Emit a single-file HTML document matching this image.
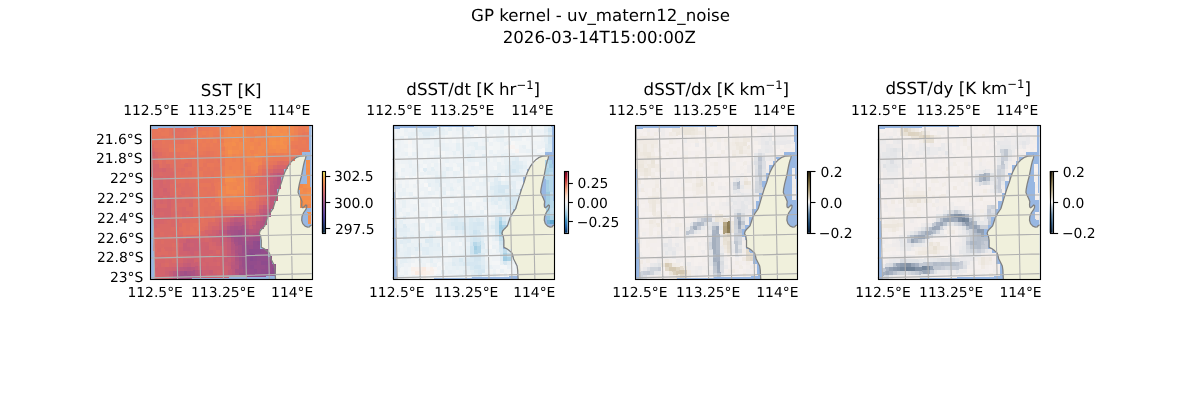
<!DOCTYPE html>
<html><head><meta charset="utf-8"><title>GP kernel</title>
<style>html,body{margin:0;padding:0;background:#fff;width:1200px;height:400px;overflow:hidden}svg{display:block;text-rendering:geometricPrecision;will-change:transform}</style>
</head><body>
<svg width="1200" height="400" viewBox="0 0 1200 400" font-family="'DejaVu Sans', sans-serif">
<rect width="1200" height="400" fill="#fff"/>
<defs>
<clipPath id="mc"><rect x="0" y="0" width="161.74" height="153.60"/></clipPath>
<path id="land" d="M125.69 155.60 L125.29 150.20 L125.09 145.00 L124.49 140.60 L122.79 137.10 L120.99 133.60 L120.14 130.10 L119.29 127.50 L116.64 125.20 L113.89 123.20 L111.29 121.90 L111.29 119.10 L111.29 115.00 L110.64 110.85 L109.29 108.10 L109.99 105.60 L111.99 103.30 L114.79 100.50 L116.14 96.40 L117.49 92.30 L119.59 88.20 L122.99 83.35 L125.09 76.50 L126.89 70.30 L128.89 64.00 L131.49 57.00 L133.29 50.85 L134.79 46.80 L137.19 42.00 L140.39 37.20 L143.59 34.00 L146.39 32.00 L149.99 30.80 L153.99 30.40 L155.59 30.00 L155.99 30.80 L155.59 32.80 L154.59 35.60 L153.59 39.60 L152.59 44.40 L151.59 50.00 L150.39 54.60 L149.39 58.50 L148.39 63.70 L148.09 67.00 L149.09 69.60 L150.69 72.80 L151.99 76.10 L151.69 79.30 L151.89 81.60 L152.89 82.40 L154.39 81.10 L155.89 79.60 L156.79 80.20 L156.69 82.10 L155.59 84.50 L153.69 87.10 L151.99 91.00 L151.69 94.90 L152.69 98.20 L154.99 100.80 L157.59 101.70 L159.49 101.40 L160.49 100.10 L165.39 98.60 L175 98.60 L175 165 L125.69 165 Z"/>
<path id="coast" d="M125.69 155.60 L125.29 150.20 L125.09 145.00 L124.49 140.60 L122.79 137.10 L120.99 133.60 L120.14 130.10 L119.29 127.50 L116.64 125.20 L113.89 123.20 L111.29 121.90 L111.29 119.10 L111.29 115.00 L110.64 110.85 L109.29 108.10 L109.99 105.60 L111.99 103.30 L114.79 100.50 L116.14 96.40 L117.49 92.30 L119.59 88.20 L122.99 83.35 L125.09 76.50 L126.89 70.30 L128.89 64.00 L131.49 57.00 L133.29 50.85 L134.79 46.80 L137.19 42.00 L140.39 37.20 L143.59 34.00 L146.39 32.00 L149.99 30.80 L153.99 30.40 L155.59 30.00 L155.99 30.80 L155.59 32.80 L154.59 35.60 L153.59 39.60 L152.59 44.40 L151.59 50.00 L150.39 54.60 L149.39 58.50 L148.39 63.70 L148.09 67.00 L149.09 69.60 L150.69 72.80 L151.99 76.10 L151.69 79.30 L151.89 81.60 L152.89 82.40 L154.39 81.10 L155.89 79.60 L156.79 80.20 L156.69 82.10 L155.59 84.50 L153.69 87.10 L151.99 91.00 L151.69 94.90 L152.69 98.20 L154.99 100.80 L157.59 101.70 L159.49 101.40 L160.49 100.10 L165.39 98.60"/>
<path id="grid" d="M0.93 -3.00 L4.77 156.60 M23.98 -3.00 L27.69 156.60 M47.03 -3.00 L50.61 156.60 M70.09 -3.00 L73.52 156.60 M93.14 -3.00 L96.44 156.60 M116.19 -3.00 L119.36 156.60 M139.24 -3.00 L142.28 156.60 M162.30 -3.00 L165.19 156.60 M-3.00 14.27 L164.74 10.25 M-3.00 34.02 L164.74 29.95 M-3.00 53.77 L164.74 49.65 M-3.00 73.52 L164.74 69.35 M-3.00 93.28 L164.74 89.05 M-3.00 113.03 L164.74 108.75 M-3.00 132.78 L164.74 128.45 M-3.00 152.53 L164.74 148.15 M-3.00 172.28 L164.74 167.85"/>
<linearGradient id="g0" x1="0" y1="1" x2="0" y2="0">
<stop offset="0" stop-color="#0a2a3a"/><stop offset="0.12" stop-color="#1e3470"/><stop offset="0.25" stop-color="#4a3c9c"/>
<stop offset="0.4" stop-color="#7a4a98"/><stop offset="0.5" stop-color="#a2568a"/><stop offset="0.62" stop-color="#cc6474"/>
<stop offset="0.75" stop-color="#ec7a58"/><stop offset="0.88" stop-color="#f7a046"/><stop offset="1" stop-color="#e8f25c"/></linearGradient>
<linearGradient id="g1" x1="0" y1="1" x2="0" y2="0">
<stop offset="0" stop-color="#053061"/><stop offset="0.1" stop-color="#2166ac"/><stop offset="0.2" stop-color="#4393c3"/>
<stop offset="0.3" stop-color="#92c5de"/><stop offset="0.4" stop-color="#d1e5f0"/><stop offset="0.5" stop-color="#f7f7f7"/>
<stop offset="0.6" stop-color="#fddbc7"/><stop offset="0.7" stop-color="#f4a582"/><stop offset="0.8" stop-color="#d6604d"/>
<stop offset="0.9" stop-color="#b2182b"/><stop offset="1" stop-color="#67001f"/></linearGradient>
<linearGradient id="g2" x1="0" y1="1" x2="0" y2="0">
<stop offset="0" stop-color="#0b1d33"/><stop offset="0.15" stop-color="#1f4a72"/><stop offset="0.3" stop-color="#5b7f9f"/>
<stop offset="0.42" stop-color="#b4c4d2"/><stop offset="0.5" stop-color="#fdfcfb"/><stop offset="0.58" stop-color="#d7cfbd"/>
<stop offset="0.7" stop-color="#a89a74"/><stop offset="0.85" stop-color="#6a5b30"/><stop offset="1" stop-color="#231d0b"/></linearGradient>
</defs>
<text x="600.50" y="21.00" font-size="16.667" text-anchor="middle">GP kernel - uv_matern12_noise</text>
<text x="599.25" y="42.50" font-size="16.667" text-anchor="middle">2026-03-14T15:00:00Z</text>
<text x="231.12" y="95.50" font-size="16.667" text-anchor="middle">SST [K]</text>
<g transform="translate(150.00 125.40)"><g clip-path="url(#mc)">
<rect x="0" y="0" width="161.74" height="153.60" fill="#98b7e2"/>
<use href="#land" fill="#f0f0dc"/>
<g transform="matrix(0.99964 -0.02700 0.02700 0.99964 0.20 3.30)" shape-rendering="crispEdges">
<path fill="#e7765a" d="M0.00 0.00h7.40v3.99h-7.40zM11.07 0.00h3.71v3.99h-3.71zM0.00 3.97h11.09v3.99h-11.09zM44.28 3.97h3.71v3.99h-3.71zM7.38 7.94h3.71v3.99h-3.71zM14.76 7.94h7.40v3.99h-7.40zM151.29 7.94h3.71v3.99h-3.71zM11.07 11.91h3.71v3.99h-3.71zM18.45 15.88h3.71v3.99h-3.71zM25.83 15.88h7.40v3.99h-7.40zM36.90 15.88h7.40v3.99h-7.40zM22.14 19.85h3.71v3.99h-3.71zM29.52 19.85h3.71v3.99h-3.71zM36.90 19.85h3.71v3.99h-3.71zM36.90 23.82h3.71v3.99h-3.71zM51.66 23.82h3.71v3.99h-3.71zM59.04 23.82h3.71v3.99h-3.71zM29.52 27.79h3.71v3.99h-3.71zM59.04 27.79h3.71v3.99h-3.71zM51.66 31.76h3.71v3.99h-3.71zM62.73 31.76h3.71v3.99h-3.71zM129.15 31.76h11.09v3.99h-11.09zM62.73 35.73h7.40v3.99h-7.40zM118.08 35.73h3.71v3.99h-3.71zM44.28 39.70h3.71v3.99h-3.71zM51.66 39.70h3.71v3.99h-3.71zM59.04 39.70h3.71v3.99h-3.71zM44.28 43.67h3.71v3.99h-3.71zM62.73 43.67h7.40v3.99h-7.40zM107.01 43.67h3.71v3.99h-3.71zM55.35 47.64h3.71v3.99h-3.71zM62.73 47.64h7.40v3.99h-7.40zM103.32 47.64h3.71v3.99h-3.71zM62.73 51.61h7.40v3.99h-7.40zM95.94 51.61h3.71v3.99h-3.71zM47.97 55.58h11.09v3.99h-11.09zM99.63 55.58h3.71v3.99h-3.71zM99.63 59.55h3.71v3.99h-3.71zM62.73 67.49h3.71v3.99h-3.71zM99.63 71.46h3.71v3.99h-3.71zM73.80 79.40h3.71v3.99h-3.71zM84.87 79.40h3.71v3.99h-3.71z"/>
<path fill="#e97859" d="M7.38 0.00h3.71v3.99h-3.71zM14.76 0.00h3.71v3.99h-3.71zM47.97 0.00h3.71v3.99h-3.71zM11.07 3.97h7.40v3.99h-7.40zM40.59 7.94h3.71v3.99h-3.71zM154.98 7.94h3.71v3.99h-3.71zM40.59 11.91h3.71v3.99h-3.71zM66.42 11.91h3.71v3.99h-3.71zM151.29 11.91h7.40v3.99h-7.40zM33.21 15.88h3.71v3.99h-3.71zM154.98 15.88h3.71v3.99h-3.71zM18.45 19.85h3.71v3.99h-3.71zM25.83 19.85h3.71v3.99h-3.71zM33.21 19.85h3.71v3.99h-3.71zM44.28 19.85h3.71v3.99h-3.71zM55.35 19.85h3.71v3.99h-3.71zM143.91 19.85h3.71v3.99h-3.71zM40.59 23.82h3.71v3.99h-3.71zM47.97 23.82h3.71v3.99h-3.71zM62.73 23.82h3.71v3.99h-3.71zM147.60 23.82h7.40v3.99h-7.40zM62.73 27.79h7.40v3.99h-7.40zM147.60 27.79h3.71v3.99h-3.71zM47.97 31.76h3.71v3.99h-3.71zM121.77 31.76h7.40v3.99h-7.40zM47.97 35.73h3.71v3.99h-3.71zM55.35 35.73h7.40v3.99h-7.40zM70.11 35.73h3.71v3.99h-3.71zM114.39 35.73h3.71v3.99h-3.71zM47.97 43.67h3.71v3.99h-3.71zM47.97 47.64h3.71v3.99h-3.71zM62.73 55.58h3.71v3.99h-3.71zM95.94 55.58h3.71v3.99h-3.71zM62.73 59.55h3.71v3.99h-3.71zM95.94 59.55h3.71v3.99h-3.71zM62.73 63.52h3.71v3.99h-3.71zM95.94 63.52h3.71v3.99h-3.71zM95.94 67.49h3.71v3.99h-3.71zM62.73 71.46h3.71v3.99h-3.71zM95.94 71.46h3.71v3.99h-3.71zM92.25 75.43h3.71v3.99h-3.71zM77.49 79.40h7.40v3.99h-7.40zM88.56 79.40h3.71v3.99h-3.71z"/>
<path fill="#e5745c" d="M18.45 0.00h3.71v3.99h-3.71zM18.45 3.97h3.71v3.99h-3.71zM40.59 3.97h3.71v3.99h-3.71zM0.00 7.94h7.40v3.99h-7.40zM11.07 7.94h3.71v3.99h-3.71zM36.90 7.94h3.71v3.99h-3.71zM14.76 11.91h11.09v3.99h-11.09zM33.21 11.91h7.40v3.99h-7.40zM11.07 15.88h7.40v3.99h-7.40zM22.14 15.88h3.71v3.99h-3.71zM40.59 19.85h3.71v3.99h-3.71zM29.52 23.82h7.40v3.99h-7.40zM44.28 23.82h3.71v3.99h-3.71zM55.35 23.82h3.71v3.99h-3.71zM33.21 27.79h25.85v3.99h-25.85zM40.59 31.76h3.71v3.99h-3.71zM55.35 31.76h7.40v3.99h-7.40zM140.22 31.76h3.71v3.99h-3.71zM40.59 35.73h7.40v3.99h-7.40zM51.66 35.73h3.71v3.99h-3.71zM121.77 35.73h3.71v3.99h-3.71zM47.97 39.70h3.71v3.99h-3.71zM55.35 39.70h3.71v3.99h-3.71zM62.73 39.70h7.40v3.99h-7.40zM110.70 39.70h7.40v3.99h-7.40zM51.66 43.67h11.09v3.99h-11.09zM44.28 47.64h3.71v3.99h-3.71zM51.66 47.64h3.71v3.99h-3.71zM107.01 47.64h3.71v3.99h-3.71zM44.28 51.61h3.71v3.99h-3.71zM59.04 51.61h3.71v3.99h-3.71zM99.63 51.61h3.71v3.99h-3.71zM44.28 55.58h3.71v3.99h-3.71zM47.97 59.55h3.71v3.99h-3.71zM55.35 59.55h3.71v3.99h-3.71zM44.28 63.52h11.09v3.99h-11.09zM59.04 63.52h3.71v3.99h-3.71zM99.63 63.52h3.71v3.99h-3.71zM47.97 67.49h3.71v3.99h-3.71zM99.63 67.49h3.71v3.99h-3.71zM59.04 75.43h3.71v3.99h-3.71zM99.63 75.43h3.71v3.99h-3.71zM66.42 79.40h3.71v3.99h-3.71zM47.97 87.34h3.71v3.99h-3.71z"/>
<path fill="#e2705f" d="M22.14 0.00h3.71v3.99h-3.71zM29.52 0.00h3.71v3.99h-3.71zM25.83 3.97h7.40v3.99h-7.40zM22.14 7.94h3.71v3.99h-3.71zM29.52 7.94h3.71v3.99h-3.71zM3.69 11.91h3.71v3.99h-3.71zM29.52 11.91h3.71v3.99h-3.71zM7.38 19.85h3.71v3.99h-3.71zM11.07 23.82h3.71v3.99h-3.71zM18.45 23.82h3.71v3.99h-3.71zM14.76 27.79h7.40v3.99h-7.40zM25.83 27.79h3.71v3.99h-3.71zM7.38 31.76h3.71v3.99h-3.71zM14.76 31.76h7.40v3.99h-7.40zM25.83 31.76h3.71v3.99h-3.71zM36.90 31.76h3.71v3.99h-3.71zM25.83 35.73h7.40v3.99h-7.40zM33.21 39.70h3.71v3.99h-3.71zM118.08 39.70h3.71v3.99h-3.71zM25.83 43.67h3.71v3.99h-3.71zM33.21 43.67h3.71v3.99h-3.71zM25.83 47.64h14.78v3.99h-14.78zM25.83 51.61h7.40v3.99h-7.40zM36.90 51.61h7.40v3.99h-7.40zM103.32 51.61h3.71v3.99h-3.71zM103.32 55.58h3.71v3.99h-3.71zM22.14 59.55h3.71v3.99h-3.71zM40.59 63.52h3.71v3.99h-3.71zM103.32 63.52h3.71v3.99h-3.71zM103.32 67.49h3.71v3.99h-3.71zM44.28 71.46h3.71v3.99h-3.71zM51.66 71.46h3.71v3.99h-3.71zM59.04 71.46h3.71v3.99h-3.71zM40.59 75.43h3.71v3.99h-3.71zM55.35 75.43h3.71v3.99h-3.71zM44.28 79.40h3.71v3.99h-3.71zM51.66 79.40h11.09v3.99h-11.09zM44.28 83.37h3.71v3.99h-3.71zM55.35 83.37h3.71v3.99h-3.71zM70.11 83.37h7.40v3.99h-7.40zM88.56 83.37h7.40v3.99h-7.40zM55.35 87.34h7.40v3.99h-7.40zM51.66 91.31h3.71v3.99h-3.71zM59.04 91.31h3.71v3.99h-3.71zM29.52 95.28h3.71v3.99h-3.71zM36.90 95.28h3.71v3.99h-3.71zM47.97 95.28h7.40v3.99h-7.40zM29.52 99.25h3.71v3.99h-3.71zM40.59 99.25h3.71v3.99h-3.71zM29.52 103.22h7.40v3.99h-7.40z"/>
<path fill="#e06e61" d="M25.83 0.00h3.71v3.99h-3.71zM33.21 0.00h3.71v3.99h-3.71zM22.14 3.97h3.71v3.99h-3.71zM25.83 7.94h3.71v3.99h-3.71zM3.69 19.85h3.71v3.99h-3.71zM7.38 27.79h7.40v3.99h-7.40zM22.14 31.76h3.71v3.99h-3.71zM7.38 35.73h3.71v3.99h-3.71zM18.45 35.73h7.40v3.99h-7.40zM36.90 35.73h3.71v3.99h-3.71zM125.46 35.73h3.71v3.99h-3.71zM132.84 35.73h3.71v3.99h-3.71zM22.14 39.70h7.40v3.99h-7.40zM22.14 43.67h3.71v3.99h-3.71zM29.52 43.67h3.71v3.99h-3.71zM36.90 43.67h3.71v3.99h-3.71zM110.70 43.67h3.71v3.99h-3.71zM22.14 47.64h3.71v3.99h-3.71zM22.14 51.61h3.71v3.99h-3.71zM33.21 51.61h3.71v3.99h-3.71zM29.52 55.58h3.71v3.99h-3.71zM36.90 55.58h7.40v3.99h-7.40zM25.83 59.55h3.71v3.99h-3.71zM40.59 59.55h3.71v3.99h-3.71zM103.32 59.55h3.71v3.99h-3.71zM22.14 63.52h7.40v3.99h-7.40zM22.14 67.49h3.71v3.99h-3.71zM33.21 67.49h3.71v3.99h-3.71zM40.59 67.49h3.71v3.99h-3.71zM40.59 71.46h3.71v3.99h-3.71zM103.32 75.43h3.71v3.99h-3.71zM40.59 79.40h3.71v3.99h-3.71zM40.59 83.37h3.71v3.99h-3.71zM51.66 83.37h3.71v3.99h-3.71zM62.73 83.37h7.40v3.99h-7.40zM77.49 83.37h11.09v3.99h-11.09zM40.59 87.34h7.40v3.99h-7.40zM51.66 87.34h3.71v3.99h-3.71zM25.83 91.31h3.71v3.99h-3.71zM36.90 91.31h11.09v3.99h-11.09zM55.35 91.31h3.71v3.99h-3.71zM33.21 95.28h3.71v3.99h-3.71zM25.83 99.25h3.71v3.99h-3.71zM33.21 99.25h3.71v3.99h-3.71zM47.97 99.25h3.71v3.99h-3.71zM44.28 103.22h3.71v3.99h-3.71z"/>
<path fill="#e4725e" d="M36.90 0.00h11.09v3.99h-11.09zM33.21 3.97h7.40v3.99h-7.40zM33.21 7.94h3.71v3.99h-3.71zM0.00 11.91h3.71v3.99h-3.71zM7.38 11.91h3.71v3.99h-3.71zM25.83 11.91h3.71v3.99h-3.71zM3.69 15.88h7.40v3.99h-7.40zM11.07 19.85h7.40v3.99h-7.40zM14.76 23.82h3.71v3.99h-3.71zM22.14 23.82h7.40v3.99h-7.40zM22.14 27.79h3.71v3.99h-3.71zM29.52 31.76h7.40v3.99h-7.40zM44.28 31.76h3.71v3.99h-3.71zM66.42 31.76h3.71v3.99h-3.71zM36.90 39.70h7.40v3.99h-7.40zM40.59 43.67h3.71v3.99h-3.71zM40.59 47.64h3.71v3.99h-3.71zM59.04 47.64h3.71v3.99h-3.71zM47.97 51.61h11.09v3.99h-11.09zM59.04 55.58h3.71v3.99h-3.71zM44.28 59.55h3.71v3.99h-3.71zM51.66 59.55h3.71v3.99h-3.71zM59.04 59.55h3.71v3.99h-3.71zM55.35 63.52h3.71v3.99h-3.71zM44.28 67.49h3.71v3.99h-3.71zM51.66 67.49h11.09v3.99h-11.09zM47.97 71.46h3.71v3.99h-3.71zM55.35 71.46h3.71v3.99h-3.71zM103.32 71.46h3.71v3.99h-3.71zM44.28 75.43h11.09v3.99h-11.09zM62.73 75.43h3.71v3.99h-3.71zM95.94 75.43h3.71v3.99h-3.71zM47.97 79.40h3.71v3.99h-3.71zM62.73 79.40h3.71v3.99h-3.71zM70.11 79.40h3.71v3.99h-3.71zM92.25 79.40h11.09v3.99h-11.09zM47.97 83.37h3.71v3.99h-3.71zM59.04 83.37h3.71v3.99h-3.71zM47.97 91.31h3.71v3.99h-3.71zM40.59 95.28h7.40v3.99h-7.40zM36.90 99.25h3.71v3.99h-3.71zM44.28 99.25h3.71v3.99h-3.71zM36.90 103.22h7.40v3.99h-7.40z"/>
<path fill="#ea7a58" d="M51.66 0.00h7.40v3.99h-7.40zM151.29 3.97h3.71v3.99h-3.71zM44.28 7.94h3.71v3.99h-3.71zM51.66 7.94h3.71v3.99h-3.71zM62.73 7.94h7.40v3.99h-7.40zM147.60 7.94h3.71v3.99h-3.71zM51.66 11.91h3.71v3.99h-3.71zM59.04 11.91h3.71v3.99h-3.71zM147.60 11.91h3.71v3.99h-3.71zM44.28 15.88h7.40v3.99h-7.40zM55.35 15.88h3.71v3.99h-3.71zM62.73 15.88h7.40v3.99h-7.40zM147.60 15.88h3.71v3.99h-3.71zM47.97 19.85h7.40v3.99h-7.40zM59.04 19.85h11.09v3.99h-11.09zM140.22 19.85h3.71v3.99h-3.71zM147.60 19.85h11.09v3.99h-11.09zM66.42 23.82h3.71v3.99h-3.71zM154.98 23.82h3.71v3.99h-3.71zM140.22 27.79h7.40v3.99h-7.40zM70.11 31.76h3.71v3.99h-3.71zM118.08 31.76h3.71v3.99h-3.71zM110.70 35.73h3.71v3.99h-3.71zM107.01 39.70h3.71v3.99h-3.71zM95.94 43.67h3.71v3.99h-3.71zM95.94 47.64h7.40v3.99h-7.40zM66.42 55.58h3.71v3.99h-3.71zM66.42 59.55h3.71v3.99h-3.71zM92.25 67.49h3.71v3.99h-3.71zM92.25 71.46h3.71v3.99h-3.71zM66.42 75.43h7.40v3.99h-7.40zM77.49 75.43h3.71v3.99h-3.71z"/>
<path fill="#ec7c56" d="M59.04 0.00h7.40v3.99h-7.40zM147.60 0.00h7.40v3.99h-7.40zM47.97 3.97h3.71v3.99h-3.71zM55.35 3.97h3.71v3.99h-3.71zM62.73 3.97h7.40v3.99h-7.40zM147.60 3.97h3.71v3.99h-3.71zM47.97 7.94h3.71v3.99h-3.71zM55.35 7.94h3.71v3.99h-3.71zM44.28 11.91h7.40v3.99h-7.40zM55.35 11.91h3.71v3.99h-3.71zM70.11 11.91h3.71v3.99h-3.71zM51.66 15.88h3.71v3.99h-3.71zM59.04 15.88h3.71v3.99h-3.71zM140.22 15.88h7.40v3.99h-7.40zM151.29 15.88h3.71v3.99h-3.71zM70.11 19.85h3.71v3.99h-3.71zM143.91 23.82h3.71v3.99h-3.71zM70.11 27.79h3.71v3.99h-3.71zM121.77 27.79h3.71v3.99h-3.71zM129.15 27.79h3.71v3.99h-3.71zM136.53 27.79h3.71v3.99h-3.71zM88.56 31.76h3.71v3.99h-3.71zM110.70 31.76h3.71v3.99h-3.71zM70.11 39.70h3.71v3.99h-3.71zM70.11 43.67h3.71v3.99h-3.71zM70.11 47.64h3.71v3.99h-3.71zM66.42 71.46h7.40v3.99h-7.40zM73.80 75.43h3.71v3.99h-3.71zM81.18 75.43h11.09v3.99h-11.09z"/>
<path fill="#ed7f54" d="M66.42 0.00h7.40v3.99h-7.40zM154.98 0.00h3.71v3.99h-3.71zM51.66 3.97h3.71v3.99h-3.71zM59.04 3.97h3.71v3.99h-3.71zM70.11 3.97h3.71v3.99h-3.71zM154.98 3.97h3.71v3.99h-3.71zM59.04 7.94h3.71v3.99h-3.71zM62.73 11.91h3.71v3.99h-3.71zM143.91 11.91h3.71v3.99h-3.71zM140.22 23.82h3.71v3.99h-3.71zM114.39 27.79h7.40v3.99h-7.40zM125.46 27.79h3.71v3.99h-3.71zM132.84 27.79h3.71v3.99h-3.71zM81.18 31.76h3.71v3.99h-3.71zM114.39 31.76h3.71v3.99h-3.71zM88.56 35.73h7.40v3.99h-7.40zM77.49 39.70h3.71v3.99h-3.71zM88.56 39.70h3.71v3.99h-3.71zM95.94 39.70h3.71v3.99h-3.71zM92.25 43.67h3.71v3.99h-3.71zM99.63 43.67h3.71v3.99h-3.71zM92.25 47.64h3.71v3.99h-3.71zM70.11 51.61h3.71v3.99h-3.71zM92.25 51.61h3.71v3.99h-3.71zM70.11 55.58h3.71v3.99h-3.71zM92.25 59.55h3.71v3.99h-3.71zM66.42 63.52h3.71v3.99h-3.71zM92.25 63.52h3.71v3.99h-3.71zM66.42 67.49h3.71v3.99h-3.71zM77.49 71.46h11.09v3.99h-11.09z"/>
<path fill="#f1884f" d="M73.80 0.00h3.71v3.99h-3.71zM81.18 0.00h14.78v3.99h-14.78zM114.39 0.00h3.71v3.99h-3.71zM140.22 0.00h3.71v3.99h-3.71zM73.80 3.97h3.71v3.99h-3.71zM81.18 3.97h3.71v3.99h-3.71zM88.56 3.97h3.71v3.99h-3.71zM103.32 3.97h3.71v3.99h-3.71zM114.39 3.97h3.71v3.99h-3.71zM136.53 3.97h7.40v3.99h-7.40zM73.80 7.94h3.71v3.99h-3.71zM118.08 7.94h3.71v3.99h-3.71zM73.80 11.91h7.40v3.99h-7.40zM95.94 11.91h3.71v3.99h-3.71zM103.32 11.91h3.71v3.99h-3.71zM136.53 11.91h3.71v3.99h-3.71zM84.87 15.88h3.71v3.99h-3.71zM92.25 15.88h11.09v3.99h-11.09zM110.70 15.88h7.40v3.99h-7.40zM136.53 15.88h3.71v3.99h-3.71zM73.80 19.85h3.71v3.99h-3.71zM81.18 19.85h7.40v3.99h-7.40zM92.25 19.85h7.40v3.99h-7.40zM107.01 19.85h7.40v3.99h-7.40zM73.80 23.82h3.71v3.99h-3.71zM88.56 23.82h3.71v3.99h-3.71zM95.94 23.82h3.71v3.99h-3.71zM107.01 23.82h3.71v3.99h-3.71zM114.39 23.82h11.09v3.99h-11.09zM129.15 23.82h7.40v3.99h-7.40zM84.87 27.79h3.71v3.99h-3.71zM95.94 27.79h3.71v3.99h-3.71zM107.01 27.79h7.40v3.99h-7.40zM95.94 31.76h7.40v3.99h-7.40zM103.32 35.73h3.71v3.99h-3.71zM73.80 47.64h11.09v3.99h-11.09zM88.56 47.64h3.71v3.99h-3.71zM73.80 55.58h11.09v3.99h-11.09zM88.56 55.58h3.71v3.99h-3.71zM77.49 59.55h3.71v3.99h-3.71zM88.56 59.55h3.71v3.99h-3.71zM147.60 59.55h3.71v3.99h-3.71zM84.87 63.52h7.40v3.99h-7.40zM151.29 63.52h3.71v3.99h-3.71zM81.18 67.49h3.71v3.99h-3.71zM154.98 79.40h3.71v3.99h-3.71z"/>
<path fill="#f38b4e" d="M77.49 0.00h3.71v3.99h-3.71zM118.08 0.00h3.71v3.99h-3.71zM125.46 0.00h3.71v3.99h-3.71zM136.53 0.00h3.71v3.99h-3.71zM77.49 3.97h3.71v3.99h-3.71zM84.87 3.97h3.71v3.99h-3.71zM92.25 3.97h3.71v3.99h-3.71zM129.15 3.97h3.71v3.99h-3.71zM77.49 7.94h18.47v3.99h-18.47zM114.39 7.94h3.71v3.99h-3.71zM81.18 11.91h7.40v3.99h-7.40zM92.25 11.91h3.71v3.99h-3.71zM125.46 11.91h3.71v3.99h-3.71zM73.80 15.88h7.40v3.99h-7.40zM88.56 15.88h3.71v3.99h-3.71zM132.84 15.88h3.71v3.99h-3.71zM77.49 19.85h3.71v3.99h-3.71zM88.56 19.85h3.71v3.99h-3.71zM99.63 19.85h3.71v3.99h-3.71zM118.08 19.85h3.71v3.99h-3.71zM125.46 19.85h3.71v3.99h-3.71zM81.18 23.82h7.40v3.99h-7.40zM125.46 23.82h3.71v3.99h-3.71zM77.49 27.79h3.71v3.99h-3.71zM103.32 27.79h3.71v3.99h-3.71zM81.18 51.61h3.71v3.99h-3.71zM73.80 59.55h3.71v3.99h-3.71zM84.87 59.55h3.71v3.99h-3.71zM73.80 63.52h11.09v3.99h-11.09zM154.98 63.52h3.71v3.99h-3.71zM147.60 67.49h7.40v3.99h-7.40z"/>
<path fill="#f08551" d="M95.94 0.00h7.40v3.99h-7.40zM107.01 0.00h3.71v3.99h-3.71zM107.01 3.97h3.71v3.99h-3.71zM70.11 7.94h3.71v3.99h-3.71zM95.94 7.94h3.71v3.99h-3.71zM107.01 7.94h3.71v3.99h-3.71zM140.22 7.94h3.71v3.99h-3.71zM88.56 11.91h3.71v3.99h-3.71zM107.01 11.91h11.09v3.99h-11.09zM140.22 11.91h3.71v3.99h-3.71zM103.32 15.88h3.71v3.99h-3.71zM103.32 19.85h3.71v3.99h-3.71zM114.39 19.85h3.71v3.99h-3.71zM92.25 23.82h3.71v3.99h-3.71zM103.32 23.82h3.71v3.99h-3.71zM110.70 23.82h3.71v3.99h-3.71zM73.80 27.79h3.71v3.99h-3.71zM81.18 27.79h3.71v3.99h-3.71zM88.56 27.79h7.40v3.99h-7.40zM99.63 27.79h3.71v3.99h-3.71zM103.32 31.76h3.71v3.99h-3.71zM99.63 35.73h3.71v3.99h-3.71zM107.01 35.73h3.71v3.99h-3.71zM99.63 39.70h7.40v3.99h-7.40zM73.80 43.67h7.40v3.99h-7.40zM84.87 43.67h3.71v3.99h-3.71zM84.87 47.64h3.71v3.99h-3.71zM84.87 51.61h7.40v3.99h-7.40zM84.87 55.58h3.71v3.99h-3.71zM70.11 59.55h3.71v3.99h-3.71zM81.18 59.55h3.71v3.99h-3.71zM70.11 63.52h3.71v3.99h-3.71zM70.11 67.49h3.71v3.99h-3.71zM77.49 67.49h3.71v3.99h-3.71z"/>
<path fill="#ef8253" d="M103.32 0.00h3.71v3.99h-3.71zM110.70 0.00h3.71v3.99h-3.71zM143.91 0.00h3.71v3.99h-3.71zM95.94 3.97h7.40v3.99h-7.40zM110.70 3.97h3.71v3.99h-3.71zM143.91 3.97h3.71v3.99h-3.71zM99.63 7.94h7.40v3.99h-7.40zM110.70 7.94h3.71v3.99h-3.71zM143.91 7.94h3.71v3.99h-3.71zM99.63 11.91h3.71v3.99h-3.71zM70.11 15.88h3.71v3.99h-3.71zM107.01 15.88h3.71v3.99h-3.71zM136.53 19.85h3.71v3.99h-3.71zM70.11 23.82h3.71v3.99h-3.71zM99.63 23.82h3.71v3.99h-3.71zM136.53 23.82h3.71v3.99h-3.71zM73.80 31.76h7.40v3.99h-7.40zM84.87 31.76h3.71v3.99h-3.71zM92.25 31.76h3.71v3.99h-3.71zM107.01 31.76h3.71v3.99h-3.71zM73.80 35.73h14.78v3.99h-14.78zM95.94 35.73h3.71v3.99h-3.71zM73.80 39.70h3.71v3.99h-3.71zM81.18 39.70h7.40v3.99h-7.40zM92.25 39.70h3.71v3.99h-3.71zM81.18 43.67h3.71v3.99h-3.71zM88.56 43.67h3.71v3.99h-3.71zM103.32 43.67h3.71v3.99h-3.71zM92.25 55.58h3.71v3.99h-3.71zM73.80 67.49h3.71v3.99h-3.71zM84.87 67.49h7.40v3.99h-7.40zM73.80 71.46h3.71v3.99h-3.71zM88.56 71.46h3.71v3.99h-3.71z"/>
<path fill="#f5944a" d="M121.77 0.00h3.71v3.99h-3.71z"/>
<path fill="#f48e4c" d="M129.15 0.00h3.71v3.99h-3.71zM118.08 3.97h11.09v3.99h-11.09zM132.84 3.97h3.71v3.99h-3.71zM121.77 7.94h7.40v3.99h-7.40zM132.84 7.94h7.40v3.99h-7.40zM118.08 11.91h7.40v3.99h-7.40zM132.84 11.91h3.71v3.99h-3.71zM81.18 15.88h3.71v3.99h-3.71zM118.08 15.88h3.71v3.99h-3.71zM125.46 15.88h3.71v3.99h-3.71zM121.77 19.85h3.71v3.99h-3.71zM129.15 19.85h7.40v3.99h-7.40zM154.98 35.73h3.71v3.99h-3.71zM154.98 43.67h3.71v3.99h-3.71zM154.98 47.64h3.71v3.99h-3.71zM73.80 51.61h7.40v3.99h-7.40zM151.29 59.55h3.71v3.99h-3.71zM147.60 63.52h3.71v3.99h-3.71zM147.60 71.46h11.09v3.99h-11.09zM147.60 75.43h3.71v3.99h-3.71zM147.60 79.40h7.40v3.99h-7.40zM154.98 91.31h3.71v3.99h-3.71zM154.98 95.28h3.71v3.99h-3.71z"/>
<path fill="#f5914b" d="M132.84 0.00h3.71v3.99h-3.71zM129.15 7.94h3.71v3.99h-3.71zM129.15 11.91h3.71v3.99h-3.71zM121.77 15.88h3.71v3.99h-3.71zM129.15 15.88h3.71v3.99h-3.71zM77.49 23.82h3.71v3.99h-3.71zM154.98 39.70h3.71v3.99h-3.71zM154.98 51.61h3.71v3.99h-3.71zM154.98 55.58h3.71v3.99h-3.71zM154.98 59.55h3.71v3.99h-3.71zM154.98 67.49h3.71v3.99h-3.71zM151.29 75.43h7.40v3.99h-7.40zM154.98 87.34h3.71v3.99h-3.71z"/>
<path fill="#dd6c64" d="M0.00 15.88h3.71v3.99h-3.71zM7.38 23.82h3.71v3.99h-3.71zM3.69 31.76h3.71v3.99h-3.71zM11.07 31.76h3.71v3.99h-3.71zM11.07 35.73h3.71v3.99h-3.71zM33.21 35.73h3.71v3.99h-3.71zM129.15 35.73h3.71v3.99h-3.71zM136.53 35.73h3.71v3.99h-3.71zM29.52 39.70h3.71v3.99h-3.71zM110.70 47.64h3.71v3.99h-3.71zM107.01 51.61h3.71v3.99h-3.71zM18.45 55.58h11.09v3.99h-11.09zM33.21 55.58h3.71v3.99h-3.71zM29.52 59.55h11.09v3.99h-11.09zM107.01 59.55h7.40v3.99h-7.40zM33.21 63.52h7.40v3.99h-7.40zM29.52 67.49h3.71v3.99h-3.71zM36.90 67.49h3.71v3.99h-3.71zM107.01 67.49h7.40v3.99h-7.40zM29.52 71.46h3.71v3.99h-3.71zM107.01 71.46h3.71v3.99h-3.71zM22.14 75.43h14.78v3.99h-14.78zM22.14 79.40h3.71v3.99h-3.71zM33.21 79.40h7.40v3.99h-7.40zM103.32 79.40h3.71v3.99h-3.71zM95.94 83.37h7.40v3.99h-7.40zM22.14 87.34h7.40v3.99h-7.40zM33.21 87.34h3.71v3.99h-3.71zM62.73 87.34h3.71v3.99h-3.71zM29.52 91.31h7.40v3.99h-7.40zM18.45 99.25h3.71v3.99h-3.71zM51.66 99.25h3.71v3.99h-3.71zM7.38 103.22h3.71v3.99h-3.71zM22.14 103.22h7.40v3.99h-7.40zM14.76 107.19h3.71v3.99h-3.71zM29.52 107.19h3.71v3.99h-3.71zM0.00 111.16h3.71v3.99h-3.71zM7.38 111.16h3.71v3.99h-3.71zM18.45 115.13h3.71v3.99h-3.71zM0.00 119.10h3.71v3.99h-3.71zM7.38 119.10h3.71v3.99h-3.71zM3.69 123.07h11.09v3.99h-11.09zM18.45 123.07h3.71v3.99h-3.71z"/>
<path fill="#d86868" d="M0.00 19.85h3.71v3.99h-3.71zM3.69 27.79h3.71v3.99h-3.71zM0.00 31.76h3.71v3.99h-3.71zM14.76 39.70h3.71v3.99h-3.71zM3.69 43.67h3.71v3.99h-3.71zM11.07 43.67h11.09v3.99h-11.09zM118.08 43.67h3.71v3.99h-3.71zM11.07 47.64h3.71v3.99h-3.71zM11.07 51.61h3.71v3.99h-3.71zM11.07 67.49h3.71v3.99h-3.71zM18.45 71.46h3.71v3.99h-3.71zM3.69 75.43h11.09v3.99h-11.09zM18.45 75.43h3.71v3.99h-3.71zM36.90 75.43h3.71v3.99h-3.71zM29.52 79.40h3.71v3.99h-3.71zM18.45 83.37h7.40v3.99h-7.40zM29.52 83.37h7.40v3.99h-7.40zM103.32 83.37h3.71v3.99h-3.71zM18.45 87.34h3.71v3.99h-3.71zM29.52 87.34h3.71v3.99h-3.71zM70.11 87.34h7.40v3.99h-7.40zM11.07 91.31h3.71v3.99h-3.71zM18.45 91.31h7.40v3.99h-7.40zM3.69 95.28h3.71v3.99h-3.71zM18.45 95.28h3.71v3.99h-3.71zM62.73 95.28h3.71v3.99h-3.71zM0.00 99.25h3.71v3.99h-3.71zM55.35 99.25h3.71v3.99h-3.71zM3.69 103.22h3.71v3.99h-3.71zM47.97 103.22h3.71v3.99h-3.71zM0.00 107.19h3.71v3.99h-3.71zM22.14 107.19h7.40v3.99h-7.40zM33.21 107.19h14.78v3.99h-14.78zM22.14 111.16h3.71v3.99h-3.71zM3.69 119.10h3.71v3.99h-3.71zM11.07 119.10h7.40v3.99h-7.40zM22.14 119.10h3.71v3.99h-3.71zM62.73 123.07h3.71v3.99h-3.71zM3.69 127.04h7.40v3.99h-7.40zM22.14 127.04h3.71v3.99h-3.71zM11.07 131.01h3.71v3.99h-3.71zM7.38 134.98h3.71v3.99h-3.71z"/>
<path fill="#d3646d" d="M0.00 23.82h3.71v3.99h-3.71zM0.00 39.70h3.71v3.99h-3.71zM11.07 39.70h3.71v3.99h-3.71zM7.38 51.61h3.71v3.99h-3.71zM7.38 55.58h3.71v3.99h-3.71zM3.69 59.55h3.71v3.99h-3.71zM114.39 59.55h3.71v3.99h-3.71zM0.00 63.52h7.40v3.99h-7.40zM11.07 63.52h7.40v3.99h-7.40zM0.00 67.49h3.71v3.99h-3.71zM7.38 67.49h3.71v3.99h-3.71zM14.76 67.49h3.71v3.99h-3.71zM114.39 67.49h3.71v3.99h-3.71zM7.38 71.46h3.71v3.99h-3.71zM14.76 71.46h3.71v3.99h-3.71zM14.76 75.43h3.71v3.99h-3.71zM0.00 79.40h3.71v3.99h-3.71zM7.38 79.40h11.09v3.99h-11.09zM3.69 83.37h3.71v3.99h-3.71zM11.07 83.37h7.40v3.99h-7.40zM3.69 87.34h14.78v3.99h-14.78zM92.25 87.34h3.71v3.99h-3.71zM0.00 91.31h7.40v3.99h-7.40zM0.00 95.28h3.71v3.99h-3.71zM59.04 99.25h7.40v3.99h-7.40zM51.66 103.22h7.40v3.99h-7.40zM47.97 111.16h3.71v3.99h-3.71zM55.35 111.16h3.71v3.99h-3.71zM25.83 115.13h3.71v3.99h-3.71zM59.04 115.13h3.71v3.99h-3.71zM62.73 119.10h7.40v3.99h-7.40zM59.04 123.07h3.71v3.99h-3.71zM29.52 127.04h7.40v3.99h-7.40zM44.28 127.04h3.71v3.99h-3.71zM59.04 127.04h7.40v3.99h-7.40zM0.00 131.01h3.71v3.99h-3.71zM22.14 131.01h7.40v3.99h-7.40zM40.59 131.01h7.40v3.99h-7.40zM51.66 131.01h7.40v3.99h-7.40zM62.73 131.01h3.71v3.99h-3.71zM3.69 134.98h3.71v3.99h-3.71zM47.97 134.98h3.71v3.99h-3.71zM55.35 134.98h7.40v3.99h-7.40zM3.69 138.95h7.40v3.99h-7.40zM0.00 142.92h11.09v3.99h-11.09zM62.73 142.92h3.71v3.99h-3.71zM0.00 146.89h7.40v3.99h-7.40z"/>
<path fill="#da6a66" d="M3.69 23.82h3.71v3.99h-3.71zM14.76 35.73h3.71v3.99h-3.71zM18.45 39.70h3.71v3.99h-3.71zM121.77 39.70h3.71v3.99h-3.71zM7.38 43.67h3.71v3.99h-3.71zM114.39 43.67h3.71v3.99h-3.71zM18.45 47.64h3.71v3.99h-3.71zM18.45 51.61h3.71v3.99h-3.71zM110.70 51.61h3.71v3.99h-3.71zM107.01 55.58h7.40v3.99h-7.40zM18.45 59.55h3.71v3.99h-3.71zM18.45 63.52h3.71v3.99h-3.71zM29.52 63.52h3.71v3.99h-3.71zM107.01 63.52h7.40v3.99h-7.40zM25.83 67.49h3.71v3.99h-3.71zM22.14 71.46h7.40v3.99h-7.40zM33.21 71.46h7.40v3.99h-7.40zM110.70 71.46h3.71v3.99h-3.71zM107.01 75.43h3.71v3.99h-3.71zM18.45 79.40h3.71v3.99h-3.71zM25.83 79.40h3.71v3.99h-3.71zM25.83 83.37h3.71v3.99h-3.71zM36.90 83.37h3.71v3.99h-3.71zM36.90 87.34h3.71v3.99h-3.71zM66.42 87.34h3.71v3.99h-3.71zM14.76 91.31h3.71v3.99h-3.71zM62.73 91.31h3.71v3.99h-3.71zM7.38 95.28h11.09v3.99h-11.09zM22.14 95.28h7.40v3.99h-7.40zM55.35 95.28h7.40v3.99h-7.40zM3.69 99.25h14.78v3.99h-14.78zM22.14 99.25h3.71v3.99h-3.71zM0.00 103.22h3.71v3.99h-3.71zM11.07 103.22h11.09v3.99h-11.09zM3.69 107.19h11.09v3.99h-11.09zM18.45 107.19h3.71v3.99h-3.71zM3.69 111.16h3.71v3.99h-3.71zM11.07 111.16h11.09v3.99h-11.09zM0.00 115.13h18.47v3.99h-18.47zM22.14 115.13h3.71v3.99h-3.71zM18.45 119.10h3.71v3.99h-3.71zM0.00 123.07h3.71v3.99h-3.71zM14.76 123.07h3.71v3.99h-3.71zM22.14 123.07h3.71v3.99h-3.71zM0.00 127.04h3.71v3.99h-3.71zM11.07 127.04h11.09v3.99h-11.09zM18.45 131.01h3.71v3.99h-3.71zM11.07 134.98h3.71v3.99h-3.71z"/>
<path fill="#d6666b" d="M0.00 27.79h3.71v3.99h-3.71zM0.00 35.73h7.40v3.99h-7.40zM3.69 39.70h7.40v3.99h-7.40zM125.46 39.70h11.09v3.99h-11.09zM0.00 43.67h3.71v3.99h-3.71zM0.00 47.64h11.09v3.99h-11.09zM14.76 47.64h3.71v3.99h-3.71zM114.39 47.64h3.71v3.99h-3.71zM0.00 51.61h7.40v3.99h-7.40zM14.76 51.61h3.71v3.99h-3.71zM0.00 55.58h7.40v3.99h-7.40zM11.07 55.58h7.40v3.99h-7.40zM114.39 55.58h3.71v3.99h-3.71zM0.00 59.55h3.71v3.99h-3.71zM7.38 59.55h3.71v3.99h-3.71zM14.76 59.55h3.71v3.99h-3.71zM7.38 63.52h3.71v3.99h-3.71zM3.69 67.49h3.71v3.99h-3.71zM18.45 67.49h3.71v3.99h-3.71zM3.69 71.46h3.71v3.99h-3.71zM11.07 71.46h3.71v3.99h-3.71zM110.70 75.43h3.71v3.99h-3.71zM7.38 83.37h3.71v3.99h-3.71zM0.00 87.34h3.71v3.99h-3.71zM77.49 87.34h3.71v3.99h-3.71zM95.94 87.34h7.40v3.99h-7.40zM7.38 91.31h3.71v3.99h-3.71zM66.42 91.31h7.40v3.99h-7.40zM47.97 107.19h7.40v3.99h-7.40zM51.66 111.16h3.71v3.99h-3.71zM55.35 115.13h3.71v3.99h-3.71zM55.35 119.10h7.40v3.99h-7.40zM25.83 127.04h3.71v3.99h-3.71zM55.35 127.04h3.71v3.99h-3.71zM3.69 131.01h7.40v3.99h-7.40zM14.76 131.01h3.71v3.99h-3.71zM0.00 134.98h3.71v3.99h-3.71zM14.76 134.98h7.40v3.99h-7.40zM62.73 134.98h3.71v3.99h-3.71z"/>
<path fill="#d0626f" d="M121.77 43.67h3.71v3.99h-3.71zM114.39 51.61h3.71v3.99h-3.71zM11.07 59.55h3.71v3.99h-3.71zM114.39 63.52h3.71v3.99h-3.71zM0.00 71.46h3.71v3.99h-3.71zM114.39 71.46h3.71v3.99h-3.71zM114.39 75.43h3.71v3.99h-3.71zM3.69 79.40h3.71v3.99h-3.71zM107.01 79.40h3.71v3.99h-3.71zM0.00 83.37h3.71v3.99h-3.71zM103.32 87.34h3.71v3.99h-3.71zM73.80 91.31h3.71v3.99h-3.71zM66.42 95.28h3.71v3.99h-3.71zM25.83 111.16h3.71v3.99h-3.71zM44.28 111.16h3.71v3.99h-3.71zM47.97 115.13h7.40v3.99h-7.40zM25.83 119.10h3.71v3.99h-3.71zM47.97 119.10h3.71v3.99h-3.71zM25.83 123.07h7.40v3.99h-7.40zM40.59 123.07h18.47v3.99h-18.47zM66.42 123.07h3.71v3.99h-3.71zM36.90 127.04h7.40v3.99h-7.40zM47.97 127.04h7.40v3.99h-7.40zM66.42 127.04h3.71v3.99h-3.71zM47.97 131.01h3.71v3.99h-3.71zM59.04 131.01h3.71v3.99h-3.71zM66.42 131.01h3.71v3.99h-3.71zM44.28 134.98h3.71v3.99h-3.71zM51.66 134.98h3.71v3.99h-3.71zM66.42 134.98h3.71v3.99h-3.71zM0.00 138.95h3.71v3.99h-3.71zM11.07 138.95h7.40v3.99h-7.40zM47.97 138.95h3.71v3.99h-3.71zM55.35 138.95h14.78v3.99h-14.78zM59.04 142.92h3.71v3.99h-3.71zM66.42 142.92h3.71v3.99h-3.71zM7.38 146.89h7.40v3.99h-7.40zM62.73 146.89h3.71v3.99h-3.71z"/>
<path fill="#cd6171" d="M125.46 43.67h3.71v3.99h-3.71zM0.00 75.43h3.71v3.99h-3.71zM81.18 87.34h7.40v3.99h-7.40zM95.94 91.31h3.71v3.99h-3.71zM95.94 95.28h3.71v3.99h-3.71zM66.42 99.25h3.71v3.99h-3.71zM59.04 103.22h3.71v3.99h-3.71zM55.35 107.19h7.40v3.99h-7.40zM29.52 111.16h3.71v3.99h-3.71zM59.04 111.16h7.40v3.99h-7.40zM36.90 115.13h3.71v3.99h-3.71zM44.28 115.13h3.71v3.99h-3.71zM62.73 115.13h3.71v3.99h-3.71zM51.66 119.10h3.71v3.99h-3.71zM33.21 123.07h3.71v3.99h-3.71zM70.11 123.07h3.71v3.99h-3.71zM70.11 127.04h3.71v3.99h-3.71zM29.52 131.01h3.71v3.99h-3.71zM22.14 134.98h7.40v3.99h-7.40zM18.45 138.95h3.71v3.99h-3.71zM51.66 138.95h3.71v3.99h-3.71zM70.11 138.95h3.71v3.99h-3.71zM11.07 142.92h3.71v3.99h-3.71zM70.11 142.92h3.71v3.99h-3.71zM51.66 146.89h3.71v3.99h-3.71zM66.42 146.89h3.71v3.99h-3.71z"/>
<path fill="#ca5f74" d="M129.15 43.67h3.71v3.99h-3.71zM118.08 47.64h3.71v3.99h-3.71zM88.56 87.34h3.71v3.99h-3.71zM92.25 91.31h3.71v3.99h-3.71zM99.63 91.31h3.71v3.99h-3.71zM70.11 95.28h3.71v3.99h-3.71zM62.73 103.22h3.71v3.99h-3.71zM36.90 111.16h7.40v3.99h-7.40zM33.21 115.13h3.71v3.99h-3.71zM40.59 115.13h3.71v3.99h-3.71zM66.42 115.13h7.40v3.99h-7.40zM36.90 119.10h11.09v3.99h-11.09zM70.11 119.10h3.71v3.99h-3.71zM36.90 123.07h3.71v3.99h-3.71zM33.21 131.01h7.40v3.99h-7.40zM73.80 131.01h3.71v3.99h-3.71zM36.90 134.98h7.40v3.99h-7.40zM70.11 134.98h3.71v3.99h-3.71zM44.28 138.95h3.71v3.99h-3.71zM73.80 138.95h3.71v3.99h-3.71zM47.97 142.92h7.40v3.99h-7.40zM55.35 146.89h7.40v3.99h-7.40zM70.11 146.89h3.71v3.99h-3.71z"/>
<path fill="#c35c78" d="M121.77 47.64h3.71v3.99h-3.71zM118.08 55.58h3.71v3.99h-3.71zM77.49 91.31h3.71v3.99h-3.71zM103.32 91.31h3.71v3.99h-3.71zM73.80 95.28h3.71v3.99h-3.71zM92.25 95.28h3.71v3.99h-3.71zM70.11 99.25h3.71v3.99h-3.71zM66.42 107.19h3.71v3.99h-3.71zM66.42 111.16h3.71v3.99h-3.71zM73.80 115.13h3.71v3.99h-3.71zM73.80 119.10h3.71v3.99h-3.71zM73.80 127.04h3.71v3.99h-3.71zM33.21 134.98h3.71v3.99h-3.71zM22.14 138.95h3.71v3.99h-3.71zM73.80 142.92h3.71v3.99h-3.71zM73.80 146.89h3.71v3.99h-3.71z"/>
<path fill="#bc597c" d="M125.46 47.64h3.71v3.99h-3.71zM121.77 55.58h3.71v3.99h-3.71zM121.77 67.49h3.71v3.99h-3.71zM118.08 71.46h3.71v3.99h-3.71zM118.08 79.40h3.71v3.99h-3.71zM81.18 91.31h3.71v3.99h-3.71zM88.56 91.31h3.71v3.99h-3.71zM107.01 91.31h3.71v3.99h-3.71zM92.25 99.25h3.71v3.99h-3.71zM99.63 99.25h3.71v3.99h-3.71zM77.49 127.04h3.71v3.99h-3.71zM77.49 134.98h3.71v3.99h-3.71zM25.83 138.95h3.71v3.99h-3.71zM18.45 142.92h3.71v3.99h-3.71zM44.28 142.92h3.71v3.99h-3.71zM77.49 142.92h3.71v3.99h-3.71zM77.49 146.89h3.71v3.99h-3.71z"/>
<path fill="#c05a7a" d="M129.15 47.64h3.71v3.99h-3.71zM121.77 51.61h3.71v3.99h-3.71zM118.08 59.55h3.71v3.99h-3.71zM118.08 63.52h3.71v3.99h-3.71zM118.08 67.49h3.71v3.99h-3.71zM121.77 71.46h3.71v3.99h-3.71zM118.08 75.43h3.71v3.99h-3.71zM110.70 83.37h3.71v3.99h-3.71zM107.01 87.34h3.71v3.99h-3.71zM84.87 91.31h3.71v3.99h-3.71zM66.42 103.22h3.71v3.99h-3.71zM70.11 107.19h3.71v3.99h-3.71zM73.80 111.16h3.71v3.99h-3.71zM77.49 131.01h3.71v3.99h-3.71zM40.59 138.95h3.71v3.99h-3.71z"/>
<path fill="#c65d76" d="M118.08 51.61h3.71v3.99h-3.71zM110.70 79.40h7.40v3.99h-7.40zM107.01 83.37h3.71v3.99h-3.71zM99.63 95.28h3.71v3.99h-3.71zM95.94 99.25h3.71v3.99h-3.71zM62.73 107.19h3.71v3.99h-3.71zM33.21 111.16h3.71v3.99h-3.71zM70.11 111.16h3.71v3.99h-3.71zM29.52 115.13h3.71v3.99h-3.71zM29.52 119.10h7.40v3.99h-7.40zM73.80 123.07h3.71v3.99h-3.71zM70.11 131.01h3.71v3.99h-3.71zM29.52 134.98h3.71v3.99h-3.71zM73.80 134.98h3.71v3.99h-3.71zM14.76 142.92h3.71v3.99h-3.71zM55.35 142.92h3.71v3.99h-3.71zM14.76 146.89h3.71v3.99h-3.71zM47.97 146.89h3.71v3.99h-3.71z"/>
<path fill="#b5567f" d="M125.46 51.61h3.71v3.99h-3.71zM125.46 55.58h3.71v3.99h-3.71zM114.39 83.37h3.71v3.99h-3.71zM88.56 95.28h3.71v3.99h-3.71zM107.01 95.28h3.71v3.99h-3.71zM73.80 99.25h3.71v3.99h-3.71zM103.32 103.22h3.71v3.99h-3.71zM77.49 115.13h3.71v3.99h-3.71zM77.49 119.10h3.71v3.99h-3.71zM33.21 138.95h3.71v3.99h-3.71zM81.18 138.95h3.71v3.99h-3.71zM40.59 142.92h3.71v3.99h-3.71z"/>
<path fill="#b9577d" d="M121.77 59.55h7.40v3.99h-7.40zM121.77 63.52h3.71v3.99h-3.71zM110.70 87.34h3.71v3.99h-3.71zM77.49 95.28h3.71v3.99h-3.71zM103.32 95.28h3.71v3.99h-3.71zM103.32 99.25h3.71v3.99h-3.71zM70.11 103.22h3.71v3.99h-3.71zM95.94 103.22h7.40v3.99h-7.40zM77.49 123.07h3.71v3.99h-3.71zM29.52 138.95h3.71v3.99h-3.71zM36.90 138.95h3.71v3.99h-3.71zM77.49 138.95h3.71v3.99h-3.71zM18.45 146.89h3.71v3.99h-3.71zM44.28 146.89h3.71v3.99h-3.71z"/>
<path fill="#aa5284" d="M114.39 87.34h3.71v3.99h-3.71zM77.49 99.25h3.71v3.99h-3.71zM84.87 99.25h3.71v3.99h-3.71zM73.80 103.22h3.71v3.99h-3.71zM92.25 107.19h3.71v3.99h-3.71zM103.32 107.19h3.71v3.99h-3.71zM92.25 111.16h3.71v3.99h-3.71zM81.18 123.07h3.71v3.99h-3.71zM36.90 142.92h3.71v3.99h-3.71zM81.18 142.92h3.71v3.99h-3.71zM36.90 146.89h3.71v3.99h-3.71z"/>
<path fill="#b15581" d="M110.70 91.31h3.71v3.99h-3.71zM81.18 95.28h7.40v3.99h-7.40zM107.01 99.25h3.71v3.99h-3.71zM92.25 103.22h3.71v3.99h-3.71zM73.80 107.19h3.71v3.99h-3.71zM95.94 107.19h3.71v3.99h-3.71zM81.18 134.98h3.71v3.99h-3.71zM22.14 142.92h3.71v3.99h-3.71zM40.59 146.89h3.71v3.99h-3.71zM81.18 146.89h3.71v3.99h-3.71z"/>
<path fill="#ae5382" d="M110.70 95.28h3.71v3.99h-3.71zM99.63 107.19h3.71v3.99h-3.71zM77.49 111.16h3.71v3.99h-3.71zM81.18 119.10h3.71v3.99h-3.71zM81.18 127.04h3.71v3.99h-3.71zM81.18 131.01h3.71v3.99h-3.71zM22.14 146.89h3.71v3.99h-3.71z"/>
<path fill="#a65185" d="M81.18 99.25h3.71v3.99h-3.71zM88.56 99.25h3.71v3.99h-3.71zM77.49 103.22h3.71v3.99h-3.71zM81.18 115.13h3.71v3.99h-3.71zM84.87 119.10h3.71v3.99h-3.71zM84.87 123.07h3.71v3.99h-3.71zM84.87 134.98h3.71v3.99h-3.71zM25.83 142.92h3.71v3.99h-3.71zM33.21 142.92h3.71v3.99h-3.71zM84.87 142.92h3.71v3.99h-3.71z"/>
<path fill="#a25087" d="M81.18 103.22h3.71v3.99h-3.71zM88.56 103.22h3.71v3.99h-3.71zM77.49 107.19h3.71v3.99h-3.71zM88.56 107.19h3.71v3.99h-3.71zM81.18 111.16h3.71v3.99h-3.71zM88.56 111.16h3.71v3.99h-3.71zM95.94 111.16h3.71v3.99h-3.71zM84.87 127.04h3.71v3.99h-3.71zM84.87 131.01h3.71v3.99h-3.71zM84.87 138.95h3.71v3.99h-3.71zM29.52 146.89h3.71v3.99h-3.71z"/>
<path fill="#9e4f88" d="M84.87 103.22h3.71v3.99h-3.71zM81.18 107.19h3.71v3.99h-3.71zM84.87 111.16h3.71v3.99h-3.71zM99.63 111.16h7.40v3.99h-7.40zM84.87 115.13h14.78v3.99h-14.78zM88.56 127.04h3.71v3.99h-3.71zM29.52 142.92h3.71v3.99h-3.71zM88.56 142.92h3.71v3.99h-3.71zM25.83 146.89h3.71v3.99h-3.71zM33.21 146.89h3.71v3.99h-3.71zM84.87 146.89h7.40v3.99h-7.40z"/>
<path fill="#9a4e89" d="M84.87 107.19h3.71v3.99h-3.71zM88.56 119.10h3.71v3.99h-3.71zM95.94 119.10h3.71v3.99h-3.71zM88.56 123.07h3.71v3.99h-3.71zM88.56 131.01h3.71v3.99h-3.71zM88.56 134.98h3.71v3.99h-3.71zM88.56 138.95h3.71v3.99h-3.71z"/>
<path fill="#924c8c" d="M99.63 115.13h3.71v3.99h-3.71zM99.63 119.10h7.40v3.99h-7.40zM107.01 123.07h3.71v3.99h-3.71zM103.32 127.04h11.09v3.99h-11.09zM92.25 131.01h3.71v3.99h-3.71zM103.32 131.01h11.09v3.99h-11.09zM92.25 134.98h11.09v3.99h-11.09zM114.39 134.98h3.71v3.99h-3.71zM92.25 138.95h3.71v3.99h-3.71zM110.70 138.95h3.71v3.99h-3.71zM95.94 142.92h3.71v3.99h-3.71zM107.01 142.92h7.40v3.99h-7.40zM95.94 146.89h14.78v3.99h-14.78zM114.39 146.89h3.71v3.99h-3.71z"/>
<path fill="#8e4b8d" d="M103.32 115.13h3.71v3.99h-3.71zM95.94 123.07h11.09v3.99h-11.09zM92.25 127.04h3.71v3.99h-3.71zM99.63 127.04h3.71v3.99h-3.71zM99.63 131.01h3.71v3.99h-3.71zM107.01 134.98h7.40v3.99h-7.40zM95.94 138.95h3.71v3.99h-3.71zM99.63 142.92h3.71v3.99h-3.71zM118.08 142.92h3.71v3.99h-3.71zM110.70 146.89h3.71v3.99h-3.71zM118.08 146.89h3.71v3.99h-3.71z"/>
<path fill="#964d8b" d="M92.25 119.10h3.71v3.99h-3.71zM92.25 123.07h3.71v3.99h-3.71zM110.70 123.07h3.71v3.99h-3.71zM114.39 131.01h3.71v3.99h-3.71zM103.32 134.98h3.71v3.99h-3.71zM99.63 138.95h11.09v3.99h-11.09zM114.39 138.95h7.40v3.99h-7.40zM92.25 142.92h3.71v3.99h-3.71zM103.32 142.92h3.71v3.99h-3.71zM114.39 142.92h3.71v3.99h-3.71zM92.25 146.89h3.71v3.99h-3.71z"/>
<path fill="#8a498e" d="M95.94 127.04h3.71v3.99h-3.71zM95.94 131.01h3.71v3.99h-3.71z"/>
</g>
<use href="#coast" fill="none" stroke="#808080" stroke-width="1.25" stroke-linejoin="round"/>
<use href="#grid" fill="none" stroke="#b0b0b0" stroke-width="1.11"/>
</g></g>
<rect x="150.5" y="125.5" width="162" height="154" fill="none" stroke="#000" stroke-width="1.11"/>
<text x="150.95" y="115.00" font-size="13.889" text-anchor="middle">112.5°E</text>
<text x="155.15" y="296.50" font-size="13.889" text-anchor="middle">112.5°E</text>
<text x="220.10" y="115.00" font-size="13.889" text-anchor="middle">113.25°E</text>
<text x="223.16" y="296.50" font-size="13.889" text-anchor="middle">113.25°E</text>
<text x="289.25" y="115.00" font-size="13.889" text-anchor="middle">114°E</text>
<text x="292.17" y="296.50" font-size="13.889" text-anchor="middle">114°E</text>
<text x="473.23" y="95.20" font-size="16.667" text-anchor="middle">dSST/dt [K hr<tspan font-size="11.667" dy="-6.60">−1</tspan><tspan dy="6.60">]</tspan></text>
<g transform="translate(392.61 125.40)"><g clip-path="url(#mc)">
<rect x="0" y="0" width="161.74" height="153.60" fill="#98b7e2"/>
<use href="#land" fill="#f0f0dc"/>
<g transform="matrix(0.99964 -0.02700 0.02700 0.99964 0.20 3.30)" shape-rendering="crispEdges">
<path fill="#f2f5f6" d="M0.00 0.00h3.71v3.99h-3.71zM7.38 0.00h3.71v3.99h-3.71zM95.94 0.00h3.71v3.99h-3.71zM121.77 0.00h3.71v3.99h-3.71zM143.91 0.00h7.40v3.99h-7.40zM3.69 3.97h7.40v3.99h-7.40zM55.35 3.97h3.71v3.99h-3.71zM77.49 3.97h3.71v3.99h-3.71zM110.70 3.97h3.71v3.99h-3.71zM121.77 3.97h3.71v3.99h-3.71zM55.35 7.94h3.71v3.99h-3.71zM66.42 7.94h3.71v3.99h-3.71zM110.70 7.94h7.40v3.99h-7.40zM129.15 7.94h7.40v3.99h-7.40zM140.22 7.94h3.71v3.99h-3.71zM11.07 11.91h3.71v3.99h-3.71zM25.83 11.91h3.71v3.99h-3.71zM51.66 11.91h3.71v3.99h-3.71zM140.22 11.91h7.40v3.99h-7.40zM29.52 15.88h7.40v3.99h-7.40zM92.25 15.88h3.71v3.99h-3.71zM99.63 15.88h7.40v3.99h-7.40zM121.77 15.88h14.78v3.99h-14.78zM11.07 19.85h3.71v3.99h-3.71zM18.45 19.85h3.71v3.99h-3.71zM92.25 19.85h3.71v3.99h-3.71zM99.63 19.85h7.40v3.99h-7.40zM110.70 19.85h3.71v3.99h-3.71zM132.84 19.85h3.71v3.99h-3.71zM140.22 19.85h3.71v3.99h-3.71zM29.52 23.82h3.71v3.99h-3.71zM92.25 23.82h3.71v3.99h-3.71zM99.63 23.82h3.71v3.99h-3.71zM114.39 23.82h3.71v3.99h-3.71zM0.00 27.79h3.71v3.99h-3.71zM11.07 27.79h3.71v3.99h-3.71zM29.52 27.79h3.71v3.99h-3.71zM47.97 27.79h3.71v3.99h-3.71zM55.35 27.79h3.71v3.99h-3.71zM81.18 27.79h3.71v3.99h-3.71zM92.25 27.79h3.71v3.99h-3.71zM132.84 27.79h3.71v3.99h-3.71zM25.83 31.76h3.71v3.99h-3.71zM95.94 31.76h3.71v3.99h-3.71zM103.32 31.76h3.71v3.99h-3.71zM140.22 31.76h3.71v3.99h-3.71zM0.00 35.73h11.09v3.99h-11.09zM36.90 35.73h3.71v3.99h-3.71zM51.66 35.73h3.71v3.99h-3.71zM59.04 35.73h3.71v3.99h-3.71zM132.84 35.73h3.71v3.99h-3.71zM62.73 39.70h3.71v3.99h-3.71zM22.14 43.67h3.71v3.99h-3.71zM70.11 43.67h3.71v3.99h-3.71zM88.56 43.67h3.71v3.99h-3.71zM25.83 47.64h3.71v3.99h-3.71zM33.21 47.64h3.71v3.99h-3.71zM77.49 47.64h7.40v3.99h-7.40zM7.38 51.61h3.71v3.99h-3.71zM25.83 51.61h3.71v3.99h-3.71zM77.49 51.61h3.71v3.99h-3.71zM84.87 51.61h3.71v3.99h-3.71zM7.38 55.58h3.71v3.99h-3.71zM14.76 55.58h3.71v3.99h-3.71zM22.14 55.58h3.71v3.99h-3.71zM92.25 55.58h3.71v3.99h-3.71zM11.07 59.55h11.09v3.99h-11.09zM62.73 59.55h3.71v3.99h-3.71zM81.18 59.55h3.71v3.99h-3.71zM25.83 63.52h3.71v3.99h-3.71zM70.11 63.52h7.40v3.99h-7.40zM11.07 67.49h3.71v3.99h-3.71zM36.90 67.49h7.40v3.99h-7.40zM14.76 71.46h3.71v3.99h-3.71zM33.21 71.46h3.71v3.99h-3.71zM77.49 71.46h3.71v3.99h-3.71zM84.87 71.46h3.71v3.99h-3.71zM22.14 75.43h3.71v3.99h-3.71zM44.28 75.43h3.71v3.99h-3.71zM11.07 79.40h3.71v3.99h-3.71zM22.14 79.40h7.40v3.99h-7.40zM33.21 79.40h3.71v3.99h-3.71zM51.66 79.40h7.40v3.99h-7.40zM70.11 79.40h3.71v3.99h-3.71zM77.49 79.40h3.71v3.99h-3.71zM84.87 79.40h3.71v3.99h-3.71zM3.69 83.37h3.71v3.99h-3.71zM18.45 83.37h3.71v3.99h-3.71zM59.04 83.37h3.71v3.99h-3.71zM92.25 83.37h3.71v3.99h-3.71zM14.76 87.34h3.71v3.99h-3.71zM44.28 87.34h3.71v3.99h-3.71zM22.14 91.31h3.71v3.99h-3.71zM40.59 91.31h7.40v3.99h-7.40zM92.25 91.31h3.71v3.99h-3.71zM29.52 95.28h3.71v3.99h-3.71zM22.14 99.25h3.71v3.99h-3.71zM47.97 107.19h3.71v3.99h-3.71zM92.25 111.16h3.71v3.99h-3.71zM92.25 115.13h3.71v3.99h-3.71zM51.66 119.10h3.71v3.99h-3.71zM51.66 123.07h3.71v3.99h-3.71zM95.94 123.07h3.71v3.99h-3.71zM14.76 127.04h3.71v3.99h-3.71zM18.45 131.01h3.71v3.99h-3.71zM92.25 131.01h3.71v3.99h-3.71zM18.45 134.98h3.71v3.99h-3.71zM92.25 134.98h3.71v3.99h-3.71zM3.69 138.95h3.71v3.99h-3.71zM11.07 138.95h3.71v3.99h-3.71zM114.39 138.95h3.71v3.99h-3.71zM0.00 142.92h7.40v3.99h-7.40zM92.25 142.92h3.71v3.99h-3.71zM107.01 142.92h7.40v3.99h-7.40zM7.38 146.89h7.40v3.99h-7.40zM22.14 146.89h3.71v3.99h-3.71zM33.21 146.89h3.71v3.99h-3.71z"/>
<path fill="#edf2f5" d="M3.69 0.00h3.71v3.99h-3.71zM18.45 0.00h3.71v3.99h-3.71zM51.66 0.00h3.71v3.99h-3.71zM77.49 0.00h3.71v3.99h-3.71zM84.87 0.00h3.71v3.99h-3.71zM103.32 0.00h3.71v3.99h-3.71zM114.39 0.00h3.71v3.99h-3.71zM129.15 0.00h7.40v3.99h-7.40zM0.00 3.97h3.71v3.99h-3.71zM11.07 3.97h3.71v3.99h-3.71zM62.73 3.97h7.40v3.99h-7.40zM95.94 3.97h11.09v3.99h-11.09zM114.39 3.97h3.71v3.99h-3.71zM125.46 3.97h3.71v3.99h-3.71zM143.91 3.97h3.71v3.99h-3.71zM0.00 7.94h3.71v3.99h-3.71zM36.90 7.94h3.71v3.99h-3.71zM44.28 7.94h7.40v3.99h-7.40zM92.25 7.94h3.71v3.99h-3.71zM103.32 7.94h7.40v3.99h-7.40zM136.53 7.94h3.71v3.99h-3.71zM3.69 11.91h3.71v3.99h-3.71zM18.45 11.91h3.71v3.99h-3.71zM29.52 11.91h7.40v3.99h-7.40zM62.73 11.91h3.71v3.99h-3.71zM70.11 11.91h7.40v3.99h-7.40zM118.08 11.91h11.09v3.99h-11.09zM3.69 15.88h3.71v3.99h-3.71zM11.07 15.88h3.71v3.99h-3.71zM51.66 15.88h3.71v3.99h-3.71zM66.42 15.88h7.40v3.99h-7.40zM88.56 15.88h3.71v3.99h-3.71zM95.94 15.88h3.71v3.99h-3.71zM107.01 15.88h3.71v3.99h-3.71zM114.39 15.88h3.71v3.99h-3.71zM136.53 15.88h3.71v3.99h-3.71zM147.60 15.88h3.71v3.99h-3.71zM3.69 19.85h3.71v3.99h-3.71zM22.14 19.85h3.71v3.99h-3.71zM33.21 19.85h11.09v3.99h-11.09zM55.35 19.85h3.71v3.99h-3.71zM77.49 19.85h3.71v3.99h-3.71zM107.01 19.85h3.71v3.99h-3.71zM125.46 19.85h3.71v3.99h-3.71zM143.91 19.85h7.40v3.99h-7.40zM0.00 23.82h3.71v3.99h-3.71zM7.38 23.82h3.71v3.99h-3.71zM33.21 23.82h3.71v3.99h-3.71zM70.11 23.82h7.40v3.99h-7.40zM84.87 23.82h3.71v3.99h-3.71zM103.32 23.82h11.09v3.99h-11.09zM125.46 23.82h7.40v3.99h-7.40zM140.22 23.82h3.71v3.99h-3.71zM3.69 27.79h3.71v3.99h-3.71zM14.76 27.79h3.71v3.99h-3.71zM22.14 27.79h3.71v3.99h-3.71zM33.21 27.79h3.71v3.99h-3.71zM59.04 27.79h7.40v3.99h-7.40zM103.32 27.79h3.71v3.99h-3.71zM114.39 27.79h7.40v3.99h-7.40zM147.60 27.79h3.71v3.99h-3.71zM7.38 31.76h7.40v3.99h-7.40zM29.52 31.76h3.71v3.99h-3.71zM36.90 31.76h7.40v3.99h-7.40zM47.97 31.76h3.71v3.99h-3.71zM59.04 31.76h3.71v3.99h-3.71zM70.11 31.76h3.71v3.99h-3.71zM88.56 31.76h3.71v3.99h-3.71zM99.63 31.76h3.71v3.99h-3.71zM129.15 31.76h3.71v3.99h-3.71zM136.53 31.76h3.71v3.99h-3.71zM18.45 35.73h3.71v3.99h-3.71zM33.21 35.73h3.71v3.99h-3.71zM47.97 35.73h3.71v3.99h-3.71zM70.11 35.73h3.71v3.99h-3.71zM92.25 35.73h3.71v3.99h-3.71zM136.53 35.73h3.71v3.99h-3.71zM22.14 39.70h3.71v3.99h-3.71zM33.21 39.70h3.71v3.99h-3.71zM40.59 39.70h3.71v3.99h-3.71zM81.18 39.70h3.71v3.99h-3.71zM88.56 39.70h7.40v3.99h-7.40zM14.76 43.67h3.71v3.99h-3.71zM25.83 43.67h7.40v3.99h-7.40zM44.28 43.67h3.71v3.99h-3.71zM51.66 43.67h3.71v3.99h-3.71zM81.18 43.67h3.71v3.99h-3.71zM51.66 47.64h3.71v3.99h-3.71zM66.42 47.64h3.71v3.99h-3.71zM84.87 47.64h3.71v3.99h-3.71zM95.94 47.64h3.71v3.99h-3.71zM107.01 47.64h3.71v3.99h-3.71zM22.14 51.61h3.71v3.99h-3.71zM59.04 51.61h3.71v3.99h-3.71zM70.11 51.61h3.71v3.99h-3.71zM95.94 51.61h3.71v3.99h-3.71zM110.70 51.61h3.71v3.99h-3.71zM11.07 55.58h3.71v3.99h-3.71zM18.45 55.58h3.71v3.99h-3.71zM62.73 55.58h7.40v3.99h-7.40zM81.18 55.58h3.71v3.99h-3.71zM121.77 55.58h3.71v3.99h-3.71zM0.00 59.55h3.71v3.99h-3.71zM25.83 59.55h7.40v3.99h-7.40zM36.90 59.55h3.71v3.99h-3.71zM44.28 59.55h3.71v3.99h-3.71zM51.66 59.55h3.71v3.99h-3.71zM59.04 59.55h3.71v3.99h-3.71zM70.11 59.55h3.71v3.99h-3.71zM77.49 59.55h3.71v3.99h-3.71zM84.87 59.55h7.40v3.99h-7.40zM11.07 63.52h3.71v3.99h-3.71zM22.14 63.52h3.71v3.99h-3.71zM29.52 63.52h3.71v3.99h-3.71zM55.35 63.52h3.71v3.99h-3.71zM62.73 63.52h7.40v3.99h-7.40zM88.56 63.52h3.71v3.99h-3.71zM3.69 67.49h3.71v3.99h-3.71zM29.52 67.49h3.71v3.99h-3.71zM51.66 67.49h3.71v3.99h-3.71zM59.04 67.49h3.71v3.99h-3.71zM70.11 67.49h3.71v3.99h-3.71zM84.87 67.49h3.71v3.99h-3.71zM3.69 71.46h3.71v3.99h-3.71zM22.14 71.46h3.71v3.99h-3.71zM40.59 71.46h3.71v3.99h-3.71zM51.66 71.46h3.71v3.99h-3.71zM62.73 71.46h3.71v3.99h-3.71zM18.45 75.43h3.71v3.99h-3.71zM29.52 75.43h3.71v3.99h-3.71zM40.59 75.43h3.71v3.99h-3.71zM51.66 75.43h3.71v3.99h-3.71zM66.42 75.43h7.40v3.99h-7.40zM92.25 75.43h3.71v3.99h-3.71zM0.00 79.40h3.71v3.99h-3.71zM36.90 79.40h3.71v3.99h-3.71zM44.28 79.40h3.71v3.99h-3.71zM59.04 79.40h3.71v3.99h-3.71zM66.42 79.40h3.71v3.99h-3.71zM81.18 79.40h3.71v3.99h-3.71zM95.94 79.40h3.71v3.99h-3.71zM7.38 83.37h3.71v3.99h-3.71zM25.83 83.37h7.40v3.99h-7.40zM40.59 83.37h3.71v3.99h-3.71zM62.73 83.37h3.71v3.99h-3.71zM70.11 83.37h3.71v3.99h-3.71zM77.49 83.37h3.71v3.99h-3.71zM99.63 83.37h7.40v3.99h-7.40zM3.69 87.34h3.71v3.99h-3.71zM11.07 87.34h3.71v3.99h-3.71zM18.45 87.34h3.71v3.99h-3.71zM25.83 87.34h3.71v3.99h-3.71zM40.59 87.34h3.71v3.99h-3.71zM47.97 87.34h3.71v3.99h-3.71zM62.73 87.34h3.71v3.99h-3.71zM92.25 87.34h3.71v3.99h-3.71zM0.00 91.31h3.71v3.99h-3.71zM7.38 91.31h7.40v3.99h-7.40zM29.52 91.31h11.09v3.99h-11.09zM95.94 91.31h3.71v3.99h-3.71zM92.25 95.28h3.71v3.99h-3.71zM14.76 99.25h3.71v3.99h-3.71zM0.00 103.22h3.71v3.99h-3.71zM18.45 103.22h3.71v3.99h-3.71zM25.83 103.22h3.71v3.99h-3.71zM44.28 103.22h3.71v3.99h-3.71zM51.66 103.22h7.40v3.99h-7.40zM40.59 107.19h3.71v3.99h-3.71zM14.76 111.16h3.71v3.99h-3.71zM22.14 111.16h7.40v3.99h-7.40zM44.28 111.16h7.40v3.99h-7.40zM55.35 111.16h7.40v3.99h-7.40zM66.42 111.16h3.71v3.99h-3.71zM3.69 115.13h3.71v3.99h-3.71zM47.97 115.13h3.71v3.99h-3.71zM47.97 119.10h3.71v3.99h-3.71zM55.35 119.10h7.40v3.99h-7.40zM66.42 119.10h3.71v3.99h-3.71zM99.63 119.10h3.71v3.99h-3.71zM47.97 123.07h3.71v3.99h-3.71zM62.73 123.07h3.71v3.99h-3.71zM0.00 127.04h3.71v3.99h-3.71zM29.52 127.04h3.71v3.99h-3.71zM88.56 127.04h3.71v3.99h-3.71zM14.76 131.01h3.71v3.99h-3.71zM29.52 131.01h3.71v3.99h-3.71zM40.59 131.01h3.71v3.99h-3.71zM51.66 131.01h3.71v3.99h-3.71zM88.56 131.01h3.71v3.99h-3.71zM11.07 134.98h3.71v3.99h-3.71zM25.83 134.98h3.71v3.99h-3.71zM33.21 134.98h3.71v3.99h-3.71zM7.38 142.92h3.71v3.99h-3.71zM47.97 142.92h3.71v3.99h-3.71zM59.04 142.92h3.71v3.99h-3.71zM88.56 142.92h3.71v3.99h-3.71zM95.94 142.92h3.71v3.99h-3.71zM118.08 142.92h3.71v3.99h-3.71zM0.00 146.89h3.71v3.99h-3.71zM14.76 146.89h3.71v3.99h-3.71zM36.90 146.89h7.40v3.99h-7.40zM47.97 146.89h3.71v3.99h-3.71zM55.35 146.89h3.71v3.99h-3.71zM70.11 146.89h3.71v3.99h-3.71zM114.39 146.89h3.71v3.99h-3.71z"/>
<path fill="#eaf1f5" d="M11.07 0.00h3.71v3.99h-3.71zM66.42 0.00h7.40v3.99h-7.40zM14.76 3.97h3.71v3.99h-3.71zM51.66 3.97h3.71v3.99h-3.71zM118.08 3.97h3.71v3.99h-3.71zM129.15 3.97h3.71v3.99h-3.71zM7.38 7.94h3.71v3.99h-3.71zM18.45 7.94h3.71v3.99h-3.71zM73.80 7.94h3.71v3.99h-3.71zM118.08 7.94h3.71v3.99h-3.71zM125.46 7.94h3.71v3.99h-3.71zM44.28 11.91h3.71v3.99h-3.71zM88.56 11.91h3.71v3.99h-3.71zM103.32 11.91h3.71v3.99h-3.71zM47.97 15.88h3.71v3.99h-3.71zM0.00 19.85h3.71v3.99h-3.71zM47.97 19.85h7.40v3.99h-7.40zM66.42 19.85h3.71v3.99h-3.71zM11.07 23.82h3.71v3.99h-3.71zM18.45 23.82h7.40v3.99h-7.40zM95.94 23.82h3.71v3.99h-3.71zM132.84 23.82h7.40v3.99h-7.40zM40.59 27.79h3.71v3.99h-3.71zM99.63 27.79h3.71v3.99h-3.71zM143.91 27.79h3.71v3.99h-3.71zM14.76 31.76h3.71v3.99h-3.71zM51.66 31.76h3.71v3.99h-3.71zM81.18 31.76h7.40v3.99h-7.40zM22.14 35.73h3.71v3.99h-3.71zM40.59 35.73h3.71v3.99h-3.71zM62.73 35.73h7.40v3.99h-7.40zM129.15 35.73h3.71v3.99h-3.71zM7.38 39.70h3.71v3.99h-3.71zM18.45 39.70h3.71v3.99h-3.71zM47.97 39.70h3.71v3.99h-3.71zM77.49 39.70h3.71v3.99h-3.71zM84.87 39.70h3.71v3.99h-3.71zM107.01 39.70h3.71v3.99h-3.71zM18.45 43.67h3.71v3.99h-3.71zM36.90 43.67h3.71v3.99h-3.71zM62.73 43.67h3.71v3.99h-3.71zM73.80 43.67h3.71v3.99h-3.71zM95.94 43.67h11.09v3.99h-11.09zM129.15 43.67h3.71v3.99h-3.71zM7.38 47.64h3.71v3.99h-3.71zM59.04 47.64h3.71v3.99h-3.71zM88.56 47.64h7.40v3.99h-7.40zM129.15 47.64h3.71v3.99h-3.71zM33.21 51.61h7.40v3.99h-7.40zM47.97 51.61h7.40v3.99h-7.40zM66.42 51.61h3.71v3.99h-3.71zM81.18 51.61h3.71v3.99h-3.71zM88.56 51.61h3.71v3.99h-3.71zM103.32 51.61h3.71v3.99h-3.71zM114.39 51.61h7.40v3.99h-7.40zM3.69 55.58h3.71v3.99h-3.71zM36.90 55.58h3.71v3.99h-3.71zM51.66 55.58h7.40v3.99h-7.40zM77.49 55.58h3.71v3.99h-3.71zM84.87 55.58h3.71v3.99h-3.71zM7.38 59.55h3.71v3.99h-3.71zM73.80 59.55h3.71v3.99h-3.71zM114.39 59.55h3.71v3.99h-3.71zM3.69 63.52h7.40v3.99h-7.40zM36.90 63.52h3.71v3.99h-3.71zM44.28 63.52h3.71v3.99h-3.71zM81.18 63.52h7.40v3.99h-7.40zM81.18 67.49h3.71v3.99h-3.71zM88.56 67.49h7.40v3.99h-7.40zM47.97 71.46h3.71v3.99h-3.71zM25.83 75.43h3.71v3.99h-3.71zM55.35 75.43h7.40v3.99h-7.40zM73.80 75.43h3.71v3.99h-3.71zM103.32 75.43h3.71v3.99h-3.71zM3.69 79.40h3.71v3.99h-3.71zM18.45 79.40h3.71v3.99h-3.71zM62.73 79.40h3.71v3.99h-3.71zM88.56 79.40h3.71v3.99h-3.71zM0.00 83.37h3.71v3.99h-3.71zM44.28 83.37h3.71v3.99h-3.71zM55.35 83.37h3.71v3.99h-3.71zM66.42 83.37h3.71v3.99h-3.71zM55.35 87.34h3.71v3.99h-3.71zM66.42 87.34h3.71v3.99h-3.71zM77.49 87.34h3.71v3.99h-3.71zM84.87 87.34h7.40v3.99h-7.40zM110.70 87.34h3.71v3.99h-3.71zM88.56 91.31h3.71v3.99h-3.71zM11.07 95.28h7.40v3.99h-7.40zM25.83 95.28h3.71v3.99h-3.71zM33.21 95.28h3.71v3.99h-3.71zM40.59 95.28h11.09v3.99h-11.09zM88.56 95.28h3.71v3.99h-3.71zM18.45 99.25h3.71v3.99h-3.71zM44.28 99.25h3.71v3.99h-3.71zM11.07 103.22h7.40v3.99h-7.40zM29.52 103.22h3.71v3.99h-3.71zM36.90 103.22h3.71v3.99h-3.71zM47.97 103.22h3.71v3.99h-3.71zM0.00 107.19h7.40v3.99h-7.40zM11.07 107.19h3.71v3.99h-3.71zM18.45 107.19h3.71v3.99h-3.71zM25.83 107.19h7.40v3.99h-7.40zM36.90 107.19h3.71v3.99h-3.71zM44.28 107.19h3.71v3.99h-3.71zM55.35 107.19h3.71v3.99h-3.71zM88.56 107.19h3.71v3.99h-3.71zM95.94 107.19h3.71v3.99h-3.71zM18.45 111.16h3.71v3.99h-3.71zM51.66 111.16h3.71v3.99h-3.71zM88.56 111.16h3.71v3.99h-3.71zM95.94 111.16h3.71v3.99h-3.71zM11.07 115.13h3.71v3.99h-3.71zM18.45 115.13h3.71v3.99h-3.71zM25.83 115.13h3.71v3.99h-3.71zM55.35 115.13h3.71v3.99h-3.71zM66.42 115.13h7.40v3.99h-7.40zM3.69 119.10h3.71v3.99h-3.71zM62.73 119.10h3.71v3.99h-3.71zM95.94 119.10h3.71v3.99h-3.71zM0.00 123.07h3.71v3.99h-3.71zM44.28 123.07h3.71v3.99h-3.71zM55.35 123.07h3.71v3.99h-3.71zM99.63 123.07h3.71v3.99h-3.71zM3.69 127.04h3.71v3.99h-3.71zM18.45 127.04h11.09v3.99h-11.09zM36.90 127.04h3.71v3.99h-3.71zM51.66 127.04h3.71v3.99h-3.71zM59.04 127.04h3.71v3.99h-3.71zM11.07 131.01h3.71v3.99h-3.71zM0.00 134.98h7.40v3.99h-7.40zM36.90 134.98h3.71v3.99h-3.71zM47.97 134.98h3.71v3.99h-3.71zM88.56 134.98h3.71v3.99h-3.71zM114.39 134.98h3.71v3.99h-3.71zM51.66 138.95h3.71v3.99h-3.71zM92.25 138.95h3.71v3.99h-3.71zM110.70 138.95h3.71v3.99h-3.71zM118.08 138.95h3.71v3.99h-3.71zM55.35 142.92h3.71v3.99h-3.71zM62.73 142.92h3.71v3.99h-3.71zM103.32 142.92h3.71v3.99h-3.71zM3.69 146.89h3.71v3.99h-3.71zM59.04 146.89h3.71v3.99h-3.71zM66.42 146.89h3.71v3.99h-3.71zM107.01 146.89h3.71v3.99h-3.71z"/>
<path fill="#eff3f6" d="M14.76 0.00h3.71v3.99h-3.71zM59.04 0.00h3.71v3.99h-3.71zM73.80 0.00h3.71v3.99h-3.71zM88.56 0.00h7.40v3.99h-7.40zM99.63 0.00h3.71v3.99h-3.71zM107.01 0.00h7.40v3.99h-7.40zM118.08 0.00h3.71v3.99h-3.71zM140.22 0.00h3.71v3.99h-3.71zM59.04 3.97h3.71v3.99h-3.71zM70.11 3.97h3.71v3.99h-3.71zM81.18 3.97h11.09v3.99h-11.09zM140.22 3.97h3.71v3.99h-3.71zM147.60 3.97h3.71v3.99h-3.71zM3.69 7.94h3.71v3.99h-3.71zM40.59 7.94h3.71v3.99h-3.71zM59.04 7.94h7.40v3.99h-7.40zM77.49 7.94h3.71v3.99h-3.71zM84.87 7.94h3.71v3.99h-3.71zM95.94 7.94h3.71v3.99h-3.71zM143.91 7.94h7.40v3.99h-7.40zM0.00 11.91h3.71v3.99h-3.71zM7.38 11.91h3.71v3.99h-3.71zM22.14 11.91h3.71v3.99h-3.71zM36.90 11.91h3.71v3.99h-3.71zM47.97 11.91h3.71v3.99h-3.71zM55.35 11.91h3.71v3.99h-3.71zM77.49 11.91h11.09v3.99h-11.09zM99.63 11.91h3.71v3.99h-3.71zM110.70 11.91h3.71v3.99h-3.71zM132.84 11.91h7.40v3.99h-7.40zM147.60 11.91h3.71v3.99h-3.71zM7.38 15.88h3.71v3.99h-3.71zM18.45 15.88h11.09v3.99h-11.09zM36.90 15.88h3.71v3.99h-3.71zM55.35 15.88h7.40v3.99h-7.40zM84.87 15.88h3.71v3.99h-3.71zM140.22 15.88h7.40v3.99h-7.40zM7.38 19.85h3.71v3.99h-3.71zM25.83 19.85h7.40v3.99h-7.40zM59.04 19.85h3.71v3.99h-3.71zM70.11 19.85h7.40v3.99h-7.40zM136.53 19.85h3.71v3.99h-3.71zM3.69 23.82h3.71v3.99h-3.71zM25.83 23.82h3.71v3.99h-3.71zM40.59 23.82h3.71v3.99h-3.71zM51.66 23.82h7.40v3.99h-7.40zM62.73 23.82h3.71v3.99h-3.71zM81.18 23.82h3.71v3.99h-3.71zM88.56 23.82h3.71v3.99h-3.71zM7.38 27.79h3.71v3.99h-3.71zM18.45 27.79h3.71v3.99h-3.71zM25.83 27.79h3.71v3.99h-3.71zM36.90 27.79h3.71v3.99h-3.71zM51.66 27.79h3.71v3.99h-3.71zM66.42 27.79h3.71v3.99h-3.71zM84.87 27.79h3.71v3.99h-3.71zM95.94 27.79h3.71v3.99h-3.71zM136.53 27.79h7.40v3.99h-7.40zM0.00 31.76h7.40v3.99h-7.40zM18.45 31.76h7.40v3.99h-7.40zM33.21 31.76h3.71v3.99h-3.71zM55.35 31.76h3.71v3.99h-3.71zM62.73 31.76h7.40v3.99h-7.40zM107.01 31.76h3.71v3.99h-3.71zM125.46 31.76h3.71v3.99h-3.71zM132.84 31.76h3.71v3.99h-3.71zM11.07 35.73h3.71v3.99h-3.71zM25.83 35.73h3.71v3.99h-3.71zM44.28 35.73h3.71v3.99h-3.71zM55.35 35.73h3.71v3.99h-3.71zM73.80 35.73h7.40v3.99h-7.40zM95.94 35.73h7.40v3.99h-7.40zM107.01 35.73h3.71v3.99h-3.71zM11.07 39.70h7.40v3.99h-7.40zM44.28 39.70h3.71v3.99h-3.71zM73.80 39.70h3.71v3.99h-3.71zM95.94 39.70h3.71v3.99h-3.71zM132.84 39.70h3.71v3.99h-3.71zM7.38 43.67h7.40v3.99h-7.40zM55.35 43.67h3.71v3.99h-3.71zM66.42 43.67h3.71v3.99h-3.71zM77.49 43.67h3.71v3.99h-3.71zM92.25 43.67h3.71v3.99h-3.71zM3.69 47.64h3.71v3.99h-3.71zM14.76 47.64h3.71v3.99h-3.71zM36.90 47.64h3.71v3.99h-3.71zM55.35 47.64h3.71v3.99h-3.71zM62.73 47.64h3.71v3.99h-3.71zM73.80 47.64h3.71v3.99h-3.71zM3.69 51.61h3.71v3.99h-3.71zM11.07 51.61h3.71v3.99h-3.71zM29.52 51.61h3.71v3.99h-3.71zM55.35 51.61h3.71v3.99h-3.71zM73.80 51.61h3.71v3.99h-3.71zM0.00 55.58h3.71v3.99h-3.71zM25.83 55.58h3.71v3.99h-3.71zM47.97 55.58h3.71v3.99h-3.71zM59.04 55.58h3.71v3.99h-3.71zM70.11 55.58h7.40v3.99h-7.40zM125.46 55.58h3.71v3.99h-3.71zM3.69 59.55h3.71v3.99h-3.71zM22.14 59.55h3.71v3.99h-3.71zM92.25 59.55h3.71v3.99h-3.71zM121.77 59.55h3.71v3.99h-3.71zM40.59 63.52h3.71v3.99h-3.71zM59.04 63.52h3.71v3.99h-3.71zM77.49 63.52h3.71v3.99h-3.71zM14.76 67.49h3.71v3.99h-3.71zM22.14 67.49h7.40v3.99h-7.40zM33.21 67.49h3.71v3.99h-3.71zM47.97 67.49h3.71v3.99h-3.71zM73.80 67.49h3.71v3.99h-3.71zM11.07 71.46h3.71v3.99h-3.71zM25.83 71.46h7.40v3.99h-7.40zM36.90 71.46h3.71v3.99h-3.71zM59.04 71.46h3.71v3.99h-3.71zM66.42 71.46h7.40v3.99h-7.40zM0.00 75.43h7.40v3.99h-7.40zM11.07 75.43h7.40v3.99h-7.40zM33.21 75.43h3.71v3.99h-3.71zM62.73 75.43h3.71v3.99h-3.71zM81.18 75.43h11.09v3.99h-11.09zM7.38 79.40h3.71v3.99h-3.71zM14.76 79.40h3.71v3.99h-3.71zM29.52 79.40h3.71v3.99h-3.71zM47.97 79.40h3.71v3.99h-3.71zM73.80 79.40h3.71v3.99h-3.71zM92.25 79.40h3.71v3.99h-3.71zM99.63 79.40h3.71v3.99h-3.71zM14.76 83.37h3.71v3.99h-3.71zM22.14 83.37h3.71v3.99h-3.71zM36.90 83.37h3.71v3.99h-3.71zM51.66 83.37h3.71v3.99h-3.71zM81.18 83.37h3.71v3.99h-3.71zM95.94 83.37h3.71v3.99h-3.71zM107.01 83.37h3.71v3.99h-3.71zM0.00 87.34h3.71v3.99h-3.71zM22.14 87.34h3.71v3.99h-3.71zM36.90 87.34h3.71v3.99h-3.71zM51.66 87.34h3.71v3.99h-3.71zM14.76 91.31h7.40v3.99h-7.40zM22.14 95.28h3.71v3.99h-3.71zM36.90 95.28h3.71v3.99h-3.71zM33.21 99.25h7.40v3.99h-7.40zM51.66 107.19h3.71v3.99h-3.71zM92.25 107.19h3.71v3.99h-3.71zM44.28 115.13h3.71v3.99h-3.71zM59.04 115.13h3.71v3.99h-3.71zM88.56 115.13h3.71v3.99h-3.71zM95.94 115.13h7.40v3.99h-7.40zM88.56 119.10h3.71v3.99h-3.71zM22.14 123.07h3.71v3.99h-3.71zM59.04 123.07h3.71v3.99h-3.71zM92.25 123.07h3.71v3.99h-3.71zM44.28 127.04h7.40v3.99h-7.40zM92.25 127.04h11.09v3.99h-11.09zM0.00 131.01h3.71v3.99h-3.71zM25.83 131.01h3.71v3.99h-3.71zM36.90 131.01h3.71v3.99h-3.71zM44.28 131.01h7.40v3.99h-7.40zM95.94 131.01h7.40v3.99h-7.40zM7.38 134.98h3.71v3.99h-3.71zM22.14 134.98h3.71v3.99h-3.71zM44.28 134.98h3.71v3.99h-3.71zM7.38 138.95h3.71v3.99h-3.71zM40.59 138.95h3.71v3.99h-3.71zM95.94 138.95h7.40v3.99h-7.40zM114.39 142.92h3.71v3.99h-3.71zM18.45 146.89h3.71v3.99h-3.71zM44.28 146.89h3.71v3.99h-3.71zM51.66 146.89h3.71v3.99h-3.71zM92.25 146.89h3.71v3.99h-3.71zM99.63 146.89h3.71v3.99h-3.71zM118.08 146.89h3.71v3.99h-3.71z"/>
<path fill="#e5eff4" d="M22.14 0.00h3.71v3.99h-3.71zM47.97 0.00h3.71v3.99h-3.71zM55.35 0.00h3.71v3.99h-3.71zM81.18 0.00h3.71v3.99h-3.71zM151.29 0.00h3.71v3.99h-3.71zM44.28 3.97h3.71v3.99h-3.71zM14.76 7.94h3.71v3.99h-3.71zM29.52 7.94h7.40v3.99h-7.40zM151.29 11.91h3.71v3.99h-3.71zM62.73 15.88h3.71v3.99h-3.71zM81.18 15.88h3.71v3.99h-3.71zM151.29 15.88h3.71v3.99h-3.71zM62.73 19.85h3.71v3.99h-3.71zM81.18 19.85h3.71v3.99h-3.71zM88.56 19.85h3.71v3.99h-3.71zM107.01 27.79h3.71v3.99h-3.71zM73.80 31.76h3.71v3.99h-3.71zM118.08 31.76h3.71v3.99h-3.71zM36.90 39.70h3.71v3.99h-3.71zM110.70 39.70h3.71v3.99h-3.71zM129.15 39.70h3.71v3.99h-3.71zM0.00 43.67h3.71v3.99h-3.71zM47.97 43.67h3.71v3.99h-3.71zM125.46 43.67h3.71v3.99h-3.71zM40.59 47.64h3.71v3.99h-3.71zM47.97 47.64h3.71v3.99h-3.71zM125.46 47.64h3.71v3.99h-3.71zM44.28 51.61h3.71v3.99h-3.71zM62.73 51.61h3.71v3.99h-3.71zM33.21 55.58h3.71v3.99h-3.71zM95.94 55.58h3.71v3.99h-3.71zM110.70 55.58h3.71v3.99h-3.71zM55.35 59.55h3.71v3.99h-3.71zM47.97 63.52h3.71v3.99h-3.71zM95.94 63.52h3.71v3.99h-3.71zM88.56 71.46h3.71v3.99h-3.71zM107.01 71.46h3.71v3.99h-3.71zM95.94 75.43h3.71v3.99h-3.71zM107.01 75.43h3.71v3.99h-3.71zM103.32 79.40h3.71v3.99h-3.71zM47.97 83.37h3.71v3.99h-3.71zM110.70 83.37h3.71v3.99h-3.71zM99.63 87.34h3.71v3.99h-3.71zM114.39 87.34h3.71v3.99h-3.71zM3.69 91.31h3.71v3.99h-3.71zM47.97 91.31h3.71v3.99h-3.71zM70.11 91.31h3.71v3.99h-3.71zM0.00 95.28h3.71v3.99h-3.71zM95.94 95.28h3.71v3.99h-3.71zM0.00 99.25h3.71v3.99h-3.71zM11.07 99.25h3.71v3.99h-3.71zM40.59 99.25h3.71v3.99h-3.71zM88.56 99.25h3.71v3.99h-3.71zM3.69 103.22h7.40v3.99h-7.40zM14.76 107.19h3.71v3.99h-3.71zM0.00 111.16h3.71v3.99h-3.71zM0.00 115.13h3.71v3.99h-3.71zM7.38 115.13h3.71v3.99h-3.71zM36.90 115.13h3.71v3.99h-3.71zM22.14 119.10h3.71v3.99h-3.71zM33.21 119.10h14.78v3.99h-14.78zM70.11 119.10h3.71v3.99h-3.71zM7.38 123.07h3.71v3.99h-3.71zM33.21 123.07h3.71v3.99h-3.71zM70.11 123.07h3.71v3.99h-3.71zM84.87 123.07h7.40v3.99h-7.40zM7.38 127.04h7.40v3.99h-7.40zM40.59 127.04h3.71v3.99h-3.71zM66.42 127.04h3.71v3.99h-3.71zM3.69 131.01h7.40v3.99h-7.40zM33.21 131.01h3.71v3.99h-3.71zM59.04 138.95h3.71v3.99h-3.71zM44.28 142.92h3.71v3.99h-3.71zM62.73 146.89h3.71v3.99h-3.71zM95.94 146.89h3.71v3.99h-3.71z"/>
<path fill="#deebf2" d="M25.83 0.00h3.71v3.99h-3.71zM154.98 0.00h3.71v3.99h-3.71zM29.52 3.97h7.40v3.99h-7.40zM121.77 35.73h3.71v3.99h-3.71zM114.39 39.70h7.40v3.99h-7.40zM125.46 39.70h3.71v3.99h-3.71zM95.94 59.55h3.71v3.99h-3.71zM114.39 67.49h3.71v3.99h-3.71zM110.70 79.40h3.71v3.99h-3.71zM114.39 83.37h3.71v3.99h-3.71zM59.04 87.34h3.71v3.99h-3.71zM7.38 95.28h3.71v3.99h-3.71zM95.94 99.25h3.71v3.99h-3.71zM7.38 107.19h3.71v3.99h-3.71zM33.21 111.16h3.71v3.99h-3.71zM84.87 119.10h3.71v3.99h-3.71zM84.87 127.04h3.71v3.99h-3.71zM55.35 134.98h3.71v3.99h-3.71zM77.49 146.89h3.71v3.99h-3.71z"/>
<path fill="#e3edf3" d="M29.52 0.00h11.09v3.99h-11.09zM44.28 0.00h3.71v3.99h-3.71zM36.90 3.97h3.71v3.99h-3.71zM151.29 3.97h3.71v3.99h-3.71zM73.80 27.79h3.71v3.99h-3.71zM88.56 27.79h3.71v3.99h-3.71zM114.39 35.73h3.71v3.99h-3.71zM125.46 35.73h3.71v3.99h-3.71zM51.66 39.70h3.71v3.99h-3.71zM110.70 43.67h3.71v3.99h-3.71zM110.70 47.64h3.71v3.99h-3.71zM118.08 47.64h7.40v3.99h-7.40zM40.59 51.61h3.71v3.99h-3.71zM114.39 55.58h7.40v3.99h-7.40zM118.08 59.55h3.71v3.99h-3.71zM110.70 63.52h3.71v3.99h-3.71zM118.08 63.52h3.71v3.99h-3.71zM95.94 67.49h3.71v3.99h-3.71zM118.08 67.49h3.71v3.99h-3.71zM99.63 71.46h3.71v3.99h-3.71zM7.38 87.34h3.71v3.99h-3.71zM70.11 87.34h3.71v3.99h-3.71zM103.32 87.34h3.71v3.99h-3.71zM51.66 91.31h3.71v3.99h-3.71zM66.42 91.31h3.71v3.99h-3.71zM110.70 91.31h3.71v3.99h-3.71zM70.11 95.28h3.71v3.99h-3.71zM3.69 99.25h7.40v3.99h-7.40zM51.66 99.25h3.71v3.99h-3.71zM62.73 103.22h3.71v3.99h-3.71zM84.87 103.22h7.40v3.99h-7.40zM59.04 107.19h3.71v3.99h-3.71zM66.42 107.19h7.40v3.99h-7.40zM84.87 107.19h3.71v3.99h-3.71zM7.38 111.16h3.71v3.99h-3.71zM70.11 111.16h3.71v3.99h-3.71zM99.63 111.16h3.71v3.99h-3.71zM0.00 119.10h3.71v3.99h-3.71zM11.07 119.10h3.71v3.99h-3.71zM11.07 123.07h3.71v3.99h-3.71zM25.83 123.07h3.71v3.99h-3.71zM70.11 127.04h3.71v3.99h-3.71zM55.35 131.01h7.40v3.99h-7.40zM66.42 131.01h3.71v3.99h-3.71zM59.04 134.98h3.71v3.99h-3.71zM110.70 134.98h3.71v3.99h-3.71zM70.11 138.95h3.71v3.99h-3.71zM66.42 142.92h3.71v3.99h-3.71zM73.80 142.92h3.71v3.99h-3.71z"/>
<path fill="#e0ecf3" d="M40.59 0.00h3.71v3.99h-3.71zM151.29 19.85h3.71v3.99h-3.71zM121.77 31.76h3.71v3.99h-3.71zM29.52 39.70h3.71v3.99h-3.71zM103.32 47.64h3.71v3.99h-3.71zM114.39 47.64h3.71v3.99h-3.71zM99.63 51.61h3.71v3.99h-3.71zM44.28 55.58h3.71v3.99h-3.71zM99.63 55.58h3.71v3.99h-3.71zM114.39 63.52h3.71v3.99h-3.71zM95.94 71.46h3.71v3.99h-3.71zM121.77 71.46h3.71v3.99h-3.71zM99.63 75.43h3.71v3.99h-3.71zM110.70 75.43h3.71v3.99h-3.71zM55.35 91.31h3.71v3.99h-3.71zM62.73 91.31h3.71v3.99h-3.71zM77.49 91.31h3.71v3.99h-3.71zM84.87 91.31h3.71v3.99h-3.71zM51.66 95.28h3.71v3.99h-3.71zM55.35 99.25h3.71v3.99h-3.71zM70.11 99.25h3.71v3.99h-3.71zM59.04 103.22h3.71v3.99h-3.71zM70.11 103.22h3.71v3.99h-3.71zM33.21 107.19h3.71v3.99h-3.71zM3.69 111.16h3.71v3.99h-3.71zM11.07 111.16h3.71v3.99h-3.71zM84.87 111.16h3.71v3.99h-3.71zM22.14 115.13h3.71v3.99h-3.71zM33.21 115.13h3.71v3.99h-3.71zM40.59 115.13h3.71v3.99h-3.71zM18.45 119.10h3.71v3.99h-3.71zM25.83 119.10h7.40v3.99h-7.40zM29.52 123.07h3.71v3.99h-3.71zM84.87 131.01h3.71v3.99h-3.71zM103.32 131.01h3.71v3.99h-3.71zM114.39 131.01h3.71v3.99h-3.71zM62.73 134.98h3.71v3.99h-3.71zM84.87 134.98h3.71v3.99h-3.71zM73.80 146.89h3.71v3.99h-3.71z"/>
<path fill="#e8f0f4" d="M62.73 0.00h3.71v3.99h-3.71zM18.45 3.97h11.09v3.99h-11.09zM40.59 3.97h3.71v3.99h-3.71zM47.97 3.97h3.71v3.99h-3.71zM73.80 3.97h3.71v3.99h-3.71zM107.01 3.97h3.71v3.99h-3.71zM136.53 3.97h3.71v3.99h-3.71zM25.83 7.94h3.71v3.99h-3.71zM70.11 7.94h3.71v3.99h-3.71zM151.29 7.94h3.71v3.99h-3.71zM40.59 11.91h3.71v3.99h-3.71zM92.25 11.91h3.71v3.99h-3.71zM107.01 11.91h3.71v3.99h-3.71zM40.59 15.88h7.40v3.99h-7.40zM73.80 15.88h7.40v3.99h-7.40zM110.70 15.88h3.71v3.99h-3.71zM84.87 19.85h3.71v3.99h-3.71zM129.15 19.85h3.71v3.99h-3.71zM59.04 23.82h3.71v3.99h-3.71zM66.42 23.82h3.71v3.99h-3.71zM77.49 23.82h3.71v3.99h-3.71zM44.28 27.79h3.71v3.99h-3.71zM70.11 27.79h3.71v3.99h-3.71zM77.49 27.79h3.71v3.99h-3.71zM110.70 27.79h3.71v3.99h-3.71zM77.49 31.76h3.71v3.99h-3.71zM92.25 31.76h3.71v3.99h-3.71zM110.70 31.76h7.40v3.99h-7.40zM14.76 35.73h3.71v3.99h-3.71zM84.87 35.73h7.40v3.99h-7.40zM103.32 35.73h3.71v3.99h-3.71zM110.70 35.73h3.71v3.99h-3.71zM55.35 39.70h3.71v3.99h-3.71zM66.42 39.70h3.71v3.99h-3.71zM103.32 39.70h3.71v3.99h-3.71zM33.21 43.67h3.71v3.99h-3.71zM40.59 43.67h3.71v3.99h-3.71zM59.04 43.67h3.71v3.99h-3.71zM107.01 43.67h3.71v3.99h-3.71zM0.00 47.64h3.71v3.99h-3.71zM44.28 47.64h3.71v3.99h-3.71zM99.63 47.64h3.71v3.99h-3.71zM92.25 51.61h3.71v3.99h-3.71zM121.77 51.61h7.40v3.99h-7.40zM40.59 55.58h3.71v3.99h-3.71zM88.56 55.58h3.71v3.99h-3.71zM107.01 55.58h3.71v3.99h-3.71zM40.59 59.55h3.71v3.99h-3.71zM47.97 59.55h3.71v3.99h-3.71zM66.42 59.55h3.71v3.99h-3.71zM125.46 59.55h3.71v3.99h-3.71zM14.76 63.52h3.71v3.99h-3.71zM33.21 63.52h3.71v3.99h-3.71zM92.25 63.52h3.71v3.99h-3.71zM121.77 63.52h3.71v3.99h-3.71zM18.45 67.49h3.71v3.99h-3.71zM44.28 67.49h3.71v3.99h-3.71zM55.35 67.49h3.71v3.99h-3.71zM66.42 67.49h3.71v3.99h-3.71zM7.38 71.46h3.71v3.99h-3.71zM92.25 71.46h3.71v3.99h-3.71zM7.38 75.43h3.71v3.99h-3.71zM47.97 75.43h3.71v3.99h-3.71zM107.01 79.40h3.71v3.99h-3.71zM11.07 83.37h3.71v3.99h-3.71zM73.80 83.37h3.71v3.99h-3.71zM84.87 83.37h3.71v3.99h-3.71zM29.52 87.34h3.71v3.99h-3.71zM73.80 87.34h3.71v3.99h-3.71zM81.18 87.34h3.71v3.99h-3.71zM95.94 87.34h3.71v3.99h-3.71zM107.01 87.34h3.71v3.99h-3.71zM3.69 95.28h3.71v3.99h-3.71zM18.45 95.28h3.71v3.99h-3.71zM25.83 99.25h3.71v3.99h-3.71zM47.97 99.25h3.71v3.99h-3.71zM92.25 99.25h3.71v3.99h-3.71zM22.14 103.22h3.71v3.99h-3.71zM33.21 103.22h3.71v3.99h-3.71zM92.25 103.22h7.40v3.99h-7.40zM22.14 107.19h3.71v3.99h-3.71zM62.73 107.19h3.71v3.99h-3.71zM36.90 111.16h7.40v3.99h-7.40zM62.73 111.16h3.71v3.99h-3.71zM14.76 115.13h3.71v3.99h-3.71zM29.52 115.13h3.71v3.99h-3.71zM7.38 119.10h3.71v3.99h-3.71zM14.76 119.10h3.71v3.99h-3.71zM3.69 123.07h3.71v3.99h-3.71zM14.76 123.07h7.40v3.99h-7.40zM36.90 123.07h7.40v3.99h-7.40zM66.42 123.07h3.71v3.99h-3.71zM33.21 127.04h3.71v3.99h-3.71zM55.35 127.04h3.71v3.99h-3.71zM62.73 127.04h3.71v3.99h-3.71zM22.14 131.01h3.71v3.99h-3.71zM51.66 134.98h3.71v3.99h-3.71zM103.32 134.98h3.71v3.99h-3.71zM0.00 138.95h3.71v3.99h-3.71zM47.97 138.95h3.71v3.99h-3.71zM55.35 138.95h3.71v3.99h-3.71zM62.73 138.95h7.40v3.99h-7.40zM88.56 138.95h3.71v3.99h-3.71zM51.66 142.92h3.71v3.99h-3.71zM70.11 142.92h3.71v3.99h-3.71zM84.87 146.89h7.40v3.99h-7.40z"/>
<path fill="#f4f6f7" d="M125.46 0.00h3.71v3.99h-3.71zM136.53 0.00h3.71v3.99h-3.71zM92.25 3.97h3.71v3.99h-3.71zM11.07 7.94h3.71v3.99h-3.71zM22.14 7.94h3.71v3.99h-3.71zM51.66 7.94h3.71v3.99h-3.71zM88.56 7.94h3.71v3.99h-3.71zM99.63 7.94h3.71v3.99h-3.71zM121.77 7.94h3.71v3.99h-3.71zM59.04 11.91h3.71v3.99h-3.71zM66.42 11.91h3.71v3.99h-3.71zM95.94 11.91h3.71v3.99h-3.71zM114.39 11.91h3.71v3.99h-3.71zM129.15 11.91h3.71v3.99h-3.71zM14.76 15.88h3.71v3.99h-3.71zM44.28 19.85h3.71v3.99h-3.71zM95.94 19.85h3.71v3.99h-3.71zM121.77 19.85h3.71v3.99h-3.71zM14.76 23.82h3.71v3.99h-3.71zM36.90 23.82h3.71v3.99h-3.71zM44.28 23.82h7.40v3.99h-7.40zM143.91 23.82h3.71v3.99h-3.71zM121.77 27.79h11.09v3.99h-11.09zM44.28 31.76h3.71v3.99h-3.71zM29.52 35.73h3.71v3.99h-3.71zM81.18 35.73h3.71v3.99h-3.71zM0.00 39.70h7.40v3.99h-7.40zM25.83 39.70h3.71v3.99h-3.71zM59.04 39.70h3.71v3.99h-3.71zM70.11 39.70h3.71v3.99h-3.71zM99.63 39.70h3.71v3.99h-3.71zM3.69 43.67h3.71v3.99h-3.71zM84.87 43.67h3.71v3.99h-3.71zM18.45 47.64h3.71v3.99h-3.71zM29.52 47.64h3.71v3.99h-3.71zM14.76 51.61h7.40v3.99h-7.40zM107.01 51.61h3.71v3.99h-3.71zM0.00 63.52h3.71v3.99h-3.71zM18.45 63.52h3.71v3.99h-3.71zM51.66 63.52h3.71v3.99h-3.71zM0.00 67.49h3.71v3.99h-3.71zM7.38 67.49h3.71v3.99h-3.71zM62.73 67.49h3.71v3.99h-3.71zM77.49 67.49h3.71v3.99h-3.71zM18.45 71.46h3.71v3.99h-3.71zM44.28 71.46h3.71v3.99h-3.71zM73.80 71.46h3.71v3.99h-3.71zM81.18 71.46h3.71v3.99h-3.71zM36.90 75.43h3.71v3.99h-3.71zM77.49 75.43h3.71v3.99h-3.71zM40.59 79.40h3.71v3.99h-3.71zM33.21 83.37h3.71v3.99h-3.71zM88.56 83.37h3.71v3.99h-3.71zM33.21 87.34h3.71v3.99h-3.71zM29.52 99.25h3.71v3.99h-3.71zM51.66 115.13h3.71v3.99h-3.71zM62.73 115.13h3.71v3.99h-3.71zM14.76 134.98h3.71v3.99h-3.71zM29.52 134.98h3.71v3.99h-3.71zM40.59 134.98h3.71v3.99h-3.71zM95.94 134.98h7.40v3.99h-7.40zM44.28 138.95h3.71v3.99h-3.71zM103.32 138.95h7.40v3.99h-7.40zM11.07 142.92h3.71v3.99h-3.71zM40.59 142.92h3.71v3.99h-3.71zM99.63 142.92h3.71v3.99h-3.71z"/>
<path fill="#f7f7f7" d="M132.84 3.97h3.71v3.99h-3.71zM81.18 7.94h3.71v3.99h-3.71zM0.00 15.88h3.71v3.99h-3.71zM118.08 15.88h3.71v3.99h-3.71zM14.76 19.85h3.71v3.99h-3.71zM118.08 23.82h3.71v3.99h-3.71zM147.60 23.82h3.71v3.99h-3.71zM11.07 47.64h3.71v3.99h-3.71zM22.14 47.64h3.71v3.99h-3.71zM70.11 47.64h3.71v3.99h-3.71zM0.00 51.61h3.71v3.99h-3.71zM29.52 55.58h3.71v3.99h-3.71zM33.21 59.55h3.71v3.99h-3.71zM0.00 71.46h3.71v3.99h-3.71zM55.35 71.46h3.71v3.99h-3.71zM25.83 91.31h3.71v3.99h-3.71zM92.25 119.10h3.71v3.99h-3.71zM36.90 142.92h3.71v3.99h-3.71zM29.52 146.89h3.71v3.99h-3.71zM103.32 146.89h3.71v3.99h-3.71zM110.70 146.89h3.71v3.99h-3.71z"/>
<path fill="#d1e5f0" d="M154.98 3.97h3.71v3.99h-3.71zM114.39 75.43h3.71v3.99h-3.71zM118.08 79.40h3.71v3.99h-3.71zM99.63 95.28h3.71v3.99h-3.71zM66.42 99.25h3.71v3.99h-3.71zM99.63 99.25h3.71v3.99h-3.71zM99.63 103.22h3.71v3.99h-3.71zM77.49 111.16h3.71v3.99h-3.71zM103.32 115.13h3.71v3.99h-3.71zM77.49 127.04h7.40v3.99h-7.40zM77.49 138.95h7.40v3.99h-7.40z"/>
<path fill="#d9e9f1" d="M154.98 7.94h3.71v3.99h-3.71zM154.98 19.85h3.71v3.99h-3.71zM107.01 67.49h3.71v3.99h-3.71zM114.39 79.40h3.71v3.99h-3.71zM81.18 91.31h3.71v3.99h-3.71zM107.01 91.31h3.71v3.99h-3.71zM55.35 95.28h11.09v3.99h-11.09zM73.80 95.28h3.71v3.99h-3.71zM62.73 99.25h3.71v3.99h-3.71zM73.80 99.25h3.71v3.99h-3.71zM81.18 99.25h3.71v3.99h-3.71zM73.80 107.19h3.71v3.99h-3.71zM81.18 107.19h3.71v3.99h-3.71zM73.80 111.16h3.71v3.99h-3.71zM103.32 119.10h3.71v3.99h-3.71zM103.32 127.04h3.71v3.99h-3.71zM62.73 131.01h3.71v3.99h-3.71zM81.18 134.98h3.71v3.99h-3.71zM73.80 138.95h3.71v3.99h-3.71zM77.49 142.92h3.71v3.99h-3.71z"/>
<path fill="#f7f5f4" d="M14.76 11.91h3.71v3.99h-3.71zM40.59 103.22h3.71v3.99h-3.71zM36.90 138.95h3.71v3.99h-3.71z"/>
<path fill="#d4e6f0" d="M154.98 11.91h3.71v3.99h-3.71zM154.98 15.88h3.71v3.99h-3.71zM118.08 43.67h3.71v3.99h-3.71zM103.32 63.52h7.40v3.99h-7.40zM99.63 91.31h3.71v3.99h-3.71zM81.18 95.28h3.71v3.99h-3.71zM59.04 99.25h3.71v3.99h-3.71zM81.18 103.22h3.71v3.99h-3.71zM77.49 107.19h3.71v3.99h-3.71zM81.18 111.16h3.71v3.99h-3.71zM77.49 131.01h7.40v3.99h-7.40zM81.18 146.89h3.71v3.99h-3.71z"/>
<path fill="#f8f3f1" d="M114.39 19.85h7.40v3.99h-7.40zM121.77 23.82h3.71v3.99h-3.71zM29.52 138.95h3.71v3.99h-3.71zM14.76 142.92h3.71v3.99h-3.71z"/>
<path fill="#dbeaf2" d="M151.29 23.82h7.40v3.99h-7.40zM118.08 35.73h3.71v3.99h-3.71zM121.77 39.70h3.71v3.99h-3.71zM114.39 43.67h3.71v3.99h-3.71zM121.77 43.67h3.71v3.99h-3.71zM103.32 55.58h3.71v3.99h-3.71zM99.63 59.55h3.71v3.99h-3.71zM99.63 63.52h3.71v3.99h-3.71zM99.63 67.49h7.40v3.99h-7.40zM110.70 67.49h3.71v3.99h-3.71zM121.77 67.49h3.71v3.99h-3.71zM103.32 71.46h3.71v3.99h-3.71zM110.70 71.46h3.71v3.99h-3.71zM59.04 91.31h3.71v3.99h-3.71zM73.80 91.31h3.71v3.99h-3.71zM110.70 95.28h3.71v3.99h-3.71zM84.87 99.25h3.71v3.99h-3.71zM66.42 103.22h3.71v3.99h-3.71zM73.80 103.22h3.71v3.99h-3.71zM29.52 111.16h3.71v3.99h-3.71zM84.87 115.13h3.71v3.99h-3.71zM103.32 123.07h3.71v3.99h-3.71zM110.70 123.07h3.71v3.99h-3.71zM70.11 131.01h7.40v3.99h-7.40zM66.42 134.98h3.71v3.99h-3.71zM84.87 138.95h3.71v3.99h-3.71z"/>
<path fill="#afd4e6" d="M151.29 35.73h3.71v3.99h-3.71zM154.98 43.67h3.71v3.99h-3.71zM151.29 47.64h3.71v3.99h-3.71zM77.49 123.07h3.71v3.99h-3.71z"/>
<path fill="#a7d0e4" d="M154.98 35.73h3.71v3.99h-3.71zM151.29 59.55h3.71v3.99h-3.71zM151.29 63.52h3.71v3.99h-3.71zM151.29 75.43h3.71v3.99h-3.71zM151.29 79.40h3.71v3.99h-3.71zM151.29 83.37h3.71v3.99h-3.71z"/>
<path fill="#b8d8e9" d="M151.29 39.70h3.71v3.99h-3.71zM151.29 51.61h7.40v3.99h-7.40zM154.98 75.43h3.71v3.99h-3.71zM154.98 79.40h3.71v3.99h-3.71zM103.32 91.31h3.71v3.99h-3.71zM77.49 115.13h3.71v3.99h-3.71z"/>
<path fill="#9fcbe2" d="M154.98 39.70h3.71v3.99h-3.71zM103.32 103.22h3.71v3.99h-3.71zM107.01 131.01h3.71v3.99h-3.71z"/>
<path fill="#abd2e5" d="M151.29 43.67h3.71v3.99h-3.71zM151.29 87.34h3.71v3.99h-3.71zM154.98 91.31h3.71v3.99h-3.71zM107.01 99.25h3.71v3.99h-3.71zM103.32 107.19h3.71v3.99h-3.71zM107.01 127.04h3.71v3.99h-3.71zM110.70 131.01h3.71v3.99h-3.71z"/>
<path fill="#bcdaea" d="M154.98 47.64h3.71v3.99h-3.71zM154.98 87.34h3.71v3.99h-3.71z"/>
<path fill="#a3cee3" d="M151.29 55.58h3.71v3.99h-3.71zM151.29 71.46h3.71v3.99h-3.71zM103.32 95.28h3.71v3.99h-3.71zM77.49 119.10h3.71v3.99h-3.71z"/>
<path fill="#b4d6e8" d="M154.98 55.58h3.71v3.99h-3.71zM154.98 59.55h3.71v3.99h-3.71zM154.98 63.52h3.71v3.99h-3.71zM154.98 71.46h3.71v3.99h-3.71zM81.18 119.10h3.71v3.99h-3.71zM81.18 123.07h3.71v3.99h-3.71z"/>
<path fill="#d6e7f1" d="M103.32 59.55h11.09v3.99h-11.09zM114.39 71.46h7.40v3.99h-7.40zM118.08 75.43h3.71v3.99h-3.71zM66.42 95.28h3.71v3.99h-3.71zM77.49 95.28h3.71v3.99h-3.71zM84.87 95.28h3.71v3.99h-3.71zM77.49 99.25h3.71v3.99h-3.71zM99.63 107.19h3.71v3.99h-3.71zM73.80 115.13h3.71v3.99h-3.71zM73.80 127.04h3.71v3.99h-3.71zM70.11 134.98h11.09v3.99h-11.09zM107.01 134.98h3.71v3.99h-3.71zM81.18 142.92h7.40v3.99h-7.40z"/>
<path fill="#9ac9e0" d="M151.29 67.49h3.71v3.99h-3.71zM103.32 99.25h3.71v3.99h-3.71z"/>
<path fill="#c0dceb" d="M154.98 67.49h3.71v3.99h-3.71zM154.98 83.37h3.71v3.99h-3.71zM107.01 123.07h3.71v3.99h-3.71z"/>
<path fill="#92c5de" d="M151.29 91.31h3.71v3.99h-3.71z"/>
<path fill="#c9e1ee" d="M107.01 95.28h3.71v3.99h-3.71z"/>
<path fill="#78b4d5" d="M151.29 95.28h3.71v3.99h-3.71z"/>
<path fill="#63a7ce" d="M154.98 95.28h3.71v3.99h-3.71z"/>
<path fill="#cde3ef" d="M77.49 103.22h3.71v3.99h-3.71zM73.80 119.10h3.71v3.99h-3.71zM73.80 123.07h3.71v3.99h-3.71z"/>
<path fill="#c4dfec" d="M103.32 111.16h3.71v3.99h-3.71zM81.18 115.13h3.71v3.99h-3.71zM110.70 127.04h3.71v3.99h-3.71z"/>
<path fill="#f9f0ea" d="M14.76 138.95h3.71v3.99h-3.71zM33.21 138.95h3.71v3.99h-3.71zM29.52 142.92h3.71v3.99h-3.71z"/>
<path fill="#f8f1ed" d="M18.45 138.95h3.71v3.99h-3.71zM33.21 142.92h3.71v3.99h-3.71zM25.83 146.89h3.71v3.99h-3.71z"/>
<path fill="#f9eee7" d="M22.14 138.95h3.71v3.99h-3.71zM25.83 142.92h3.71v3.99h-3.71z"/>
<path fill="#faeae1" d="M25.83 138.95h3.71v3.99h-3.71zM18.45 142.92h3.71v3.99h-3.71z"/>
<path fill="#f9ece4" d="M22.14 142.92h3.71v3.99h-3.71z"/>
</g>
<use href="#coast" fill="none" stroke="#808080" stroke-width="1.25" stroke-linejoin="round"/>
<use href="#grid" fill="none" stroke="#b0b0b0" stroke-width="1.11"/>
</g></g>
<rect x="393.5" y="125.5" width="161" height="154" fill="none" stroke="#000" stroke-width="1.11"/>
<text x="394.06" y="115.00" font-size="13.889" text-anchor="middle">112.5°E</text>
<text x="396.76" y="296.50" font-size="13.889" text-anchor="middle">112.5°E</text>
<text x="462.21" y="115.00" font-size="13.889" text-anchor="middle">113.25°E</text>
<text x="466.27" y="296.50" font-size="13.889" text-anchor="middle">113.25°E</text>
<text x="532.36" y="115.00" font-size="13.889" text-anchor="middle">114°E</text>
<text x="534.28" y="296.50" font-size="13.889" text-anchor="middle">114°E</text>
<text x="716.34" y="95.20" font-size="16.667" text-anchor="middle">dSST/dx [K km<tspan font-size="11.667" dy="-6.60">−1</tspan><tspan dy="6.60">]</tspan></text>
<g transform="translate(635.22 125.40)"><g clip-path="url(#mc)">
<rect x="0" y="0" width="161.74" height="153.60" fill="#98b7e2"/>
<use href="#land" fill="#f0f0dc"/>
<g transform="matrix(0.99964 -0.02700 0.02700 0.99964 0.20 3.30)" shape-rendering="crispEdges">
<path fill="#f0edec" d="M0.00 0.00h3.71v3.99h-3.71zM121.77 3.97h3.71v3.99h-3.71zM136.53 3.97h3.71v3.99h-3.71zM151.29 3.97h3.71v3.99h-3.71zM25.83 7.94h3.71v3.99h-3.71zM143.91 7.94h11.09v3.99h-11.09zM66.42 11.91h3.71v3.99h-3.71zM77.49 11.91h3.71v3.99h-3.71zM81.18 15.88h3.71v3.99h-3.71zM70.11 19.85h3.71v3.99h-3.71zM81.18 19.85h3.71v3.99h-3.71zM88.56 19.85h3.71v3.99h-3.71zM136.53 19.85h7.40v3.99h-7.40zM147.60 19.85h7.40v3.99h-7.40zM47.97 23.82h3.71v3.99h-3.71zM70.11 23.82h7.40v3.99h-7.40zM143.91 23.82h3.71v3.99h-3.71zM129.15 27.79h11.09v3.99h-11.09zM70.11 31.76h3.71v3.99h-3.71zM136.53 31.76h3.71v3.99h-3.71zM92.25 35.73h7.40v3.99h-7.40zM66.42 39.70h3.71v3.99h-3.71zM92.25 39.70h3.71v3.99h-3.71zM95.94 43.67h3.71v3.99h-3.71zM114.39 43.67h3.71v3.99h-3.71zM154.98 43.67h3.71v3.99h-3.71zM40.59 47.64h3.71v3.99h-3.71zM99.63 47.64h3.71v3.99h-3.71zM66.42 51.61h3.71v3.99h-3.71zM103.32 51.61h3.71v3.99h-3.71zM114.39 51.61h3.71v3.99h-3.71zM3.69 55.58h3.71v3.99h-3.71zM44.28 55.58h3.71v3.99h-3.71zM114.39 55.58h3.71v3.99h-3.71zM154.98 55.58h3.71v3.99h-3.71zM25.83 59.55h3.71v3.99h-3.71zM84.87 59.55h3.71v3.99h-3.71zM88.56 63.52h7.40v3.99h-7.40zM107.01 63.52h7.40v3.99h-7.40zM44.28 67.49h3.71v3.99h-3.71zM95.94 67.49h3.71v3.99h-3.71zM29.52 71.46h3.71v3.99h-3.71zM88.56 71.46h3.71v3.99h-3.71zM114.39 71.46h3.71v3.99h-3.71zM51.66 75.43h3.71v3.99h-3.71zM59.04 75.43h3.71v3.99h-3.71zM66.42 75.43h3.71v3.99h-3.71zM73.80 75.43h3.71v3.99h-3.71zM81.18 75.43h3.71v3.99h-3.71zM92.25 75.43h3.71v3.99h-3.71zM70.11 79.40h3.71v3.99h-3.71zM81.18 79.40h11.09v3.99h-11.09zM110.70 79.40h3.71v3.99h-3.71zM70.11 83.37h3.71v3.99h-3.71zM55.35 87.34h11.09v3.99h-11.09zM88.56 87.34h3.71v3.99h-3.71zM47.97 95.28h3.71v3.99h-3.71zM66.42 99.25h3.71v3.99h-3.71zM3.69 103.22h3.71v3.99h-3.71zM25.83 103.22h3.71v3.99h-3.71zM33.21 103.22h3.71v3.99h-3.71zM44.28 103.22h3.71v3.99h-3.71zM62.73 103.22h3.71v3.99h-3.71zM25.83 107.19h3.71v3.99h-3.71zM36.90 107.19h3.71v3.99h-3.71zM92.25 107.19h3.71v3.99h-3.71zM0.00 111.16h3.71v3.99h-3.71zM22.14 111.16h7.40v3.99h-7.40zM36.90 111.16h14.78v3.99h-14.78zM33.21 115.13h3.71v3.99h-3.71zM40.59 115.13h3.71v3.99h-3.71zM59.04 115.13h3.71v3.99h-3.71zM51.66 119.10h3.71v3.99h-3.71zM66.42 119.10h3.71v3.99h-3.71zM103.32 119.10h3.71v3.99h-3.71zM0.00 123.07h3.71v3.99h-3.71zM36.90 123.07h3.71v3.99h-3.71zM47.97 123.07h3.71v3.99h-3.71zM0.00 127.04h7.40v3.99h-7.40zM29.52 127.04h3.71v3.99h-3.71zM40.59 127.04h3.71v3.99h-3.71zM47.97 127.04h3.71v3.99h-3.71zM92.25 127.04h3.71v3.99h-3.71zM40.59 131.01h3.71v3.99h-3.71zM95.94 131.01h3.71v3.99h-3.71zM3.69 134.98h3.71v3.99h-3.71zM44.28 134.98h3.71v3.99h-3.71zM84.87 134.98h3.71v3.99h-3.71zM0.00 138.95h3.71v3.99h-3.71zM51.66 138.95h3.71v3.99h-3.71zM62.73 138.95h11.09v3.99h-11.09zM51.66 142.92h3.71v3.99h-3.71zM59.04 142.92h3.71v3.99h-3.71zM66.42 142.92h3.71v3.99h-3.71zM107.01 142.92h3.71v3.99h-3.71zM22.14 146.89h3.71v3.99h-3.71zM84.87 146.89h7.40v3.99h-7.40zM107.01 146.89h7.40v3.99h-7.40z"/>
<path fill="#f5f0ee" d="M3.69 0.00h3.71v3.99h-3.71zM33.21 0.00h3.71v3.99h-3.71zM77.49 0.00h3.71v3.99h-3.71zM88.56 0.00h3.71v3.99h-3.71zM95.94 0.00h3.71v3.99h-3.71zM103.32 0.00h3.71v3.99h-3.71zM132.84 0.00h7.40v3.99h-7.40zM143.91 0.00h3.71v3.99h-3.71zM151.29 0.00h3.71v3.99h-3.71zM7.38 3.97h3.71v3.99h-3.71zM22.14 3.97h3.71v3.99h-3.71zM73.80 3.97h11.09v3.99h-11.09zM154.98 3.97h3.71v3.99h-3.71zM18.45 7.94h3.71v3.99h-3.71zM40.59 7.94h7.40v3.99h-7.40zM62.73 7.94h3.71v3.99h-3.71zM73.80 7.94h3.71v3.99h-3.71zM88.56 7.94h3.71v3.99h-3.71zM118.08 7.94h3.71v3.99h-3.71zM154.98 7.94h3.71v3.99h-3.71zM22.14 11.91h11.09v3.99h-11.09zM44.28 11.91h3.71v3.99h-3.71zM62.73 11.91h3.71v3.99h-3.71zM136.53 11.91h3.71v3.99h-3.71zM154.98 11.91h3.71v3.99h-3.71zM33.21 15.88h14.78v3.99h-14.78zM55.35 15.88h3.71v3.99h-3.71zM62.73 15.88h7.40v3.99h-7.40zM77.49 15.88h3.71v3.99h-3.71zM84.87 15.88h3.71v3.99h-3.71zM110.70 15.88h3.71v3.99h-3.71zM25.83 19.85h7.40v3.99h-7.40zM36.90 19.85h3.71v3.99h-3.71zM44.28 19.85h3.71v3.99h-3.71zM51.66 19.85h14.78v3.99h-14.78zM73.80 19.85h7.40v3.99h-7.40zM84.87 19.85h3.71v3.99h-3.71zM118.08 19.85h7.40v3.99h-7.40zM143.91 19.85h3.71v3.99h-3.71zM154.98 19.85h3.71v3.99h-3.71zM18.45 23.82h11.09v3.99h-11.09zM44.28 23.82h3.71v3.99h-3.71zM66.42 23.82h3.71v3.99h-3.71zM77.49 23.82h7.40v3.99h-7.40zM88.56 23.82h3.71v3.99h-3.71zM140.22 23.82h3.71v3.99h-3.71zM25.83 27.79h7.40v3.99h-7.40zM40.59 27.79h3.71v3.99h-3.71zM51.66 27.79h7.40v3.99h-7.40zM62.73 27.79h7.40v3.99h-7.40zM92.25 27.79h3.71v3.99h-3.71zM114.39 27.79h3.71v3.99h-3.71zM140.22 27.79h3.71v3.99h-3.71zM18.45 31.76h7.40v3.99h-7.40zM36.90 31.76h3.71v3.99h-3.71zM51.66 31.76h3.71v3.99h-3.71zM62.73 31.76h3.71v3.99h-3.71zM73.80 31.76h7.40v3.99h-7.40zM84.87 31.76h3.71v3.99h-3.71zM95.94 31.76h3.71v3.99h-3.71zM107.01 31.76h7.40v3.99h-7.40zM36.90 35.73h3.71v3.99h-3.71zM51.66 35.73h7.40v3.99h-7.40zM70.11 35.73h3.71v3.99h-3.71zM84.87 35.73h7.40v3.99h-7.40zM99.63 35.73h7.40v3.99h-7.40zM29.52 39.70h3.71v3.99h-3.71zM40.59 39.70h7.40v3.99h-7.40zM62.73 39.70h3.71v3.99h-3.71zM73.80 39.70h3.71v3.99h-3.71zM84.87 39.70h7.40v3.99h-7.40zM99.63 39.70h3.71v3.99h-3.71zM107.01 39.70h3.71v3.99h-3.71zM18.45 43.67h3.71v3.99h-3.71zM36.90 43.67h3.71v3.99h-3.71zM47.97 43.67h3.71v3.99h-3.71zM55.35 43.67h3.71v3.99h-3.71zM70.11 43.67h7.40v3.99h-7.40zM84.87 43.67h7.40v3.99h-7.40zM103.32 43.67h3.71v3.99h-3.71zM3.69 47.64h3.71v3.99h-3.71zM11.07 47.64h3.71v3.99h-3.71zM22.14 47.64h3.71v3.99h-3.71zM55.35 47.64h3.71v3.99h-3.71zM66.42 47.64h3.71v3.99h-3.71zM84.87 47.64h3.71v3.99h-3.71zM110.70 47.64h3.71v3.99h-3.71zM154.98 47.64h3.71v3.99h-3.71zM3.69 51.61h3.71v3.99h-3.71zM25.83 51.61h3.71v3.99h-3.71zM33.21 51.61h3.71v3.99h-3.71zM81.18 51.61h11.09v3.99h-11.09zM110.70 51.61h3.71v3.99h-3.71zM22.14 55.58h3.71v3.99h-3.71zM33.21 55.58h3.71v3.99h-3.71zM40.59 55.58h3.71v3.99h-3.71zM47.97 55.58h7.40v3.99h-7.40zM77.49 55.58h3.71v3.99h-3.71zM84.87 55.58h3.71v3.99h-3.71zM11.07 59.55h3.71v3.99h-3.71zM36.90 59.55h3.71v3.99h-3.71zM77.49 59.55h3.71v3.99h-3.71zM0.00 63.52h7.40v3.99h-7.40zM11.07 63.52h3.71v3.99h-3.71zM36.90 63.52h3.71v3.99h-3.71zM47.97 63.52h7.40v3.99h-7.40zM77.49 63.52h7.40v3.99h-7.40zM0.00 67.49h3.71v3.99h-3.71zM73.80 67.49h14.78v3.99h-14.78zM154.98 67.49h3.71v3.99h-3.71zM40.59 71.46h3.71v3.99h-3.71zM47.97 71.46h3.71v3.99h-3.71zM70.11 71.46h11.09v3.99h-11.09zM84.87 71.46h3.71v3.99h-3.71zM3.69 75.43h3.71v3.99h-3.71zM22.14 75.43h3.71v3.99h-3.71zM29.52 75.43h7.40v3.99h-7.40zM40.59 75.43h7.40v3.99h-7.40zM70.11 75.43h3.71v3.99h-3.71zM77.49 75.43h3.71v3.99h-3.71zM18.45 79.40h7.40v3.99h-7.40zM29.52 79.40h3.71v3.99h-3.71zM40.59 79.40h7.40v3.99h-7.40zM73.80 79.40h3.71v3.99h-3.71zM0.00 83.37h3.71v3.99h-3.71zM7.38 83.37h7.40v3.99h-7.40zM22.14 83.37h3.71v3.99h-3.71zM36.90 83.37h14.78v3.99h-14.78zM55.35 83.37h14.78v3.99h-14.78zM81.18 83.37h3.71v3.99h-3.71zM7.38 87.34h3.71v3.99h-3.71zM33.21 87.34h3.71v3.99h-3.71zM40.59 87.34h3.71v3.99h-3.71zM3.69 91.31h3.71v3.99h-3.71zM25.83 91.31h3.71v3.99h-3.71zM40.59 91.31h3.71v3.99h-3.71zM3.69 95.28h7.40v3.99h-7.40zM33.21 95.28h3.71v3.99h-3.71zM25.83 99.25h3.71v3.99h-3.71zM0.00 103.22h3.71v3.99h-3.71zM14.76 103.22h3.71v3.99h-3.71zM29.52 103.22h3.71v3.99h-3.71zM40.59 103.22h3.71v3.99h-3.71zM3.69 107.19h7.40v3.99h-7.40zM40.59 107.19h3.71v3.99h-3.71zM62.73 107.19h3.71v3.99h-3.71zM3.69 111.16h3.71v3.99h-3.71zM51.66 111.16h3.71v3.99h-3.71zM59.04 111.16h3.71v3.99h-3.71zM66.42 111.16h3.71v3.99h-3.71zM3.69 115.13h3.71v3.99h-3.71zM44.28 115.13h14.78v3.99h-14.78zM0.00 119.10h11.09v3.99h-11.09zM18.45 119.10h3.71v3.99h-3.71zM44.28 119.10h3.71v3.99h-3.71zM55.35 119.10h3.71v3.99h-3.71zM62.73 119.10h3.71v3.99h-3.71zM3.69 123.07h7.40v3.99h-7.40zM55.35 123.07h3.71v3.99h-3.71zM66.42 123.07h3.71v3.99h-3.71zM14.76 127.04h3.71v3.99h-3.71zM84.87 127.04h3.71v3.99h-3.71zM33.21 131.01h3.71v3.99h-3.71zM47.97 131.01h3.71v3.99h-3.71zM55.35 131.01h7.40v3.99h-7.40zM92.25 131.01h3.71v3.99h-3.71zM99.63 131.01h3.71v3.99h-3.71zM40.59 134.98h3.71v3.99h-3.71zM55.35 134.98h3.71v3.99h-3.71zM66.42 134.98h3.71v3.99h-3.71zM88.56 134.98h3.71v3.99h-3.71zM22.14 138.95h3.71v3.99h-3.71zM103.32 138.95h3.71v3.99h-3.71zM62.73 142.92h3.71v3.99h-3.71zM99.63 142.92h3.71v3.99h-3.71zM66.42 146.89h3.71v3.99h-3.71zM92.25 146.89h11.09v3.99h-11.09z"/>
<path fill="#f3eeeb" d="M7.38 0.00h3.71v3.99h-3.71zM62.73 0.00h3.71v3.99h-3.71zM70.11 0.00h3.71v3.99h-3.71zM81.18 0.00h3.71v3.99h-3.71zM147.60 0.00h3.71v3.99h-3.71zM154.98 0.00h3.71v3.99h-3.71zM3.69 3.97h3.71v3.99h-3.71zM70.11 3.97h3.71v3.99h-3.71zM92.25 3.97h25.85v3.99h-25.85zM33.21 7.94h7.40v3.99h-7.40zM51.66 7.94h3.71v3.99h-3.71zM59.04 7.94h3.71v3.99h-3.71zM66.42 7.94h3.71v3.99h-3.71zM81.18 7.94h7.40v3.99h-7.40zM103.32 7.94h3.71v3.99h-3.71zM110.70 7.94h7.40v3.99h-7.40zM0.00 11.91h3.71v3.99h-3.71zM36.90 11.91h3.71v3.99h-3.71zM51.66 11.91h7.40v3.99h-7.40zM92.25 11.91h3.71v3.99h-3.71zM114.39 11.91h3.71v3.99h-3.71zM25.83 15.88h7.40v3.99h-7.40zM70.11 15.88h3.71v3.99h-3.71zM88.56 15.88h3.71v3.99h-3.71zM118.08 15.88h3.71v3.99h-3.71zM33.21 19.85h3.71v3.99h-3.71zM40.59 19.85h3.71v3.99h-3.71zM47.97 19.85h3.71v3.99h-3.71zM66.42 19.85h3.71v3.99h-3.71zM114.39 19.85h3.71v3.99h-3.71zM51.66 23.82h3.71v3.99h-3.71zM59.04 23.82h7.40v3.99h-7.40zM92.25 23.82h3.71v3.99h-3.71zM114.39 23.82h3.71v3.99h-3.71zM147.60 23.82h3.71v3.99h-3.71zM154.98 23.82h3.71v3.99h-3.71zM33.21 27.79h3.71v3.99h-3.71zM44.28 27.79h3.71v3.99h-3.71zM70.11 27.79h3.71v3.99h-3.71zM77.49 27.79h3.71v3.99h-3.71zM88.56 27.79h3.71v3.99h-3.71zM107.01 27.79h3.71v3.99h-3.71zM143.91 27.79h3.71v3.99h-3.71zM25.83 31.76h7.40v3.99h-7.40zM59.04 31.76h3.71v3.99h-3.71zM88.56 31.76h7.40v3.99h-7.40zM99.63 31.76h3.71v3.99h-3.71zM114.39 31.76h3.71v3.99h-3.71zM22.14 35.73h14.78v3.99h-14.78zM44.28 35.73h3.71v3.99h-3.71zM73.80 35.73h3.71v3.99h-3.71zM14.76 39.70h3.71v3.99h-3.71zM36.90 39.70h3.71v3.99h-3.71zM47.97 39.70h7.40v3.99h-7.40zM70.11 39.70h3.71v3.99h-3.71zM77.49 39.70h3.71v3.99h-3.71zM95.94 39.70h3.71v3.99h-3.71zM103.32 39.70h3.71v3.99h-3.71zM22.14 43.67h3.71v3.99h-3.71zM29.52 43.67h3.71v3.99h-3.71zM40.59 43.67h3.71v3.99h-3.71zM62.73 43.67h3.71v3.99h-3.71zM92.25 43.67h3.71v3.99h-3.71zM99.63 43.67h3.71v3.99h-3.71zM107.01 43.67h3.71v3.99h-3.71zM29.52 47.64h3.71v3.99h-3.71zM47.97 47.64h7.40v3.99h-7.40zM92.25 47.64h3.71v3.99h-3.71zM107.01 47.64h3.71v3.99h-3.71zM7.38 51.61h11.09v3.99h-11.09zM29.52 51.61h3.71v3.99h-3.71zM40.59 51.61h3.71v3.99h-3.71zM55.35 51.61h3.71v3.99h-3.71zM70.11 51.61h3.71v3.99h-3.71zM77.49 51.61h3.71v3.99h-3.71zM92.25 51.61h3.71v3.99h-3.71zM7.38 55.58h11.09v3.99h-11.09zM25.83 55.58h7.40v3.99h-7.40zM70.11 55.58h3.71v3.99h-3.71zM88.56 55.58h3.71v3.99h-3.71zM18.45 59.55h3.71v3.99h-3.71zM29.52 59.55h7.40v3.99h-7.40zM47.97 59.55h7.40v3.99h-7.40zM70.11 59.55h7.40v3.99h-7.40zM7.38 63.52h3.71v3.99h-3.71zM22.14 63.52h7.40v3.99h-7.40zM40.59 63.52h7.40v3.99h-7.40zM55.35 63.52h3.71v3.99h-3.71zM70.11 63.52h3.71v3.99h-3.71zM154.98 63.52h3.71v3.99h-3.71zM25.83 67.49h3.71v3.99h-3.71zM33.21 67.49h7.40v3.99h-7.40zM59.04 67.49h7.40v3.99h-7.40zM70.11 67.49h3.71v3.99h-3.71zM3.69 71.46h3.71v3.99h-3.71zM25.83 71.46h3.71v3.99h-3.71zM81.18 71.46h3.71v3.99h-3.71zM0.00 75.43h3.71v3.99h-3.71zM18.45 75.43h3.71v3.99h-3.71zM25.83 75.43h3.71v3.99h-3.71zM36.90 75.43h3.71v3.99h-3.71zM47.97 75.43h3.71v3.99h-3.71zM55.35 75.43h3.71v3.99h-3.71zM3.69 79.40h7.40v3.99h-7.40zM51.66 79.40h3.71v3.99h-3.71zM59.04 79.40h11.09v3.99h-11.09zM33.21 83.37h3.71v3.99h-3.71zM51.66 83.37h3.71v3.99h-3.71zM73.80 83.37h3.71v3.99h-3.71zM88.56 83.37h3.71v3.99h-3.71zM3.69 87.34h3.71v3.99h-3.71zM11.07 87.34h3.71v3.99h-3.71zM22.14 87.34h7.40v3.99h-7.40zM36.90 87.34h3.71v3.99h-3.71zM44.28 87.34h7.40v3.99h-7.40zM84.87 87.34h3.71v3.99h-3.71zM0.00 91.31h3.71v3.99h-3.71zM7.38 91.31h3.71v3.99h-3.71zM18.45 91.31h3.71v3.99h-3.71zM33.21 91.31h7.40v3.99h-7.40zM47.97 91.31h3.71v3.99h-3.71zM22.14 95.28h3.71v3.99h-3.71zM29.52 95.28h3.71v3.99h-3.71zM44.28 95.28h3.71v3.99h-3.71zM0.00 99.25h7.40v3.99h-7.40zM18.45 99.25h7.40v3.99h-7.40zM33.21 99.25h3.71v3.99h-3.71zM40.59 99.25h7.40v3.99h-7.40zM0.00 107.19h3.71v3.99h-3.71zM14.76 107.19h3.71v3.99h-3.71zM7.38 111.16h11.09v3.99h-11.09zM55.35 111.16h3.71v3.99h-3.71zM0.00 115.13h3.71v3.99h-3.71zM7.38 115.13h3.71v3.99h-3.71zM103.32 115.13h3.71v3.99h-3.71zM11.07 119.10h3.71v3.99h-3.71zM59.04 119.10h3.71v3.99h-3.71zM11.07 123.07h7.40v3.99h-7.40zM11.07 127.04h3.71v3.99h-3.71zM55.35 127.04h3.71v3.99h-3.71zM22.14 131.01h3.71v3.99h-3.71zM29.52 131.01h3.71v3.99h-3.71zM62.73 131.01h3.71v3.99h-3.71zM0.00 134.98h3.71v3.99h-3.71zM99.63 134.98h3.71v3.99h-3.71zM92.25 138.95h3.71v3.99h-3.71zM107.01 138.95h3.71v3.99h-3.71zM22.14 142.92h7.40v3.99h-7.40zM95.94 142.92h3.71v3.99h-3.71zM114.39 142.92h3.71v3.99h-3.71zM51.66 146.89h3.71v3.99h-3.71zM114.39 146.89h3.71v3.99h-3.71z"/>
<path fill="#eeebeb" d="M11.07 0.00h3.71v3.99h-3.71zM25.83 0.00h3.71v3.99h-3.71zM121.77 0.00h3.71v3.99h-3.71zM25.83 3.97h3.71v3.99h-3.71zM125.46 7.94h7.40v3.99h-7.40zM140.22 7.94h3.71v3.99h-3.71zM118.08 11.91h7.40v3.99h-7.40zM151.29 11.91h3.71v3.99h-3.71zM121.77 15.88h3.71v3.99h-3.71zM154.98 15.88h3.71v3.99h-3.71zM136.53 23.82h3.71v3.99h-3.71zM110.70 39.70h7.40v3.99h-7.40zM33.21 43.67h3.71v3.99h-3.71zM110.70 43.67h3.71v3.99h-3.71zM129.15 43.67h3.71v3.99h-3.71zM33.21 47.64h3.71v3.99h-3.71zM81.18 47.64h3.71v3.99h-3.71zM103.32 47.64h3.71v3.99h-3.71zM114.39 47.64h3.71v3.99h-3.71zM92.25 55.58h3.71v3.99h-3.71zM103.32 55.58h3.71v3.99h-3.71zM0.00 59.55h3.71v3.99h-3.71zM81.18 59.55h3.71v3.99h-3.71zM92.25 59.55h3.71v3.99h-3.71zM114.39 59.55h3.71v3.99h-3.71zM103.32 63.52h3.71v3.99h-3.71zM92.25 67.49h3.71v3.99h-3.71zM84.87 75.43h3.71v3.99h-3.71zM114.39 75.43h3.71v3.99h-3.71zM114.39 79.40h3.71v3.99h-3.71zM92.25 87.34h3.71v3.99h-3.71zM110.70 87.34h3.71v3.99h-3.71zM29.52 91.31h3.71v3.99h-3.71zM55.35 91.31h3.71v3.99h-3.71zM107.01 95.28h3.71v3.99h-3.71zM29.52 99.25h3.71v3.99h-3.71zM36.90 103.22h3.71v3.99h-3.71zM18.45 107.19h3.71v3.99h-3.71zM29.52 107.19h3.71v3.99h-3.71zM44.28 107.19h3.71v3.99h-3.71zM66.42 107.19h3.71v3.99h-3.71zM81.18 111.16h3.71v3.99h-3.71zM103.32 111.16h3.71v3.99h-3.71zM66.42 115.13h3.71v3.99h-3.71zM81.18 115.13h3.71v3.99h-3.71zM36.90 119.10h7.40v3.99h-7.40zM22.14 123.07h3.71v3.99h-3.71zM62.73 123.07h3.71v3.99h-3.71zM22.14 127.04h7.40v3.99h-7.40zM36.90 131.01h3.71v3.99h-3.71zM84.87 131.01h3.71v3.99h-3.71zM47.97 138.95h3.71v3.99h-3.71zM55.35 138.95h3.71v3.99h-3.71zM110.70 138.95h7.40v3.99h-7.40zM55.35 142.92h3.71v3.99h-3.71zM11.07 146.89h3.71v3.99h-3.71zM55.35 146.89h3.71v3.99h-3.71zM70.11 146.89h3.71v3.99h-3.71z"/>
<path fill="#f3eeed" d="M14.76 0.00h7.40v3.99h-7.40zM29.52 0.00h3.71v3.99h-3.71zM92.25 0.00h3.71v3.99h-3.71zM99.63 0.00h3.71v3.99h-3.71zM107.01 0.00h7.40v3.99h-7.40zM118.08 0.00h3.71v3.99h-3.71zM129.15 0.00h3.71v3.99h-3.71zM140.22 0.00h3.71v3.99h-3.71zM0.00 3.97h3.71v3.99h-3.71zM14.76 3.97h3.71v3.99h-3.71zM29.52 3.97h3.71v3.99h-3.71zM84.87 3.97h7.40v3.99h-7.40zM125.46 3.97h11.09v3.99h-11.09zM140.22 3.97h11.09v3.99h-11.09zM22.14 7.94h3.71v3.99h-3.71zM29.52 7.94h3.71v3.99h-3.71zM77.49 7.94h3.71v3.99h-3.71zM92.25 7.94h3.71v3.99h-3.71zM121.77 7.94h3.71v3.99h-3.71zM136.53 7.94h3.71v3.99h-3.71zM40.59 11.91h3.71v3.99h-3.71zM73.80 11.91h3.71v3.99h-3.71zM84.87 11.91h3.71v3.99h-3.71zM22.14 15.88h3.71v3.99h-3.71zM47.97 15.88h7.40v3.99h-7.40zM114.39 15.88h3.71v3.99h-3.71zM18.45 19.85h3.71v3.99h-3.71zM33.21 23.82h3.71v3.99h-3.71zM40.59 23.82h3.71v3.99h-3.71zM55.35 23.82h3.71v3.99h-3.71zM118.08 23.82h3.71v3.99h-3.71zM151.29 23.82h3.71v3.99h-3.71zM36.90 27.79h3.71v3.99h-3.71zM84.87 27.79h3.71v3.99h-3.71zM33.21 31.76h3.71v3.99h-3.71zM40.59 31.76h7.40v3.99h-7.40zM55.35 31.76h3.71v3.99h-3.71zM81.18 31.76h3.71v3.99h-3.71zM103.32 31.76h3.71v3.99h-3.71zM40.59 35.73h3.71v3.99h-3.71zM47.97 35.73h3.71v3.99h-3.71zM59.04 35.73h3.71v3.99h-3.71zM66.42 35.73h3.71v3.99h-3.71zM81.18 35.73h3.71v3.99h-3.71zM110.70 35.73h3.71v3.99h-3.71zM129.15 35.73h7.40v3.99h-7.40zM33.21 39.70h3.71v3.99h-3.71zM55.35 39.70h7.40v3.99h-7.40zM81.18 39.70h3.71v3.99h-3.71zM129.15 39.70h3.71v3.99h-3.71zM25.83 43.67h3.71v3.99h-3.71zM44.28 43.67h3.71v3.99h-3.71zM66.42 43.67h3.71v3.99h-3.71zM81.18 43.67h3.71v3.99h-3.71zM25.83 47.64h3.71v3.99h-3.71zM36.90 47.64h3.71v3.99h-3.71zM44.28 47.64h3.71v3.99h-3.71zM70.11 47.64h11.09v3.99h-11.09zM88.56 47.64h3.71v3.99h-3.71zM95.94 47.64h3.71v3.99h-3.71zM22.14 51.61h3.71v3.99h-3.71zM36.90 51.61h3.71v3.99h-3.71zM44.28 51.61h3.71v3.99h-3.71zM73.80 51.61h3.71v3.99h-3.71zM154.98 51.61h3.71v3.99h-3.71zM0.00 55.58h3.71v3.99h-3.71zM36.90 55.58h3.71v3.99h-3.71zM81.18 55.58h3.71v3.99h-3.71zM7.38 59.55h3.71v3.99h-3.71zM40.59 59.55h3.71v3.99h-3.71zM88.56 59.55h3.71v3.99h-3.71zM29.52 63.52h7.40v3.99h-7.40zM84.87 63.52h3.71v3.99h-3.71zM3.69 67.49h7.40v3.99h-7.40zM22.14 67.49h3.71v3.99h-3.71zM29.52 67.49h3.71v3.99h-3.71zM40.59 67.49h3.71v3.99h-3.71zM47.97 67.49h7.40v3.99h-7.40zM66.42 67.49h3.71v3.99h-3.71zM88.56 67.49h3.71v3.99h-3.71zM0.00 71.46h3.71v3.99h-3.71zM7.38 71.46h3.71v3.99h-3.71zM33.21 71.46h7.40v3.99h-7.40zM51.66 71.46h11.09v3.99h-11.09zM66.42 71.46h3.71v3.99h-3.71zM154.98 71.46h3.71v3.99h-3.71zM7.38 75.43h3.71v3.99h-3.71zM62.73 75.43h3.71v3.99h-3.71zM0.00 79.40h3.71v3.99h-3.71zM25.83 79.40h3.71v3.99h-3.71zM33.21 79.40h7.40v3.99h-7.40zM47.97 79.40h3.71v3.99h-3.71zM55.35 79.40h3.71v3.99h-3.71zM77.49 79.40h3.71v3.99h-3.71zM3.69 83.37h3.71v3.99h-3.71zM29.52 83.37h3.71v3.99h-3.71zM84.87 83.37h3.71v3.99h-3.71zM0.00 87.34h3.71v3.99h-3.71zM51.66 87.34h3.71v3.99h-3.71zM73.80 87.34h3.71v3.99h-3.71zM44.28 91.31h3.71v3.99h-3.71zM51.66 91.31h3.71v3.99h-3.71zM92.25 91.31h3.71v3.99h-3.71zM0.00 95.28h3.71v3.99h-3.71zM25.83 95.28h3.71v3.99h-3.71zM7.38 99.25h3.71v3.99h-3.71zM14.76 99.25h3.71v3.99h-3.71zM7.38 103.22h3.71v3.99h-3.71zM22.14 103.22h3.71v3.99h-3.71zM66.42 103.22h3.71v3.99h-3.71zM81.18 103.22h3.71v3.99h-3.71zM11.07 107.19h3.71v3.99h-3.71zM33.21 107.19h3.71v3.99h-3.71zM55.35 107.19h7.40v3.99h-7.40zM18.45 111.16h3.71v3.99h-3.71zM33.21 111.16h3.71v3.99h-3.71zM62.73 111.16h3.71v3.99h-3.71zM92.25 111.16h3.71v3.99h-3.71zM11.07 115.13h11.09v3.99h-11.09zM62.73 115.13h3.71v3.99h-3.71zM14.76 119.10h3.71v3.99h-3.71zM18.45 123.07h3.71v3.99h-3.71zM40.59 123.07h7.40v3.99h-7.40zM51.66 123.07h3.71v3.99h-3.71zM59.04 123.07h3.71v3.99h-3.71zM7.38 127.04h3.71v3.99h-3.71zM18.45 127.04h3.71v3.99h-3.71zM36.90 127.04h3.71v3.99h-3.71zM44.28 127.04h3.71v3.99h-3.71zM59.04 127.04h11.09v3.99h-11.09zM103.32 127.04h3.71v3.99h-3.71zM3.69 131.01h3.71v3.99h-3.71zM11.07 131.01h7.40v3.99h-7.40zM44.28 131.01h3.71v3.99h-3.71zM51.66 131.01h3.71v3.99h-3.71zM66.42 131.01h3.71v3.99h-3.71zM88.56 131.01h3.71v3.99h-3.71zM7.38 134.98h3.71v3.99h-3.71zM51.66 134.98h3.71v3.99h-3.71zM59.04 134.98h7.40v3.99h-7.40zM92.25 134.98h3.71v3.99h-3.71zM103.32 134.98h3.71v3.99h-3.71zM110.70 134.98h3.71v3.99h-3.71zM88.56 138.95h3.71v3.99h-3.71zM95.94 138.95h3.71v3.99h-3.71zM84.87 142.92h3.71v3.99h-3.71zM103.32 142.92h3.71v3.99h-3.71zM110.70 142.92h3.71v3.99h-3.71zM14.76 146.89h3.71v3.99h-3.71zM25.83 146.89h3.71v3.99h-3.71zM59.04 146.89h7.40v3.99h-7.40z"/>
<path fill="#e9e8ea" d="M22.14 0.00h3.71v3.99h-3.71zM132.84 7.94h3.71v3.99h-3.71zM125.46 11.91h3.71v3.99h-3.71zM125.46 15.88h3.71v3.99h-3.71zM140.22 15.88h14.78v3.99h-14.78zM129.15 19.85h7.40v3.99h-7.40zM121.77 23.82h3.71v3.99h-3.71zM132.84 23.82h3.71v3.99h-3.71zM132.84 31.76h3.71v3.99h-3.71zM114.39 63.52h3.71v3.99h-3.71zM114.39 67.49h7.40v3.99h-7.40zM99.63 71.46h3.71v3.99h-3.71zM110.70 71.46h3.71v3.99h-3.71zM99.63 75.43h3.71v3.99h-3.71zM110.70 75.43h3.71v3.99h-3.71zM92.25 79.40h3.71v3.99h-3.71zM99.63 79.40h3.71v3.99h-3.71zM107.01 83.37h7.40v3.99h-7.40zM70.11 103.22h3.71v3.99h-3.71zM29.52 111.16h3.71v3.99h-3.71zM22.14 115.13h3.71v3.99h-3.71zM29.52 115.13h3.71v3.99h-3.71zM36.90 115.13h3.71v3.99h-3.71zM33.21 119.10h3.71v3.99h-3.71zM81.18 119.10h3.71v3.99h-3.71zM92.25 123.07h3.71v3.99h-3.71zM11.07 134.98h3.71v3.99h-3.71zM3.69 138.95h3.71v3.99h-3.71z"/>
<path fill="#eee8e0" d="M36.90 0.00h7.40v3.99h-7.40zM59.04 0.00h3.71v3.99h-3.71zM59.04 3.97h3.71v3.99h-3.71zM107.01 11.91h7.40v3.99h-7.40zM7.38 15.88h3.71v3.99h-3.71zM14.76 15.88h3.71v3.99h-3.71zM103.32 15.88h3.71v3.99h-3.71zM0.00 19.85h3.71v3.99h-3.71zM7.38 19.85h3.71v3.99h-3.71zM99.63 19.85h3.71v3.99h-3.71zM110.70 19.85h3.71v3.99h-3.71zM3.69 23.82h3.71v3.99h-3.71zM7.38 27.79h3.71v3.99h-3.71zM14.76 27.79h3.71v3.99h-3.71zM22.14 27.79h3.71v3.99h-3.71zM95.94 27.79h3.71v3.99h-3.71zM0.00 31.76h7.40v3.99h-7.40zM11.07 35.73h3.71v3.99h-3.71zM0.00 39.70h7.40v3.99h-7.40zM11.07 39.70h3.71v3.99h-3.71zM11.07 43.67h3.71v3.99h-3.71zM73.80 55.58h3.71v3.99h-3.71zM14.76 67.49h7.40v3.99h-7.40zM11.07 71.46h3.71v3.99h-3.71zM14.76 83.37h3.71v3.99h-3.71zM29.52 87.34h3.71v3.99h-3.71zM11.07 91.31h3.71v3.99h-3.71zM81.18 91.31h3.71v3.99h-3.71zM18.45 95.28h3.71v3.99h-3.71zM92.25 99.25h3.71v3.99h-3.71zM84.87 119.10h3.71v3.99h-3.71zM44.28 138.95h3.71v3.99h-3.71zM47.97 146.89h3.71v3.99h-3.71z"/>
<path fill="#f0eae4" d="M44.28 0.00h3.71v3.99h-3.71zM33.21 3.97h3.71v3.99h-3.71zM44.28 3.97h3.71v3.99h-3.71zM62.73 3.97h7.40v3.99h-7.40zM3.69 7.94h7.40v3.99h-7.40zM3.69 11.91h18.47v3.99h-18.47zM99.63 11.91h3.71v3.99h-3.71zM95.94 15.88h3.71v3.99h-3.71zM14.76 19.85h3.71v3.99h-3.71zM0.00 23.82h3.71v3.99h-3.71zM95.94 23.82h3.71v3.99h-3.71zM107.01 23.82h3.71v3.99h-3.71zM3.69 27.79h3.71v3.99h-3.71zM18.45 27.79h3.71v3.99h-3.71zM110.70 27.79h3.71v3.99h-3.71zM7.38 31.76h3.71v3.99h-3.71zM18.45 35.73h3.71v3.99h-3.71zM22.14 39.70h3.71v3.99h-3.71zM3.69 43.67h3.71v3.99h-3.71zM0.00 47.64h3.71v3.99h-3.71zM7.38 47.64h3.71v3.99h-3.71zM14.76 47.64h3.71v3.99h-3.71zM59.04 47.64h3.71v3.99h-3.71zM0.00 51.61h3.71v3.99h-3.71zM59.04 51.61h3.71v3.99h-3.71zM107.01 51.61h3.71v3.99h-3.71zM18.45 55.58h3.71v3.99h-3.71zM3.69 59.55h3.71v3.99h-3.71zM14.76 59.55h3.71v3.99h-3.71zM59.04 59.55h3.71v3.99h-3.71zM66.42 59.55h3.71v3.99h-3.71zM59.04 63.52h7.40v3.99h-7.40zM11.07 67.49h3.71v3.99h-3.71zM18.45 71.46h3.71v3.99h-3.71zM11.07 75.43h3.71v3.99h-3.71zM18.45 87.34h3.71v3.99h-3.71zM14.76 91.31h3.71v3.99h-3.71zM22.14 91.31h3.71v3.99h-3.71zM84.87 123.07h3.71v3.99h-3.71zM88.56 127.04h3.71v3.99h-3.71zM0.00 131.01h3.71v3.99h-3.71zM25.83 131.01h3.71v3.99h-3.71zM103.32 131.01h3.71v3.99h-3.71zM33.21 134.98h3.71v3.99h-3.71zM47.97 142.92h3.71v3.99h-3.71zM92.25 142.92h3.71v3.99h-3.71zM33.21 146.89h3.71v3.99h-3.71zM103.32 146.89h3.71v3.99h-3.71z"/>
<path fill="#eae4da" d="M47.97 0.00h11.09v3.99h-11.09zM47.97 3.97h7.40v3.99h-7.40zM103.32 23.82h3.71v3.99h-3.71zM11.07 27.79h3.71v3.99h-3.71zM14.76 31.76h3.71v3.99h-3.71zM7.38 39.70h3.71v3.99h-3.71zM62.73 55.58h3.71v3.99h-3.71zM77.49 87.34h3.71v3.99h-3.71zM77.49 91.31h3.71v3.99h-3.71zM29.52 142.92h3.71v3.99h-3.71z"/>
<path fill="#f1ece7" d="M66.42 0.00h3.71v3.99h-3.71zM73.80 0.00h3.71v3.99h-3.71zM84.87 0.00h3.71v3.99h-3.71zM114.39 0.00h3.71v3.99h-3.71zM11.07 3.97h3.71v3.99h-3.71zM18.45 3.97h3.71v3.99h-3.71zM36.90 3.97h3.71v3.99h-3.71zM118.08 3.97h3.71v3.99h-3.71zM0.00 7.94h3.71v3.99h-3.71zM11.07 7.94h7.40v3.99h-7.40zM47.97 7.94h3.71v3.99h-3.71zM55.35 7.94h3.71v3.99h-3.71zM70.11 7.94h3.71v3.99h-3.71zM95.94 7.94h7.40v3.99h-7.40zM107.01 7.94h3.71v3.99h-3.71zM33.21 11.91h3.71v3.99h-3.71zM59.04 11.91h3.71v3.99h-3.71zM70.11 11.91h3.71v3.99h-3.71zM81.18 11.91h3.71v3.99h-3.71zM88.56 11.91h3.71v3.99h-3.71zM95.94 11.91h3.71v3.99h-3.71zM103.32 11.91h3.71v3.99h-3.71zM0.00 15.88h7.40v3.99h-7.40zM11.07 15.88h3.71v3.99h-3.71zM18.45 15.88h3.71v3.99h-3.71zM73.80 15.88h3.71v3.99h-3.71zM92.25 15.88h3.71v3.99h-3.71zM3.69 19.85h3.71v3.99h-3.71zM11.07 19.85h3.71v3.99h-3.71zM22.14 19.85h3.71v3.99h-3.71zM92.25 19.85h7.40v3.99h-7.40zM107.01 19.85h3.71v3.99h-3.71zM14.76 23.82h3.71v3.99h-3.71zM29.52 23.82h3.71v3.99h-3.71zM36.90 23.82h3.71v3.99h-3.71zM84.87 23.82h3.71v3.99h-3.71zM99.63 23.82h3.71v3.99h-3.71zM110.70 23.82h3.71v3.99h-3.71zM0.00 27.79h3.71v3.99h-3.71zM47.97 27.79h3.71v3.99h-3.71zM59.04 27.79h3.71v3.99h-3.71zM73.80 27.79h3.71v3.99h-3.71zM81.18 27.79h3.71v3.99h-3.71zM99.63 27.79h7.40v3.99h-7.40zM11.07 31.76h3.71v3.99h-3.71zM47.97 31.76h3.71v3.99h-3.71zM66.42 31.76h3.71v3.99h-3.71zM7.38 35.73h3.71v3.99h-3.71zM62.73 35.73h3.71v3.99h-3.71zM77.49 35.73h3.71v3.99h-3.71zM107.01 35.73h3.71v3.99h-3.71zM18.45 39.70h3.71v3.99h-3.71zM25.83 39.70h3.71v3.99h-3.71zM0.00 43.67h3.71v3.99h-3.71zM14.76 43.67h3.71v3.99h-3.71zM51.66 43.67h3.71v3.99h-3.71zM59.04 43.67h3.71v3.99h-3.71zM77.49 43.67h3.71v3.99h-3.71zM18.45 47.64h3.71v3.99h-3.71zM62.73 47.64h3.71v3.99h-3.71zM18.45 51.61h3.71v3.99h-3.71zM47.97 51.61h7.40v3.99h-7.40zM55.35 55.58h3.71v3.99h-3.71zM66.42 55.58h3.71v3.99h-3.71zM22.14 59.55h3.71v3.99h-3.71zM44.28 59.55h3.71v3.99h-3.71zM55.35 59.55h3.71v3.99h-3.71zM62.73 59.55h3.71v3.99h-3.71zM107.01 59.55h7.40v3.99h-7.40zM154.98 59.55h3.71v3.99h-3.71zM14.76 63.52h7.40v3.99h-7.40zM66.42 63.52h3.71v3.99h-3.71zM73.80 63.52h3.71v3.99h-3.71zM55.35 67.49h3.71v3.99h-3.71zM22.14 71.46h3.71v3.99h-3.71zM44.28 71.46h3.71v3.99h-3.71zM62.73 71.46h3.71v3.99h-3.71zM11.07 79.40h3.71v3.99h-3.71zM18.45 83.37h3.71v3.99h-3.71zM25.83 83.37h3.71v3.99h-3.71zM77.49 83.37h3.71v3.99h-3.71zM14.76 87.34h3.71v3.99h-3.71zM11.07 95.28h7.40v3.99h-7.40zM36.90 95.28h7.40v3.99h-7.40zM11.07 99.25h3.71v3.99h-3.71zM11.07 103.22h3.71v3.99h-3.71zM18.45 103.22h3.71v3.99h-3.71zM47.97 119.10h3.71v3.99h-3.71zM103.32 123.07h3.71v3.99h-3.71zM51.66 127.04h3.71v3.99h-3.71zM7.38 131.01h3.71v3.99h-3.71zM36.90 134.98h3.71v3.99h-3.71zM95.94 134.98h3.71v3.99h-3.71zM107.01 134.98h3.71v3.99h-3.71zM99.63 138.95h3.71v3.99h-3.71zM88.56 142.92h3.71v3.99h-3.71zM18.45 146.89h3.71v3.99h-3.71zM29.52 146.89h3.71v3.99h-3.71z"/>
<path fill="#ebeaeb" d="M125.46 0.00h3.71v3.99h-3.71zM47.97 11.91h3.71v3.99h-3.71zM129.15 11.91h3.71v3.99h-3.71zM140.22 11.91h11.09v3.99h-11.09zM59.04 15.88h3.71v3.99h-3.71zM132.84 15.88h3.71v3.99h-3.71zM125.46 19.85h3.71v3.99h-3.71zM125.46 23.82h3.71v3.99h-3.71zM129.15 31.76h3.71v3.99h-3.71zM114.39 35.73h3.71v3.99h-3.71zM95.94 51.61h3.71v3.99h-3.71zM99.63 67.49h3.71v3.99h-3.71zM107.01 67.49h7.40v3.99h-7.40zM95.94 71.46h3.71v3.99h-3.71zM103.32 71.46h3.71v3.99h-3.71zM118.08 71.46h3.71v3.99h-3.71zM88.56 75.43h3.71v3.99h-3.71zM107.01 75.43h3.71v3.99h-3.71zM95.94 79.40h3.71v3.99h-3.71zM92.25 83.37h3.71v3.99h-3.71zM107.01 87.34h3.71v3.99h-3.71zM73.80 91.31h3.71v3.99h-3.71zM107.01 91.31h3.71v3.99h-3.71zM81.18 95.28h3.71v3.99h-3.71zM36.90 99.25h3.71v3.99h-3.71zM59.04 103.22h3.71v3.99h-3.71zM22.14 107.19h3.71v3.99h-3.71zM51.66 107.19h3.71v3.99h-3.71zM92.25 115.13h3.71v3.99h-3.71zM22.14 119.10h7.40v3.99h-7.40zM92.25 119.10h3.71v3.99h-3.71zM29.52 123.07h3.71v3.99h-3.71zM81.18 123.07h3.71v3.99h-3.71zM33.21 127.04h3.71v3.99h-3.71zM99.63 127.04h3.71v3.99h-3.71zM18.45 131.01h3.71v3.99h-3.71zM47.97 134.98h3.71v3.99h-3.71zM59.04 138.95h3.71v3.99h-3.71zM84.87 138.95h3.71v3.99h-3.71zM70.11 142.92h3.71v3.99h-3.71zM7.38 146.89h3.71v3.99h-3.71z"/>
<path fill="#ece6dd" d="M40.59 3.97h3.71v3.99h-3.71zM55.35 3.97h3.71v3.99h-3.71zM99.63 15.88h3.71v3.99h-3.71zM107.01 15.88h3.71v3.99h-3.71zM103.32 19.85h3.71v3.99h-3.71zM7.38 23.82h7.40v3.99h-7.40zM0.00 35.73h7.40v3.99h-7.40zM14.76 35.73h3.71v3.99h-3.71zM7.38 43.67h3.71v3.99h-3.71zM62.73 51.61h3.71v3.99h-3.71zM59.04 55.58h3.71v3.99h-3.71zM110.70 55.58h3.71v3.99h-3.71zM14.76 71.46h3.71v3.99h-3.71zM14.76 75.43h3.71v3.99h-3.71zM14.76 79.40h3.71v3.99h-3.71zM92.25 95.28h3.71v3.99h-3.71zM92.25 103.22h3.71v3.99h-3.71zM22.14 134.98h3.71v3.99h-3.71z"/>
<path fill="#e6e7e9" d="M132.84 11.91h3.71v3.99h-3.71zM136.53 15.88h3.71v3.99h-3.71zM129.15 23.82h3.71v3.99h-3.71zM118.08 27.79h3.71v3.99h-3.71zM103.32 59.55h3.71v3.99h-3.71zM95.94 63.52h3.71v3.99h-3.71zM103.32 67.49h3.71v3.99h-3.71zM92.25 71.46h3.71v3.99h-3.71zM107.01 71.46h3.71v3.99h-3.71zM95.94 75.43h3.71v3.99h-3.71zM107.01 79.40h3.71v3.99h-3.71zM66.42 87.34h3.71v3.99h-3.71zM47.97 99.25h3.71v3.99h-3.71zM62.73 99.25h3.71v3.99h-3.71zM81.18 99.25h3.71v3.99h-3.71zM47.97 107.19h3.71v3.99h-3.71zM81.18 107.19h3.71v3.99h-3.71zM29.52 119.10h3.71v3.99h-3.71zM25.83 123.07h3.71v3.99h-3.71zM70.11 127.04h3.71v3.99h-3.71zM70.11 131.01h3.71v3.99h-3.71zM14.76 134.98h3.71v3.99h-3.71zM70.11 134.98h3.71v3.99h-3.71zM18.45 142.92h3.71v3.99h-3.71z"/>
<path fill="#e4e5e8" d="M129.15 15.88h3.71v3.99h-3.71zM125.46 27.79h3.71v3.99h-3.71zM99.63 51.61h3.71v3.99h-3.71zM99.63 63.52h3.71v3.99h-3.71zM103.32 75.43h3.71v3.99h-3.71zM103.32 79.40h3.71v3.99h-3.71zM95.94 83.37h3.71v3.99h-3.71zM103.32 83.37h3.71v3.99h-3.71zM51.66 95.28h3.71v3.99h-3.71zM70.11 95.28h3.71v3.99h-3.71zM55.35 103.22h3.71v3.99h-3.71zM25.83 115.13h3.71v3.99h-3.71zM33.21 123.07h3.71v3.99h-3.71zM70.11 123.07h3.71v3.99h-3.71zM14.76 142.92h3.71v3.99h-3.71zM81.18 146.89h3.71v3.99h-3.71z"/>
<path fill="#d8dbe0" d="M121.77 27.79h3.71v3.99h-3.71zM125.46 31.76h3.71v3.99h-3.71zM70.11 87.34h3.71v3.99h-3.71zM95.94 87.34h3.71v3.99h-3.71zM103.32 87.34h3.71v3.99h-3.71zM103.32 91.31h3.71v3.99h-3.71zM66.42 95.28h3.71v3.99h-3.71zM73.80 95.28h7.40v3.99h-7.40zM81.18 134.98h3.71v3.99h-3.71z"/>
<path fill="#e0e2e5" d="M118.08 31.76h3.71v3.99h-3.71zM118.08 39.70h3.71v3.99h-3.71zM125.46 43.67h3.71v3.99h-3.71zM125.46 47.64h3.71v3.99h-3.71zM125.46 51.61h3.71v3.99h-3.71zM99.63 83.37h3.71v3.99h-3.71zM70.11 99.25h3.71v3.99h-3.71zM70.11 107.19h3.71v3.99h-3.71zM99.63 119.10h3.71v3.99h-3.71zM81.18 127.04h3.71v3.99h-3.71zM81.18 131.01h3.71v3.99h-3.71zM18.45 134.98h3.71v3.99h-3.71z"/>
<path fill="#bbc2ce" d="M121.77 31.76h3.71v3.99h-3.71zM99.63 59.55h3.71v3.99h-3.71zM66.42 91.31h3.71v3.99h-3.71zM55.35 95.28h3.71v3.99h-3.71zM99.63 103.22h3.71v3.99h-3.71zM77.49 146.89h3.71v3.99h-3.71z"/>
<path fill="#dcdee3" d="M118.08 35.73h3.71v3.99h-3.71zM125.46 35.73h3.71v3.99h-3.71zM125.46 39.70h3.71v3.99h-3.71zM118.08 43.67h3.71v3.99h-3.71zM118.08 47.64h3.71v3.99h-3.71zM118.08 51.61h3.71v3.99h-3.71zM59.04 91.31h3.71v3.99h-3.71zM70.11 111.16h3.71v3.99h-3.71zM95.94 127.04h3.71v3.99h-3.71zM7.38 138.95h3.71v3.99h-3.71zM81.18 138.95h3.71v3.99h-3.71zM81.18 142.92h3.71v3.99h-3.71zM3.69 146.89h3.71v3.99h-3.71z"/>
<path fill="#c7ccd6" d="M121.77 35.73h3.71v3.99h-3.71zM59.04 99.25h3.71v3.99h-3.71zM51.66 103.22h3.71v3.99h-3.71zM99.63 107.19h3.71v3.99h-3.71zM18.45 138.95h3.71v3.99h-3.71zM3.69 142.92h3.71v3.99h-3.71z"/>
<path fill="#bfc6d0" d="M121.77 39.70h3.71v3.99h-3.71zM121.77 47.64h3.71v3.99h-3.71zM121.77 51.61h3.71v3.99h-3.71zM70.11 91.31h3.71v3.99h-3.71zM103.32 95.28h3.71v3.99h-3.71zM47.97 103.22h3.71v3.99h-3.71zM95.94 115.13h3.71v3.99h-3.71zM95.94 119.10h3.71v3.99h-3.71zM95.94 123.07h3.71v3.99h-3.71zM73.80 138.95h3.71v3.99h-3.71z"/>
<path fill="#c3c9d3" d="M121.77 43.67h3.71v3.99h-3.71zM121.77 55.58h3.71v3.99h-3.71zM62.73 91.31h3.71v3.99h-3.71zM51.66 99.25h3.71v3.99h-3.71zM7.38 142.92h3.71v3.99h-3.71zM73.80 142.92h3.71v3.99h-3.71z"/>
<path fill="#cbd0d8" d="M95.94 55.58h3.71v3.99h-3.71zM121.77 59.55h3.71v3.99h-3.71zM95.94 91.31h3.71v3.99h-3.71zM95.94 95.28h3.71v3.99h-3.71zM95.94 107.19h3.71v3.99h-3.71zM95.94 111.16h3.71v3.99h-3.71z"/>
<path fill="#b2bbc8" d="M99.63 55.58h3.71v3.99h-3.71zM77.49 111.16h3.71v3.99h-3.71zM77.49 115.13h3.71v3.99h-3.71zM77.49 119.10h3.71v3.99h-3.71z"/>
<path fill="#e9e2d7" d="M107.01 55.58h3.71v3.99h-3.71zM81.18 87.34h3.71v3.99h-3.71zM88.56 91.31h3.71v3.99h-3.71zM88.56 111.16h3.71v3.99h-3.71zM84.87 115.13h3.71v3.99h-3.71zM36.90 146.89h3.71v3.99h-3.71z"/>
<path fill="#d3d7dd" d="M118.08 55.58h3.71v3.99h-3.71zM95.94 59.55h3.71v3.99h-3.71zM118.08 59.55h3.71v3.99h-3.71zM103.32 99.25h3.71v3.99h-3.71zM95.94 103.22h3.71v3.99h-3.71zM99.63 111.16h3.71v3.99h-3.71zM70.11 119.10h3.71v3.99h-3.71zM99.63 123.07h3.71v3.99h-3.71z"/>
<path fill="#cfd4db" d="M118.08 63.52h7.40v3.99h-7.40zM95.94 99.25h3.71v3.99h-3.71zM70.11 115.13h3.71v3.99h-3.71zM99.63 115.13h3.71v3.99h-3.71zM11.07 138.95h7.40v3.99h-7.40zM0.00 142.92h3.71v3.99h-3.71zM11.07 142.92h3.71v3.99h-3.71zM0.00 146.89h3.71v3.99h-3.71zM73.80 146.89h3.71v3.99h-3.71z"/>
<path fill="#b6bfcb" d="M99.63 87.34h3.71v3.99h-3.71zM62.73 95.28h3.71v3.99h-3.71zM73.80 99.25h3.71v3.99h-3.71zM73.80 134.98h3.71v3.99h-3.71z"/>
<path fill="#e5ddd1" d="M84.87 91.31h3.71v3.99h-3.71zM88.56 119.10h3.71v3.99h-3.71zM40.59 138.95h3.71v3.99h-3.71z"/>
<path fill="#a4afbe" d="M99.63 91.31h3.71v3.99h-3.71zM55.35 99.25h3.71v3.99h-3.71zM77.49 103.22h3.71v3.99h-3.71zM73.80 111.16h3.71v3.99h-3.71zM73.80 115.13h3.71v3.99h-3.71zM73.80 119.10h3.71v3.99h-3.71zM73.80 123.07h3.71v3.99h-3.71zM73.80 131.01h3.71v3.99h-3.71z"/>
<path fill="#aeb8c6" d="M59.04 95.28h3.71v3.99h-3.71zM77.49 107.19h3.71v3.99h-3.71zM77.49 123.07h3.71v3.99h-3.71zM73.80 127.04h3.71v3.99h-3.71z"/>
<path fill="#b5a685" d="M84.87 95.28h3.71v3.99h-3.71z"/>
<path fill="#8b7b55" d="M88.56 95.28h3.71v3.99h-3.71z"/>
<path fill="#94a1b3" d="M99.63 95.28h3.71v3.99h-3.71z"/>
<path fill="#9ea9ba" d="M77.49 99.25h3.71v3.99h-3.71zM99.63 99.25h3.71v3.99h-3.71zM77.49 134.98h3.71v3.99h-3.71zM77.49 138.95h3.71v3.99h-3.71z"/>
<path fill="#ae9e7b" d="M84.87 99.25h3.71v3.99h-3.71zM84.87 103.22h3.71v3.99h-3.71z"/>
<path fill="#887953" d="M88.56 99.25h3.71v3.99h-3.71z"/>
<path fill="#aab4c3" d="M73.80 103.22h3.71v3.99h-3.71zM77.49 127.04h3.71v3.99h-3.71z"/>
<path fill="#8d7d58" d="M88.56 103.22h3.71v3.99h-3.71z"/>
<path fill="#a7b1c1" d="M73.80 107.19h3.71v3.99h-3.71zM77.49 131.01h3.71v3.99h-3.71z"/>
<path fill="#e2d9cb" d="M84.87 107.19h3.71v3.99h-3.71zM107.01 123.07h3.71v3.99h-3.71zM44.28 146.89h3.71v3.99h-3.71z"/>
<path fill="#d9cebb" d="M88.56 107.19h3.71v3.99h-3.71zM44.28 142.92h3.71v3.99h-3.71z"/>
<path fill="#e7e0d4" d="M84.87 111.16h3.71v3.99h-3.71zM88.56 123.07h3.71v3.99h-3.71z"/>
<path fill="#e3dbce" d="M88.56 115.13h3.71v3.99h-3.71zM107.01 127.04h7.40v3.99h-7.40zM107.01 131.01h3.71v3.99h-3.71z"/>
<path fill="#e0d7c7" d="M110.70 131.01h3.71v3.99h-3.71zM25.83 138.95h3.71v3.99h-3.71z"/>
<path fill="#d6cab5" d="M25.83 134.98h3.71v3.99h-3.71z"/>
<path fill="#ddd3c1" d="M29.52 134.98h3.71v3.99h-3.71zM36.90 138.95h3.71v3.99h-3.71z"/>
<path fill="#d4c8b2" d="M29.52 138.95h7.40v3.99h-7.40zM36.90 142.92h3.71v3.99h-3.71z"/>
<path fill="#dbd1be" d="M33.21 142.92h3.71v3.99h-3.71z"/>
<path fill="#d2c6af" d="M40.59 142.92h3.71v3.99h-3.71z"/>
<path fill="#a1acbc" d="M77.49 142.92h3.71v3.99h-3.71z"/>
<path fill="#ded5c4" d="M40.59 146.89h3.71v3.99h-3.71z"/>
</g>
<use href="#coast" fill="none" stroke="#808080" stroke-width="1.25" stroke-linejoin="round"/>
<use href="#grid" fill="none" stroke="#b0b0b0" stroke-width="1.11"/>
</g></g>
<rect x="635.5" y="125.5" width="162" height="154" fill="none" stroke="#000" stroke-width="1.11"/>
<text x="635.92" y="115.00" font-size="13.889" text-anchor="middle">112.5°E</text>
<text x="639.87" y="296.50" font-size="13.889" text-anchor="middle">112.5°E</text>
<text x="705.07" y="115.00" font-size="13.889" text-anchor="middle">113.25°E</text>
<text x="708.13" y="296.50" font-size="13.889" text-anchor="middle">113.25°E</text>
<text x="774.22" y="115.00" font-size="13.889" text-anchor="middle">114°E</text>
<text x="777.39" y="296.50" font-size="13.889" text-anchor="middle">114°E</text>
<text x="958.20" y="94.20" font-size="16.667" text-anchor="middle">dSST/dy [K km<tspan font-size="11.667" dy="-6.60">−1</tspan><tspan dy="6.60">]</tspan></text>
<g transform="translate(877.83 125.40)"><g clip-path="url(#mc)">
<rect x="0" y="0" width="161.74" height="153.60" fill="#98b7e2"/>
<use href="#land" fill="#f0f0dc"/>
<g transform="matrix(0.99964 -0.02700 0.02700 0.99964 0.20 3.30)" shape-rendering="crispEdges">
<path fill="#f5f0ee" d="M0.00 0.00h7.40v3.99h-7.40zM11.07 0.00h3.71v3.99h-3.71zM40.59 0.00h7.40v3.99h-7.40zM66.42 0.00h3.71v3.99h-3.71zM73.80 0.00h3.71v3.99h-3.71zM81.18 0.00h3.71v3.99h-3.71zM92.25 0.00h3.71v3.99h-3.71zM99.63 0.00h11.09v3.99h-11.09zM121.77 0.00h3.71v3.99h-3.71zM136.53 0.00h3.71v3.99h-3.71zM151.29 0.00h3.71v3.99h-3.71zM18.45 3.97h3.71v3.99h-3.71zM51.66 3.97h7.40v3.99h-7.40zM66.42 3.97h3.71v3.99h-3.71zM73.80 3.97h3.71v3.99h-3.71zM88.56 3.97h3.71v3.99h-3.71zM95.94 3.97h11.09v3.99h-11.09zM118.08 3.97h3.71v3.99h-3.71zM132.84 3.97h3.71v3.99h-3.71zM147.60 3.97h11.09v3.99h-11.09zM14.76 7.94h3.71v3.99h-3.71zM22.14 7.94h3.71v3.99h-3.71zM62.73 7.94h3.71v3.99h-3.71zM70.11 7.94h11.09v3.99h-11.09zM88.56 7.94h3.71v3.99h-3.71zM99.63 7.94h3.71v3.99h-3.71zM110.70 7.94h7.40v3.99h-7.40zM125.46 7.94h3.71v3.99h-3.71zM151.29 7.94h7.40v3.99h-7.40zM25.83 11.91h3.71v3.99h-3.71zM33.21 11.91h7.40v3.99h-7.40zM55.35 11.91h3.71v3.99h-3.71zM62.73 11.91h3.71v3.99h-3.71zM92.25 11.91h3.71v3.99h-3.71zM73.80 15.88h3.71v3.99h-3.71zM92.25 15.88h3.71v3.99h-3.71zM99.63 15.88h3.71v3.99h-3.71zM107.01 15.88h3.71v3.99h-3.71zM114.39 15.88h3.71v3.99h-3.71zM81.18 19.85h7.40v3.99h-7.40zM22.14 23.82h3.71v3.99h-3.71zM73.80 23.82h3.71v3.99h-3.71zM84.87 23.82h11.09v3.99h-11.09zM103.32 23.82h3.71v3.99h-3.71zM140.22 23.82h3.71v3.99h-3.71zM147.60 23.82h3.71v3.99h-3.71zM154.98 23.82h3.71v3.99h-3.71zM29.52 27.79h3.71v3.99h-3.71zM77.49 27.79h7.40v3.99h-7.40zM92.25 27.79h3.71v3.99h-3.71zM103.32 27.79h3.71v3.99h-3.71zM110.70 27.79h3.71v3.99h-3.71zM33.21 31.76h11.09v3.99h-11.09zM47.97 31.76h7.40v3.99h-7.40zM66.42 31.76h3.71v3.99h-3.71zM95.94 31.76h3.71v3.99h-3.71zM107.01 31.76h3.71v3.99h-3.71zM44.28 35.73h3.71v3.99h-3.71zM59.04 35.73h11.09v3.99h-11.09zM77.49 35.73h7.40v3.99h-7.40zM92.25 35.73h7.40v3.99h-7.40zM25.83 39.70h3.71v3.99h-3.71zM40.59 39.70h3.71v3.99h-3.71zM47.97 39.70h3.71v3.99h-3.71zM62.73 39.70h3.71v3.99h-3.71zM73.80 39.70h3.71v3.99h-3.71zM81.18 39.70h3.71v3.99h-3.71zM88.56 39.70h3.71v3.99h-3.71zM95.94 39.70h3.71v3.99h-3.71zM25.83 43.67h3.71v3.99h-3.71zM44.28 43.67h3.71v3.99h-3.71zM51.66 43.67h11.09v3.99h-11.09zM66.42 43.67h11.09v3.99h-11.09zM129.15 43.67h3.71v3.99h-3.71zM154.98 43.67h3.71v3.99h-3.71zM29.52 47.64h3.71v3.99h-3.71zM47.97 47.64h3.71v3.99h-3.71zM59.04 47.64h7.40v3.99h-7.40zM81.18 47.64h3.71v3.99h-3.71zM18.45 51.61h11.09v3.99h-11.09zM36.90 51.61h3.71v3.99h-3.71zM44.28 51.61h7.40v3.99h-7.40zM88.56 51.61h3.71v3.99h-3.71zM25.83 55.58h7.40v3.99h-7.40zM40.59 55.58h11.09v3.99h-11.09zM55.35 55.58h3.71v3.99h-3.71zM70.11 55.58h7.40v3.99h-7.40zM81.18 55.58h3.71v3.99h-3.71zM154.98 55.58h3.71v3.99h-3.71zM14.76 59.55h3.71v3.99h-3.71zM44.28 59.55h3.71v3.99h-3.71zM62.73 59.55h3.71v3.99h-3.71zM70.11 59.55h3.71v3.99h-3.71zM77.49 59.55h3.71v3.99h-3.71zM84.87 59.55h3.71v3.99h-3.71zM107.01 59.55h3.71v3.99h-3.71zM0.00 63.52h3.71v3.99h-3.71zM14.76 63.52h3.71v3.99h-3.71zM55.35 63.52h11.09v3.99h-11.09zM70.11 63.52h7.40v3.99h-7.40zM92.25 63.52h3.71v3.99h-3.71zM154.98 63.52h3.71v3.99h-3.71zM70.11 67.49h3.71v3.99h-3.71zM77.49 67.49h3.71v3.99h-3.71zM154.98 67.49h3.71v3.99h-3.71zM14.76 71.46h3.71v3.99h-3.71zM51.66 71.46h3.71v3.99h-3.71zM66.42 71.46h11.09v3.99h-11.09zM81.18 71.46h7.40v3.99h-7.40zM92.25 71.46h3.71v3.99h-3.71zM103.32 71.46h11.09v3.99h-11.09zM154.98 71.46h3.71v3.99h-3.71zM18.45 75.43h7.40v3.99h-7.40zM44.28 75.43h3.71v3.99h-3.71zM73.80 75.43h11.09v3.99h-11.09zM95.94 75.43h7.40v3.99h-7.40zM114.39 75.43h3.71v3.99h-3.71zM0.00 79.40h3.71v3.99h-3.71zM25.83 79.40h7.40v3.99h-7.40zM44.28 79.40h3.71v3.99h-3.71zM51.66 79.40h3.71v3.99h-3.71zM66.42 79.40h3.71v3.99h-3.71zM88.56 79.40h11.09v3.99h-11.09zM114.39 79.40h3.71v3.99h-3.71zM0.00 83.37h7.40v3.99h-7.40zM11.07 83.37h3.71v3.99h-3.71zM44.28 83.37h3.71v3.99h-3.71zM14.76 87.34h7.40v3.99h-7.40zM154.98 87.34h3.71v3.99h-3.71zM0.00 91.31h3.71v3.99h-3.71zM36.90 91.31h7.40v3.99h-7.40zM36.90 95.28h3.71v3.99h-3.71zM7.38 103.22h3.71v3.99h-3.71zM14.76 103.22h7.40v3.99h-7.40zM62.73 103.22h3.71v3.99h-3.71zM73.80 103.22h3.71v3.99h-3.71zM7.38 107.19h3.71v3.99h-3.71zM66.42 107.19h3.71v3.99h-3.71zM73.80 107.19h3.71v3.99h-3.71zM7.38 111.16h3.71v3.99h-3.71zM51.66 111.16h7.40v3.99h-7.40zM70.11 111.16h3.71v3.99h-3.71zM0.00 115.13h3.71v3.99h-3.71zM59.04 115.13h7.40v3.99h-7.40zM70.11 115.13h3.71v3.99h-3.71zM66.42 119.10h3.71v3.99h-3.71zM0.00 123.07h11.09v3.99h-11.09zM14.76 123.07h3.71v3.99h-3.71zM25.83 123.07h7.40v3.99h-7.40zM40.59 127.04h3.71v3.99h-3.71zM62.73 127.04h3.71v3.99h-3.71zM92.25 134.98h3.71v3.99h-3.71zM92.25 138.95h7.40v3.99h-7.40zM107.01 138.95h3.71v3.99h-3.71zM84.87 142.92h3.71v3.99h-3.71zM107.01 142.92h3.71v3.99h-3.71zM62.73 146.89h3.71v3.99h-3.71zM103.32 146.89h3.71v3.99h-3.71z"/>
<path fill="#f3eeed" d="M7.38 0.00h3.71v3.99h-3.71zM51.66 0.00h3.71v3.99h-3.71zM59.04 0.00h3.71v3.99h-3.71zM70.11 0.00h3.71v3.99h-3.71zM77.49 0.00h3.71v3.99h-3.71zM84.87 0.00h7.40v3.99h-7.40zM114.39 0.00h3.71v3.99h-3.71zM129.15 0.00h3.71v3.99h-3.71zM140.22 0.00h11.09v3.99h-11.09zM7.38 3.97h7.40v3.99h-7.40zM77.49 3.97h11.09v3.99h-11.09zM92.25 3.97h3.71v3.99h-3.71zM114.39 3.97h3.71v3.99h-3.71zM121.77 3.97h3.71v3.99h-3.71zM3.69 7.94h3.71v3.99h-3.71zM66.42 7.94h3.71v3.99h-3.71zM84.87 7.94h3.71v3.99h-3.71zM107.01 7.94h3.71v3.99h-3.71zM129.15 7.94h3.71v3.99h-3.71zM143.91 7.94h3.71v3.99h-3.71zM11.07 11.91h3.71v3.99h-3.71zM22.14 11.91h3.71v3.99h-3.71zM29.52 11.91h3.71v3.99h-3.71zM88.56 11.91h3.71v3.99h-3.71zM99.63 11.91h11.09v3.99h-11.09zM151.29 11.91h3.71v3.99h-3.71zM22.14 15.88h7.40v3.99h-7.40zM36.90 15.88h3.71v3.99h-3.71zM47.97 15.88h3.71v3.99h-3.71zM55.35 15.88h7.40v3.99h-7.40zM81.18 15.88h3.71v3.99h-3.71zM88.56 15.88h3.71v3.99h-3.71zM110.70 15.88h3.71v3.99h-3.71zM73.80 19.85h3.71v3.99h-3.71zM103.32 19.85h3.71v3.99h-3.71zM110.70 19.85h3.71v3.99h-3.71zM147.60 19.85h11.09v3.99h-11.09zM77.49 23.82h7.40v3.99h-7.40zM99.63 23.82h3.71v3.99h-3.71zM136.53 23.82h3.71v3.99h-3.71zM143.91 23.82h3.71v3.99h-3.71zM33.21 27.79h3.71v3.99h-3.71zM40.59 27.79h3.71v3.99h-3.71zM55.35 27.79h3.71v3.99h-3.71zM62.73 27.79h3.71v3.99h-3.71zM70.11 27.79h3.71v3.99h-3.71zM88.56 27.79h3.71v3.99h-3.71zM95.94 27.79h7.40v3.99h-7.40zM107.01 27.79h3.71v3.99h-3.71zM114.39 27.79h3.71v3.99h-3.71zM136.53 27.79h3.71v3.99h-3.71zM143.91 27.79h3.71v3.99h-3.71zM59.04 31.76h3.71v3.99h-3.71zM70.11 31.76h3.71v3.99h-3.71zM81.18 31.76h3.71v3.99h-3.71zM88.56 31.76h7.40v3.99h-7.40zM103.32 31.76h3.71v3.99h-3.71zM110.70 31.76h3.71v3.99h-3.71zM136.53 31.76h3.71v3.99h-3.71zM22.14 35.73h3.71v3.99h-3.71zM33.21 35.73h7.40v3.99h-7.40zM47.97 35.73h7.40v3.99h-7.40zM103.32 35.73h3.71v3.99h-3.71zM114.39 35.73h3.71v3.99h-3.71zM29.52 39.70h3.71v3.99h-3.71zM44.28 39.70h3.71v3.99h-3.71zM59.04 39.70h3.71v3.99h-3.71zM92.25 39.70h3.71v3.99h-3.71zM107.01 39.70h3.71v3.99h-3.71zM154.98 39.70h3.71v3.99h-3.71zM36.90 43.67h3.71v3.99h-3.71zM47.97 43.67h3.71v3.99h-3.71zM84.87 43.67h11.09v3.99h-11.09zM0.00 47.64h3.71v3.99h-3.71zM18.45 47.64h3.71v3.99h-3.71zM25.83 47.64h3.71v3.99h-3.71zM36.90 47.64h7.40v3.99h-7.40zM73.80 47.64h3.71v3.99h-3.71zM0.00 51.61h3.71v3.99h-3.71zM29.52 51.61h3.71v3.99h-3.71zM40.59 51.61h3.71v3.99h-3.71zM59.04 51.61h7.40v3.99h-7.40zM84.87 51.61h3.71v3.99h-3.71zM3.69 55.58h3.71v3.99h-3.71zM11.07 55.58h3.71v3.99h-3.71zM22.14 55.58h3.71v3.99h-3.71zM51.66 55.58h3.71v3.99h-3.71zM59.04 55.58h3.71v3.99h-3.71zM66.42 55.58h3.71v3.99h-3.71zM92.25 55.58h3.71v3.99h-3.71zM18.45 59.55h3.71v3.99h-3.71zM51.66 59.55h3.71v3.99h-3.71zM66.42 59.55h3.71v3.99h-3.71zM92.25 59.55h14.78v3.99h-14.78zM3.69 63.52h3.71v3.99h-3.71zM11.07 63.52h3.71v3.99h-3.71zM81.18 63.52h3.71v3.99h-3.71zM95.94 63.52h3.71v3.99h-3.71zM121.77 63.52h3.71v3.99h-3.71zM0.00 67.49h3.71v3.99h-3.71zM7.38 67.49h3.71v3.99h-3.71zM73.80 67.49h3.71v3.99h-3.71zM81.18 67.49h3.71v3.99h-3.71zM88.56 67.49h3.71v3.99h-3.71zM99.63 67.49h3.71v3.99h-3.71zM107.01 67.49h7.40v3.99h-7.40zM0.00 71.46h3.71v3.99h-3.71zM7.38 71.46h3.71v3.99h-3.71zM114.39 71.46h3.71v3.99h-3.71zM0.00 75.43h3.71v3.99h-3.71zM14.76 75.43h3.71v3.99h-3.71zM47.97 75.43h3.71v3.99h-3.71zM84.87 75.43h3.71v3.99h-3.71zM92.25 75.43h3.71v3.99h-3.71zM110.70 75.43h3.71v3.99h-3.71zM7.38 79.40h3.71v3.99h-3.71zM40.59 79.40h3.71v3.99h-3.71zM47.97 79.40h3.71v3.99h-3.71zM59.04 79.40h3.71v3.99h-3.71zM84.87 79.40h3.71v3.99h-3.71zM99.63 79.40h3.71v3.99h-3.71zM7.38 83.37h3.71v3.99h-3.71zM14.76 83.37h7.40v3.99h-7.40zM47.97 83.37h14.78v3.99h-14.78zM33.21 87.34h3.71v3.99h-3.71zM47.97 87.34h7.40v3.99h-7.40zM22.14 91.31h3.71v3.99h-3.71zM33.21 91.31h3.71v3.99h-3.71zM44.28 91.31h7.40v3.99h-7.40zM22.14 95.28h14.78v3.99h-14.78zM22.14 99.25h11.09v3.99h-11.09zM73.80 99.25h3.71v3.99h-3.71zM3.69 103.22h3.71v3.99h-3.71zM11.07 107.19h7.40v3.99h-7.40zM70.11 107.19h3.71v3.99h-3.71zM3.69 111.16h3.71v3.99h-3.71zM59.04 111.16h3.71v3.99h-3.71zM66.42 111.16h3.71v3.99h-3.71zM73.80 111.16h3.71v3.99h-3.71zM66.42 115.13h3.71v3.99h-3.71zM70.11 119.10h3.71v3.99h-3.71zM11.07 123.07h3.71v3.99h-3.71zM22.14 123.07h3.71v3.99h-3.71zM66.42 123.07h11.09v3.99h-11.09zM0.00 127.04h7.40v3.99h-7.40zM47.97 127.04h3.71v3.99h-3.71zM59.04 127.04h3.71v3.99h-3.71zM73.80 127.04h3.71v3.99h-3.71zM0.00 131.01h3.71v3.99h-3.71zM110.70 131.01h3.71v3.99h-3.71zM88.56 142.92h3.71v3.99h-3.71zM99.63 142.92h7.40v3.99h-7.40zM22.14 146.89h7.40v3.99h-7.40zM51.66 146.89h11.09v3.99h-11.09zM73.80 146.89h3.71v3.99h-3.71zM81.18 146.89h3.71v3.99h-3.71zM92.25 146.89h7.40v3.99h-7.40z"/>
<path fill="#f0edec" d="M14.76 0.00h3.71v3.99h-3.71zM95.94 0.00h3.71v3.99h-3.71zM118.08 0.00h3.71v3.99h-3.71zM132.84 0.00h3.71v3.99h-3.71zM154.98 0.00h3.71v3.99h-3.71zM0.00 3.97h7.40v3.99h-7.40zM14.76 3.97h3.71v3.99h-3.71zM59.04 3.97h7.40v3.99h-7.40zM110.70 3.97h3.71v3.99h-3.71zM129.15 3.97h3.71v3.99h-3.71zM0.00 7.94h3.71v3.99h-3.71zM7.38 7.94h3.71v3.99h-3.71zM18.45 7.94h3.71v3.99h-3.71zM92.25 7.94h3.71v3.99h-3.71zM136.53 7.94h3.71v3.99h-3.71zM147.60 7.94h3.71v3.99h-3.71zM7.38 11.91h3.71v3.99h-3.71zM77.49 11.91h3.71v3.99h-3.71zM95.94 11.91h3.71v3.99h-3.71zM110.70 11.91h3.71v3.99h-3.71zM118.08 11.91h3.71v3.99h-3.71zM66.42 15.88h3.71v3.99h-3.71zM77.49 15.88h3.71v3.99h-3.71zM151.29 15.88h3.71v3.99h-3.71zM25.83 19.85h3.71v3.99h-3.71zM36.90 19.85h3.71v3.99h-3.71zM66.42 19.85h3.71v3.99h-3.71zM77.49 19.85h3.71v3.99h-3.71zM140.22 19.85h3.71v3.99h-3.71zM29.52 23.82h3.71v3.99h-3.71zM59.04 23.82h3.71v3.99h-3.71zM95.94 23.82h3.71v3.99h-3.71zM107.01 23.82h11.09v3.99h-11.09zM73.80 27.79h3.71v3.99h-3.71zM140.22 27.79h3.71v3.99h-3.71zM25.83 31.76h3.71v3.99h-3.71zM55.35 31.76h3.71v3.99h-3.71zM114.39 31.76h3.71v3.99h-3.71zM132.84 31.76h3.71v3.99h-3.71zM29.52 35.73h3.71v3.99h-3.71zM70.11 35.73h3.71v3.99h-3.71zM129.15 35.73h3.71v3.99h-3.71zM18.45 39.70h7.40v3.99h-7.40zM99.63 39.70h7.40v3.99h-7.40zM114.39 39.70h3.71v3.99h-3.71zM40.59 43.67h3.71v3.99h-3.71zM110.70 43.67h3.71v3.99h-3.71zM7.38 47.64h3.71v3.99h-3.71zM22.14 47.64h3.71v3.99h-3.71zM33.21 47.64h3.71v3.99h-3.71zM55.35 47.64h3.71v3.99h-3.71zM154.98 47.64h3.71v3.99h-3.71zM14.76 51.61h3.71v3.99h-3.71zM92.25 51.61h3.71v3.99h-3.71zM125.46 51.61h3.71v3.99h-3.71zM0.00 55.58h3.71v3.99h-3.71zM7.38 55.58h3.71v3.99h-3.71zM84.87 55.58h3.71v3.99h-3.71zM3.69 59.55h11.09v3.99h-11.09zM33.21 59.55h3.71v3.99h-3.71zM110.70 59.55h3.71v3.99h-3.71zM7.38 63.52h3.71v3.99h-3.71zM88.56 63.52h3.71v3.99h-3.71zM107.01 63.52h3.71v3.99h-3.71zM3.69 67.49h3.71v3.99h-3.71zM66.42 67.49h3.71v3.99h-3.71zM92.25 67.49h3.71v3.99h-3.71zM70.11 75.43h3.71v3.99h-3.71zM88.56 75.43h3.71v3.99h-3.71zM3.69 79.40h3.71v3.99h-3.71zM14.76 79.40h11.09v3.99h-11.09zM70.11 79.40h3.71v3.99h-3.71zM95.94 83.37h3.71v3.99h-3.71zM103.32 83.37h3.71v3.99h-3.71zM22.14 87.34h3.71v3.99h-3.71zM40.59 87.34h3.71v3.99h-3.71zM95.94 87.34h7.40v3.99h-7.40zM99.63 91.31h3.71v3.99h-3.71zM22.14 103.22h3.71v3.99h-3.71zM77.49 103.22h3.71v3.99h-3.71zM11.07 111.16h3.71v3.99h-3.71zM47.97 111.16h3.71v3.99h-3.71zM77.49 111.16h3.71v3.99h-3.71zM3.69 115.13h7.40v3.99h-7.40zM44.28 115.13h3.71v3.99h-3.71zM14.76 119.10h3.71v3.99h-3.71zM73.80 119.10h3.71v3.99h-3.71zM18.45 123.07h3.71v3.99h-3.71zM62.73 123.07h3.71v3.99h-3.71zM7.38 127.04h3.71v3.99h-3.71zM36.90 127.04h3.71v3.99h-3.71zM107.01 127.04h3.71v3.99h-3.71zM92.25 131.01h3.71v3.99h-3.71zM88.56 134.98h3.71v3.99h-3.71zM84.87 138.95h7.40v3.99h-7.40zM110.70 142.92h3.71v3.99h-3.71zM11.07 146.89h3.71v3.99h-3.71zM18.45 146.89h3.71v3.99h-3.71zM29.52 146.89h7.40v3.99h-7.40zM47.97 146.89h3.71v3.99h-3.71zM66.42 146.89h7.40v3.99h-7.40zM99.63 146.89h3.71v3.99h-3.71z"/>
<path fill="#f3eeeb" d="M18.45 0.00h3.71v3.99h-3.71zM47.97 0.00h3.71v3.99h-3.71zM55.35 0.00h3.71v3.99h-3.71zM62.73 0.00h3.71v3.99h-3.71zM125.46 0.00h3.71v3.99h-3.71zM70.11 3.97h3.71v3.99h-3.71zM107.01 3.97h3.71v3.99h-3.71zM125.46 3.97h3.71v3.99h-3.71zM136.53 3.97h7.40v3.99h-7.40zM25.83 7.94h7.40v3.99h-7.40zM81.18 7.94h3.71v3.99h-3.71zM95.94 7.94h3.71v3.99h-3.71zM59.04 11.91h3.71v3.99h-3.71zM66.42 11.91h11.09v3.99h-11.09zM81.18 11.91h3.71v3.99h-3.71zM95.94 15.88h3.71v3.99h-3.71zM103.32 15.88h3.71v3.99h-3.71zM154.98 15.88h3.71v3.99h-3.71zM92.25 19.85h11.09v3.99h-11.09zM107.01 19.85h3.71v3.99h-3.71zM151.29 23.82h3.71v3.99h-3.71zM84.87 27.79h3.71v3.99h-3.71zM62.73 31.76h3.71v3.99h-3.71zM73.80 31.76h7.40v3.99h-7.40zM84.87 31.76h3.71v3.99h-3.71zM55.35 35.73h3.71v3.99h-3.71zM107.01 35.73h7.40v3.99h-7.40zM132.84 35.73h3.71v3.99h-3.71zM33.21 39.70h7.40v3.99h-7.40zM51.66 39.70h7.40v3.99h-7.40zM70.11 39.70h3.71v3.99h-3.71zM77.49 39.70h3.71v3.99h-3.71zM84.87 39.70h3.71v3.99h-3.71zM110.70 39.70h3.71v3.99h-3.71zM129.15 39.70h3.71v3.99h-3.71zM0.00 43.67h3.71v3.99h-3.71zM22.14 43.67h3.71v3.99h-3.71zM33.21 43.67h3.71v3.99h-3.71zM62.73 43.67h3.71v3.99h-3.71zM81.18 43.67h3.71v3.99h-3.71zM51.66 47.64h3.71v3.99h-3.71zM70.11 47.64h3.71v3.99h-3.71zM77.49 47.64h3.71v3.99h-3.71zM88.56 47.64h3.71v3.99h-3.71zM66.42 51.61h14.78v3.99h-14.78zM154.98 51.61h3.71v3.99h-3.71zM18.45 55.58h3.71v3.99h-3.71zM33.21 55.58h3.71v3.99h-3.71zM77.49 55.58h3.71v3.99h-3.71zM29.52 59.55h3.71v3.99h-3.71zM36.90 59.55h7.40v3.99h-7.40zM55.35 59.55h7.40v3.99h-7.40zM81.18 59.55h3.71v3.99h-3.71zM88.56 59.55h3.71v3.99h-3.71zM154.98 59.55h3.71v3.99h-3.71zM18.45 63.52h7.40v3.99h-7.40zM47.97 63.52h7.40v3.99h-7.40zM77.49 63.52h3.71v3.99h-3.71zM84.87 63.52h3.71v3.99h-3.71zM99.63 63.52h3.71v3.99h-3.71zM11.07 67.49h11.09v3.99h-11.09zM47.97 67.49h3.71v3.99h-3.71zM55.35 67.49h3.71v3.99h-3.71zM84.87 67.49h3.71v3.99h-3.71zM103.32 67.49h3.71v3.99h-3.71zM22.14 71.46h3.71v3.99h-3.71zM59.04 71.46h7.40v3.99h-7.40zM77.49 71.46h3.71v3.99h-3.71zM95.94 71.46h3.71v3.99h-3.71zM7.38 75.43h7.40v3.99h-7.40zM36.90 75.43h7.40v3.99h-7.40zM55.35 75.43h14.78v3.99h-14.78zM103.32 75.43h7.40v3.99h-7.40zM11.07 79.40h3.71v3.99h-3.71zM33.21 79.40h3.71v3.99h-3.71zM103.32 79.40h3.71v3.99h-3.71zM25.83 83.37h7.40v3.99h-7.40zM36.90 83.37h7.40v3.99h-7.40zM0.00 87.34h7.40v3.99h-7.40zM25.83 87.34h7.40v3.99h-7.40zM44.28 87.34h3.71v3.99h-3.71zM25.83 91.31h3.71v3.99h-3.71zM3.69 99.25h3.71v3.99h-3.71zM18.45 99.25h3.71v3.99h-3.71zM66.42 99.25h7.40v3.99h-7.40zM0.00 103.22h3.71v3.99h-3.71zM11.07 103.22h3.71v3.99h-3.71zM0.00 107.19h7.40v3.99h-7.40zM62.73 111.16h3.71v3.99h-3.71zM3.69 119.10h11.09v3.99h-11.09zM33.21 119.10h3.71v3.99h-3.71zM59.04 123.07h3.71v3.99h-3.71zM33.21 127.04h3.71v3.99h-3.71zM103.32 127.04h3.71v3.99h-3.71zM110.70 127.04h3.71v3.99h-3.71zM110.70 134.98h3.71v3.99h-3.71zM103.32 138.95h3.71v3.99h-3.71zM110.70 138.95h7.40v3.99h-7.40zM92.25 142.92h7.40v3.99h-7.40zM114.39 142.92h3.71v3.99h-3.71zM84.87 146.89h3.71v3.99h-3.71zM110.70 146.89h7.40v3.99h-7.40z"/>
<path fill="#e9e2d7" d="M22.14 0.00h3.71v3.99h-3.71zM22.14 3.97h3.71v3.99h-3.71zM33.21 7.94h7.40v3.99h-7.40zM36.90 71.46h3.71v3.99h-3.71z"/>
<path fill="#ddd3c1" d="M25.83 0.00h3.71v3.99h-3.71zM29.52 3.97h7.40v3.99h-7.40z"/>
<path fill="#e5ddd1" d="M29.52 0.00h3.71v3.99h-3.71z"/>
<path fill="#ece6dd" d="M33.21 0.00h3.71v3.99h-3.71zM25.83 67.49h3.71v3.99h-3.71zM33.21 67.49h11.09v3.99h-11.09zM3.69 95.28h14.78v3.99h-14.78zM55.35 115.13h3.71v3.99h-3.71zM44.28 123.07h7.40v3.99h-7.40zM99.63 131.01h3.71v3.99h-3.71zM99.63 134.98h3.71v3.99h-3.71z"/>
<path fill="#f0eae4" d="M36.90 0.00h3.71v3.99h-3.71zM47.97 3.97h3.71v3.99h-3.71zM55.35 7.94h3.71v3.99h-3.71zM103.32 7.94h3.71v3.99h-3.71zM84.87 11.91h3.71v3.99h-3.71zM66.42 39.70h3.71v3.99h-3.71zM84.87 47.64h3.71v3.99h-3.71zM22.14 59.55h3.71v3.99h-3.71zM47.97 59.55h3.71v3.99h-3.71zM73.80 59.55h3.71v3.99h-3.71zM25.83 63.52h3.71v3.99h-3.71zM33.21 63.52h11.09v3.99h-11.09zM103.32 63.52h3.71v3.99h-3.71zM22.14 67.49h3.71v3.99h-3.71zM51.66 67.49h3.71v3.99h-3.71zM59.04 67.49h7.40v3.99h-7.40zM11.07 71.46h3.71v3.99h-3.71zM25.83 71.46h3.71v3.99h-3.71zM99.63 71.46h3.71v3.99h-3.71zM25.83 75.43h3.71v3.99h-3.71zM33.21 75.43h3.71v3.99h-3.71zM11.07 91.31h7.40v3.99h-7.40zM154.98 91.31h3.71v3.99h-3.71zM14.76 99.25h3.71v3.99h-3.71zM70.11 103.22h3.71v3.99h-3.71zM51.66 115.13h3.71v3.99h-3.71zM40.59 119.10h7.40v3.99h-7.40zM59.04 119.10h3.71v3.99h-3.71zM55.35 123.07h3.71v3.99h-3.71zM103.32 131.01h3.71v3.99h-3.71zM103.32 134.98h3.71v3.99h-3.71zM99.63 138.95h3.71v3.99h-3.71zM107.01 146.89h3.71v3.99h-3.71z"/>
<path fill="#eeebeb" d="M110.70 0.00h3.71v3.99h-3.71zM143.91 3.97h3.71v3.99h-3.71zM118.08 7.94h7.40v3.99h-7.40zM132.84 7.94h3.71v3.99h-3.71zM114.39 11.91h3.71v3.99h-3.71zM121.77 11.91h3.71v3.99h-3.71zM132.84 11.91h3.71v3.99h-3.71zM0.00 15.88h7.40v3.99h-7.40zM14.76 15.88h7.40v3.99h-7.40zM33.21 15.88h3.71v3.99h-3.71zM40.59 15.88h3.71v3.99h-3.71zM51.66 15.88h3.71v3.99h-3.71zM70.11 15.88h3.71v3.99h-3.71zM132.84 15.88h3.71v3.99h-3.71zM3.69 19.85h3.71v3.99h-3.71zM22.14 19.85h3.71v3.99h-3.71zM33.21 19.85h3.71v3.99h-3.71zM70.11 19.85h3.71v3.99h-3.71zM114.39 19.85h3.71v3.99h-3.71zM33.21 23.82h3.71v3.99h-3.71zM44.28 23.82h3.71v3.99h-3.71zM62.73 23.82h3.71v3.99h-3.71zM70.11 23.82h3.71v3.99h-3.71zM25.83 27.79h3.71v3.99h-3.71zM36.90 27.79h3.71v3.99h-3.71zM44.28 27.79h11.09v3.99h-11.09zM59.04 27.79h3.71v3.99h-3.71zM66.42 27.79h3.71v3.99h-3.71zM132.84 27.79h3.71v3.99h-3.71zM22.14 31.76h3.71v3.99h-3.71zM44.28 31.76h3.71v3.99h-3.71zM0.00 35.73h3.71v3.99h-3.71zM25.83 35.73h3.71v3.99h-3.71zM88.56 35.73h3.71v3.99h-3.71zM99.63 35.73h3.71v3.99h-3.71zM0.00 39.70h7.40v3.99h-7.40zM3.69 43.67h3.71v3.99h-3.71zM18.45 43.67h3.71v3.99h-3.71zM29.52 43.67h3.71v3.99h-3.71zM125.46 43.67h3.71v3.99h-3.71zM3.69 47.64h3.71v3.99h-3.71zM11.07 47.64h7.40v3.99h-7.40zM92.25 47.64h3.71v3.99h-3.71zM125.46 47.64h3.71v3.99h-3.71zM14.76 55.58h3.71v3.99h-3.71zM36.90 55.58h3.71v3.99h-3.71zM95.94 55.58h3.71v3.99h-3.71zM0.00 59.55h3.71v3.99h-3.71zM121.77 59.55h3.71v3.99h-3.71zM66.42 63.52h3.71v3.99h-3.71zM95.94 67.49h3.71v3.99h-3.71zM118.08 67.49h3.71v3.99h-3.71zM55.35 71.46h3.71v3.99h-3.71zM3.69 75.43h3.71v3.99h-3.71zM55.35 79.40h3.71v3.99h-3.71zM62.73 79.40h3.71v3.99h-3.71zM77.49 79.40h7.40v3.99h-7.40zM88.56 83.37h7.40v3.99h-7.40zM29.52 91.31h3.71v3.99h-3.71zM51.66 91.31h3.71v3.99h-3.71zM40.59 95.28h3.71v3.99h-3.71zM33.21 99.25h3.71v3.99h-3.71zM25.83 103.22h3.71v3.99h-3.71zM22.14 107.19h3.71v3.99h-3.71zM62.73 107.19h3.71v3.99h-3.71zM0.00 111.16h3.71v3.99h-3.71zM14.76 111.16h3.71v3.99h-3.71zM11.07 115.13h7.40v3.99h-7.40zM73.80 115.13h7.40v3.99h-7.40zM29.52 119.10h3.71v3.99h-3.71zM11.07 127.04h14.78v3.99h-14.78zM29.52 127.04h3.71v3.99h-3.71zM55.35 127.04h3.71v3.99h-3.71zM77.49 127.04h3.71v3.99h-3.71zM99.63 127.04h3.71v3.99h-3.71zM3.69 131.01h3.71v3.99h-3.71zM62.73 142.92h3.71v3.99h-3.71zM70.11 142.92h3.71v3.99h-3.71zM14.76 146.89h3.71v3.99h-3.71zM77.49 146.89h3.71v3.99h-3.71z"/>
<path fill="#e7e0d4" d="M25.83 3.97h3.71v3.99h-3.71zM51.66 7.94h3.71v3.99h-3.71zM47.97 11.91h7.40v3.99h-7.40zM51.66 119.10h3.71v3.99h-3.71z"/>
<path fill="#ded5c4" d="M36.90 3.97h3.71v3.99h-3.71z"/>
<path fill="#e3dbce" d="M40.59 3.97h3.71v3.99h-3.71z"/>
<path fill="#eae4da" d="M44.28 3.97h3.71v3.99h-3.71zM44.28 11.91h3.71v3.99h-3.71zM29.52 71.46h3.71v3.99h-3.71zM47.97 115.13h3.71v3.99h-3.71zM51.66 123.07h3.71v3.99h-3.71z"/>
<path fill="#ebeaeb" d="M11.07 7.94h3.71v3.99h-3.71zM140.22 7.94h3.71v3.99h-3.71zM0.00 11.91h7.40v3.99h-7.40zM14.76 11.91h3.71v3.99h-3.71zM129.15 11.91h3.71v3.99h-3.71zM136.53 11.91h11.09v3.99h-11.09zM11.07 15.88h3.71v3.99h-3.71zM29.52 15.88h3.71v3.99h-3.71zM44.28 15.88h3.71v3.99h-3.71zM62.73 15.88h3.71v3.99h-3.71zM0.00 19.85h3.71v3.99h-3.71zM29.52 19.85h3.71v3.99h-3.71zM40.59 19.85h3.71v3.99h-3.71zM51.66 19.85h7.40v3.99h-7.40zM62.73 19.85h3.71v3.99h-3.71zM118.08 19.85h3.71v3.99h-3.71zM132.84 19.85h3.71v3.99h-3.71zM0.00 23.82h3.71v3.99h-3.71zM18.45 23.82h3.71v3.99h-3.71zM25.83 23.82h3.71v3.99h-3.71zM40.59 23.82h3.71v3.99h-3.71zM51.66 23.82h7.40v3.99h-7.40zM118.08 23.82h3.71v3.99h-3.71zM132.84 23.82h3.71v3.99h-3.71zM18.45 27.79h7.40v3.99h-7.40zM118.08 27.79h3.71v3.99h-3.71zM0.00 31.76h7.40v3.99h-7.40zM18.45 31.76h3.71v3.99h-3.71zM7.38 43.67h11.09v3.99h-11.09zM95.94 43.67h3.71v3.99h-3.71zM114.39 43.67h3.71v3.99h-3.71zM114.39 47.64h3.71v3.99h-3.71zM3.69 51.61h7.40v3.99h-7.40zM110.70 63.52h3.71v3.99h-3.71zM114.39 67.49h3.71v3.99h-3.71zM73.80 79.40h3.71v3.99h-3.71zM62.73 83.37h3.71v3.99h-3.71zM84.87 83.37h3.71v3.99h-3.71zM103.32 87.34h3.71v3.99h-3.71zM36.90 99.25h3.71v3.99h-3.71zM77.49 99.25h3.71v3.99h-3.71zM59.04 103.22h3.71v3.99h-3.71zM55.35 107.19h7.40v3.99h-7.40zM77.49 107.19h3.71v3.99h-3.71zM40.59 115.13h3.71v3.99h-3.71zM18.45 119.10h7.40v3.99h-7.40zM77.49 119.10h3.71v3.99h-3.71zM107.01 123.07h3.71v3.99h-3.71zM25.83 127.04h3.71v3.99h-3.71zM66.42 127.04h7.40v3.99h-7.40zM44.28 131.01h3.71v3.99h-3.71zM84.87 131.01h3.71v3.99h-3.71zM0.00 134.98h3.71v3.99h-3.71zM55.35 142.92h7.40v3.99h-7.40zM77.49 142.92h7.40v3.99h-7.40z"/>
<path fill="#e0d7c7" d="M40.59 7.94h3.71v3.99h-3.71zM47.97 7.94h3.71v3.99h-3.71z"/>
<path fill="#d9cebb" d="M44.28 7.94h3.71v3.99h-3.71z"/>
<path fill="#f1ece7" d="M59.04 7.94h3.71v3.99h-3.71zM40.59 11.91h3.71v3.99h-3.71zM154.98 11.91h3.71v3.99h-3.71zM84.87 15.88h3.71v3.99h-3.71zM88.56 19.85h3.71v3.99h-3.71zM99.63 31.76h3.71v3.99h-3.71zM40.59 35.73h3.71v3.99h-3.71zM73.80 35.73h3.71v3.99h-3.71zM84.87 35.73h3.71v3.99h-3.71zM77.49 43.67h3.71v3.99h-3.71zM44.28 47.64h3.71v3.99h-3.71zM66.42 47.64h3.71v3.99h-3.71zM33.21 51.61h3.71v3.99h-3.71zM51.66 51.61h7.40v3.99h-7.40zM81.18 51.61h3.71v3.99h-3.71zM62.73 55.58h3.71v3.99h-3.71zM88.56 55.58h3.71v3.99h-3.71zM25.83 59.55h3.71v3.99h-3.71zM29.52 63.52h3.71v3.99h-3.71zM44.28 63.52h3.71v3.99h-3.71zM3.69 71.46h3.71v3.99h-3.71zM18.45 71.46h3.71v3.99h-3.71zM40.59 71.46h3.71v3.99h-3.71zM47.97 71.46h3.71v3.99h-3.71zM88.56 71.46h3.71v3.99h-3.71zM118.08 71.46h3.71v3.99h-3.71zM29.52 75.43h3.71v3.99h-3.71zM51.66 75.43h3.71v3.99h-3.71zM36.90 79.40h3.71v3.99h-3.71zM22.14 83.37h3.71v3.99h-3.71zM33.21 83.37h3.71v3.99h-3.71zM99.63 83.37h3.71v3.99h-3.71zM7.38 87.34h7.40v3.99h-7.40zM36.90 87.34h3.71v3.99h-3.71zM3.69 91.31h7.40v3.99h-7.40zM18.45 91.31h3.71v3.99h-3.71zM0.00 99.25h3.71v3.99h-3.71zM7.38 99.25h3.71v3.99h-3.71zM66.42 103.22h3.71v3.99h-3.71zM0.00 119.10h3.71v3.99h-3.71zM36.90 119.10h3.71v3.99h-3.71zM62.73 119.10h3.71v3.99h-3.71zM33.21 123.07h3.71v3.99h-3.71zM44.28 127.04h3.71v3.99h-3.71zM51.66 127.04h3.71v3.99h-3.71zM95.94 131.01h3.71v3.99h-3.71zM95.94 134.98h3.71v3.99h-3.71zM107.01 134.98h3.71v3.99h-3.71zM88.56 146.89h3.71v3.99h-3.71z"/>
<path fill="#e9e8ea" d="M18.45 11.91h3.71v3.99h-3.71zM125.46 11.91h3.71v3.99h-3.71zM147.60 11.91h3.71v3.99h-3.71zM7.38 15.88h3.71v3.99h-3.71zM121.77 15.88h11.09v3.99h-11.09zM136.53 15.88h7.40v3.99h-7.40zM147.60 15.88h3.71v3.99h-3.71zM44.28 19.85h3.71v3.99h-3.71zM136.53 19.85h3.71v3.99h-3.71zM143.91 19.85h3.71v3.99h-3.71zM36.90 23.82h3.71v3.99h-3.71zM0.00 27.79h3.71v3.99h-3.71zM14.76 31.76h3.71v3.99h-3.71zM29.52 31.76h3.71v3.99h-3.71zM129.15 31.76h3.71v3.99h-3.71zM18.45 35.73h3.71v3.99h-3.71zM14.76 39.70h3.71v3.99h-3.71zM99.63 43.67h3.71v3.99h-3.71zM107.01 43.67h3.71v3.99h-3.71zM11.07 51.61h3.71v3.99h-3.71zM110.70 55.58h3.71v3.99h-3.71zM44.28 95.28h7.40v3.99h-7.40zM103.32 95.28h3.71v3.99h-3.71zM62.73 99.25h3.71v3.99h-3.71zM81.18 103.22h3.71v3.99h-3.71zM18.45 107.19h3.71v3.99h-3.71zM81.18 107.19h3.71v3.99h-3.71zM22.14 111.16h3.71v3.99h-3.71zM44.28 111.16h3.71v3.99h-3.71zM81.18 111.16h3.71v3.99h-3.71zM81.18 115.13h3.71v3.99h-3.71zM7.38 131.01h3.71v3.99h-3.71zM14.76 131.01h3.71v3.99h-3.71zM77.49 131.01h7.40v3.99h-7.40zM88.56 131.01h3.71v3.99h-3.71zM84.87 134.98h3.71v3.99h-3.71zM66.42 142.92h3.71v3.99h-3.71z"/>
<path fill="#e6e7e9" d="M118.08 15.88h3.71v3.99h-3.71zM7.38 19.85h3.71v3.99h-3.71zM18.45 19.85h3.71v3.99h-3.71zM59.04 19.85h3.71v3.99h-3.71zM121.77 19.85h11.09v3.99h-11.09zM3.69 23.82h7.40v3.99h-7.40zM47.97 23.82h3.71v3.99h-3.71zM3.69 27.79h3.71v3.99h-3.71zM11.07 27.79h3.71v3.99h-3.71zM7.38 31.76h3.71v3.99h-3.71zM7.38 35.73h3.71v3.99h-3.71zM118.08 35.73h3.71v3.99h-3.71zM7.38 39.70h7.40v3.99h-7.40zM121.77 55.58h3.71v3.99h-3.71zM55.35 87.34h7.40v3.99h-7.40zM92.25 87.34h3.71v3.99h-3.71zM95.94 91.31h3.71v3.99h-3.71zM103.32 91.31h3.71v3.99h-3.71zM95.94 95.28h7.40v3.99h-7.40zM29.52 103.22h3.71v3.99h-3.71zM51.66 107.19h3.71v3.99h-3.71zM18.45 115.13h7.40v3.99h-7.40zM33.21 115.13h7.40v3.99h-7.40zM25.83 119.10h3.71v3.99h-3.71zM81.18 119.10h3.71v3.99h-3.71zM77.49 123.07h7.40v3.99h-7.40zM81.18 127.04h3.71v3.99h-3.71zM88.56 127.04h3.71v3.99h-3.71zM11.07 131.01h3.71v3.99h-3.71zM36.90 131.01h7.40v3.99h-7.40zM47.97 131.01h3.71v3.99h-3.71zM7.38 146.89h3.71v3.99h-3.71zM36.90 146.89h7.40v3.99h-7.40z"/>
<path fill="#e4e5e8" d="M143.91 15.88h3.71v3.99h-3.71zM11.07 19.85h3.71v3.99h-3.71zM47.97 19.85h3.71v3.99h-3.71zM11.07 23.82h7.40v3.99h-7.40zM66.42 23.82h3.71v3.99h-3.71zM7.38 27.79h3.71v3.99h-3.71zM14.76 27.79h3.71v3.99h-3.71zM118.08 31.76h3.71v3.99h-3.71zM11.07 35.73h7.40v3.99h-7.40zM125.46 35.73h3.71v3.99h-3.71zM125.46 39.70h3.71v3.99h-3.71zM66.42 83.37h3.71v3.99h-3.71zM81.18 83.37h3.71v3.99h-3.71zM70.11 95.28h3.71v3.99h-3.71zM84.87 107.19h3.71v3.99h-3.71zM18.45 111.16h3.71v3.99h-3.71zM25.83 115.13h3.71v3.99h-3.71zM103.32 123.07h3.71v3.99h-3.71zM84.87 127.04h3.71v3.99h-3.71zM92.25 127.04h7.40v3.99h-7.40zM51.66 131.01h3.71v3.99h-3.71zM73.80 131.01h3.71v3.99h-3.71zM73.80 142.92h3.71v3.99h-3.71zM44.28 146.89h3.71v3.99h-3.71z"/>
<path fill="#e0e2e5" d="M14.76 19.85h3.71v3.99h-3.71zM129.15 23.82h3.71v3.99h-3.71zM129.15 27.79h3.71v3.99h-3.71zM3.69 35.73h3.71v3.99h-3.71zM103.32 43.67h3.71v3.99h-3.71zM110.70 47.64h3.71v3.99h-3.71zM110.70 51.61h3.71v3.99h-3.71zM92.25 91.31h3.71v3.99h-3.71zM40.59 99.25h3.71v3.99h-3.71zM81.18 99.25h3.71v3.99h-3.71zM25.83 131.01h11.09v3.99h-11.09zM55.35 131.01h3.71v3.99h-3.71zM81.18 134.98h3.71v3.99h-3.71zM51.66 142.92h3.71v3.99h-3.71z"/>
<path fill="#cfd4db" d="M121.77 23.82h3.71v3.99h-3.71zM95.94 51.61h3.71v3.99h-3.71zM103.32 55.58h3.71v3.99h-3.71zM114.39 59.55h3.71v3.99h-3.71zM77.49 83.37h3.71v3.99h-3.71zM62.73 87.34h3.71v3.99h-3.71zM44.28 99.25h3.71v3.99h-3.71zM88.56 103.22h3.71v3.99h-3.71zM47.97 107.19h3.71v3.99h-3.71zM88.56 107.19h3.71v3.99h-3.71zM88.56 123.07h7.40v3.99h-7.40zM62.73 138.95h7.40v3.99h-7.40zM18.45 142.92h3.71v3.99h-3.71zM3.69 146.89h3.71v3.99h-3.71z"/>
<path fill="#bfc6d0" d="M125.46 23.82h3.71v3.99h-3.71zM125.46 27.79h3.71v3.99h-3.71zM121.77 35.73h3.71v3.99h-3.71zM73.80 83.37h3.71v3.99h-3.71zM107.01 95.28h3.71v3.99h-3.71zM36.90 111.16h3.71v3.99h-3.71zM88.56 119.10h3.71v3.99h-3.71zM44.28 134.98h7.40v3.99h-7.40zM51.66 138.95h7.40v3.99h-7.40z"/>
<path fill="#d3d7dd" d="M121.77 27.79h3.71v3.99h-3.71zM118.08 39.70h3.71v3.99h-3.71zM121.77 43.67h3.71v3.99h-3.71zM121.77 47.64h3.71v3.99h-3.71zM107.01 79.40h3.71v3.99h-3.71zM110.70 87.34h3.71v3.99h-3.71zM73.80 95.28h3.71v3.99h-3.71zM55.35 103.22h3.71v3.99h-3.71zM25.83 107.19h3.71v3.99h-3.71zM40.59 111.16h3.71v3.99h-3.71zM84.87 111.16h3.71v3.99h-3.71zM84.87 119.10h3.71v3.99h-3.71zM99.63 123.07h3.71v3.99h-3.71zM25.83 142.92h3.71v3.99h-3.71zM0.00 146.89h3.71v3.99h-3.71z"/>
<path fill="#dcdee3" d="M11.07 31.76h3.71v3.99h-3.71zM95.94 47.64h3.71v3.99h-3.71zM114.39 51.61h3.71v3.99h-3.71zM99.63 55.58h3.71v3.99h-3.71zM110.70 83.37h3.71v3.99h-3.71zM88.56 87.34h3.71v3.99h-3.71zM33.21 103.22h3.71v3.99h-3.71zM84.87 103.22h3.71v3.99h-3.71zM29.52 115.13h3.71v3.99h-3.71zM22.14 131.01h3.71v3.99h-3.71zM59.04 131.01h14.78v3.99h-14.78zM3.69 134.98h3.71v3.99h-3.71zM81.18 138.95h3.71v3.99h-3.71zM22.14 142.92h3.71v3.99h-3.71z"/>
<path fill="#c7ccd6" d="M121.77 31.76h3.71v3.99h-3.71zM121.77 39.70h3.71v3.99h-3.71zM118.08 51.61h3.71v3.99h-3.71zM118.08 55.58h3.71v3.99h-3.71zM118.08 59.55h3.71v3.99h-3.71zM107.01 83.37h3.71v3.99h-3.71zM107.01 91.31h3.71v3.99h-3.71zM77.49 95.28h3.71v3.99h-3.71zM36.90 103.22h3.71v3.99h-3.71zM25.83 111.16h3.71v3.99h-3.71zM103.32 115.13h3.71v3.99h-3.71zM103.32 119.10h3.71v3.99h-3.71zM95.94 123.07h3.71v3.99h-3.71zM77.49 134.98h3.71v3.99h-3.71zM59.04 138.95h3.71v3.99h-3.71zM70.11 138.95h3.71v3.99h-3.71zM47.97 142.92h3.71v3.99h-3.71z"/>
<path fill="#cbd0d8" d="M125.46 31.76h3.71v3.99h-3.71zM118.08 43.67h3.71v3.99h-3.71zM118.08 47.64h3.71v3.99h-3.71zM118.08 63.52h3.71v3.99h-3.71zM110.70 79.40h3.71v3.99h-3.71zM107.01 87.34h3.71v3.99h-3.71zM59.04 99.25h3.71v3.99h-3.71zM99.63 99.25h7.40v3.99h-7.40zM77.49 138.95h3.71v3.99h-3.71zM14.76 142.92h3.71v3.99h-3.71zM29.52 142.92h3.71v3.99h-3.71z"/>
<path fill="#aeb8c6" d="M99.63 47.64h3.71v3.99h-3.71zM95.94 107.19h3.71v3.99h-3.71zM88.56 115.13h7.40v3.99h-7.40z"/>
<path fill="#a4afbe" d="M103.32 47.64h3.71v3.99h-3.71zM47.97 103.22h3.71v3.99h-3.71zM33.21 107.19h3.71v3.99h-3.71zM0.00 142.92h3.71v3.99h-3.71z"/>
<path fill="#b2bbc8" d="M107.01 47.64h3.71v3.99h-3.71zM107.01 51.61h3.71v3.99h-3.71zM66.42 87.34h3.71v3.99h-3.71zM59.04 91.31h3.71v3.99h-3.71zM88.56 91.31h3.71v3.99h-3.71zM47.97 99.25h3.71v3.99h-3.71zM44.28 107.19h3.71v3.99h-3.71zM95.94 111.16h3.71v3.99h-3.71zM95.94 115.13h3.71v3.99h-3.71zM95.94 119.10h3.71v3.99h-3.71zM51.66 134.98h3.71v3.99h-3.71zM59.04 134.98h3.71v3.99h-3.71zM36.90 142.92h3.71v3.99h-3.71z"/>
<path fill="#aab4c3" d="M99.63 51.61h3.71v3.99h-3.71zM84.87 87.34h3.71v3.99h-3.71zM33.21 111.16h3.71v3.99h-3.71z"/>
<path fill="#9aa6b7" d="M103.32 51.61h3.71v3.99h-3.71zM70.11 91.31h3.71v3.99h-3.71zM59.04 95.28h3.71v3.99h-3.71zM88.56 95.28h3.71v3.99h-3.71zM51.66 99.25h3.71v3.99h-3.71zM36.90 107.19h7.40v3.99h-7.40zM14.76 134.98h3.71v3.99h-3.71zM29.52 134.98h3.71v3.99h-3.71zM3.69 142.92h3.71v3.99h-3.71zM44.28 142.92h3.71v3.99h-3.71z"/>
<path fill="#d8dbe0" d="M121.77 51.61h3.71v3.99h-3.71zM107.01 55.58h3.71v3.99h-3.71zM114.39 55.58h3.71v3.99h-3.71zM114.39 63.52h3.71v3.99h-3.71zM70.11 83.37h3.71v3.99h-3.71zM55.35 91.31h3.71v3.99h-3.71zM66.42 95.28h3.71v3.99h-3.71zM84.87 123.07h3.71v3.99h-3.71zM18.45 131.01h3.71v3.99h-3.71zM7.38 134.98h3.71v3.99h-3.71z"/>
<path fill="#eee8e0" d="M29.52 67.49h3.71v3.99h-3.71zM44.28 67.49h3.71v3.99h-3.71zM33.21 71.46h3.71v3.99h-3.71zM44.28 71.46h3.71v3.99h-3.71zM0.00 95.28h3.71v3.99h-3.71zM18.45 95.28h3.71v3.99h-3.71zM11.07 99.25h3.71v3.99h-3.71zM47.97 119.10h3.71v3.99h-3.71zM55.35 119.10h3.71v3.99h-3.71zM36.90 123.07h7.40v3.99h-7.40zM107.01 131.01h3.71v3.99h-3.71z"/>
<path fill="#94a1b3" d="M70.11 87.34h3.71v3.99h-3.71zM66.42 91.31h3.71v3.99h-3.71zM92.25 99.25h3.71v3.99h-3.71zM7.38 138.95h3.71v3.99h-3.71z"/>
<path fill="#8594a7" d="M73.80 87.34h3.71v3.99h-3.71zM14.76 138.95h3.71v3.99h-3.71z"/>
<path fill="#7f8ea2" d="M77.49 87.34h3.71v3.99h-3.71zM77.49 91.31h3.71v3.99h-3.71z"/>
<path fill="#8b99ac" d="M81.18 87.34h3.71v3.99h-3.71zM84.87 95.28h3.71v3.99h-3.71zM11.07 138.95h3.71v3.99h-3.71z"/>
<path fill="#97a4b5" d="M62.73 91.31h3.71v3.99h-3.71zM99.63 107.19h3.71v3.99h-3.71zM29.52 111.16h3.71v3.99h-3.71zM47.97 138.95h3.71v3.99h-3.71zM40.59 142.92h3.71v3.99h-3.71z"/>
<path fill="#9ea9ba" d="M73.80 91.31h3.71v3.99h-3.71zM55.35 99.25h3.71v3.99h-3.71z"/>
<path fill="#6f8196" d="M81.18 91.31h3.71v3.99h-3.71zM25.83 138.95h7.40v3.99h-7.40z"/>
<path fill="#78899d" d="M84.87 91.31h3.71v3.99h-3.71zM18.45 138.95h3.71v3.99h-3.71z"/>
<path fill="#c3c9d3" d="M51.66 95.28h3.71v3.99h-3.71zM88.56 111.16h3.71v3.99h-3.71zM84.87 115.13h3.71v3.99h-3.71zM99.63 119.10h3.71v3.99h-3.71zM36.90 134.98h7.40v3.99h-7.40zM0.00 138.95h3.71v3.99h-3.71zM73.80 138.95h3.71v3.99h-3.71zM33.21 142.92h3.71v3.99h-3.71z"/>
<path fill="#a7b1c1" d="M55.35 95.28h3.71v3.99h-3.71zM81.18 95.28h3.71v3.99h-3.71zM95.94 99.25h3.71v3.99h-3.71zM92.25 103.22h3.71v3.99h-3.71zM33.21 134.98h3.71v3.99h-3.71zM3.69 138.95h3.71v3.99h-3.71zM7.38 142.92h3.71v3.99h-3.71z"/>
<path fill="#b6bfcb" d="M62.73 95.28h3.71v3.99h-3.71zM92.25 95.28h3.71v3.99h-3.71zM84.87 99.25h3.71v3.99h-3.71zM40.59 103.22h3.71v3.99h-3.71zM51.66 103.22h3.71v3.99h-3.71zM29.52 107.19h3.71v3.99h-3.71zM92.25 107.19h3.71v3.99h-3.71zM92.25 111.16h3.71v3.99h-3.71zM99.63 111.16h7.40v3.99h-7.40zM92.25 119.10h3.71v3.99h-3.71zM11.07 134.98h3.71v3.99h-3.71zM55.35 134.98h3.71v3.99h-3.71zM62.73 134.98h11.09v3.99h-11.09z"/>
<path fill="#a1acbc" d="M88.56 99.25h3.71v3.99h-3.71zM44.28 103.22h3.71v3.99h-3.71z"/>
<path fill="#8e9cae" d="M95.94 103.22h3.71v3.99h-3.71zM18.45 134.98h3.71v3.99h-3.71z"/>
<path fill="#919eb0" d="M99.63 103.22h3.71v3.99h-3.71z"/>
<path fill="#bbc2ce" d="M99.63 115.13h3.71v3.99h-3.71zM73.80 134.98h3.71v3.99h-3.71zM11.07 142.92h3.71v3.99h-3.71z"/>
<path fill="#8291a4" d="M22.14 134.98h7.40v3.99h-7.40zM33.21 138.95h7.40v3.99h-7.40z"/>
<path fill="#6c7e94" d="M22.14 138.95h3.71v3.99h-3.71z"/>
<path fill="#75869b" d="M40.59 138.95h3.71v3.99h-3.71z"/>
<path fill="#7c8ca0" d="M44.28 138.95h3.71v3.99h-3.71z"/>
</g>
<use href="#coast" fill="none" stroke="#808080" stroke-width="1.25" stroke-linejoin="round"/>
<use href="#grid" fill="none" stroke="#b0b0b0" stroke-width="1.11"/>
</g></g>
<rect x="878.5" y="125.5" width="162" height="154" fill="none" stroke="#000" stroke-width="1.11"/>
<text x="878.78" y="115.00" font-size="13.889" text-anchor="middle">112.5°E</text>
<text x="882.98" y="296.50" font-size="13.889" text-anchor="middle">112.5°E</text>
<text x="948.43" y="115.00" font-size="13.889" text-anchor="middle">113.25°E</text>
<text x="951.24" y="296.50" font-size="13.889" text-anchor="middle">113.25°E</text>
<text x="1017.08" y="115.00" font-size="13.889" text-anchor="middle">114°E</text>
<text x="1020.50" y="296.50" font-size="13.889" text-anchor="middle">114°E</text>
<text x="142.56" y="143.84" font-size="13.889" text-anchor="end">21.6°S</text>
<text x="142.56" y="162.59" font-size="13.889" text-anchor="end">21.8°S</text>
<text x="143.31" y="183.34" font-size="13.889" text-anchor="end">22°S</text>
<text x="143.56" y="203.09" font-size="13.889" text-anchor="end">22.2°S</text>
<text x="143.56" y="222.84" font-size="13.889" text-anchor="end">22.4°S</text>
<text x="143.56" y="242.59" font-size="13.889" text-anchor="end">22.6°S</text>
<text x="143.56" y="262.34" font-size="13.889" text-anchor="end">22.8°S</text>
<text x="143.31" y="282.09" font-size="13.889" text-anchor="end">23°S</text>
<rect x="321.84" y="171.2" width="3.08" height="61.6" fill="url(#g0)"/>
<rect x="322.5" y="171.5" width="3" height="62" fill="none" stroke="#000" stroke-width="1.11"/>
<line x1="325.50" x2="330.28" y1="176.5" y2="176.5" stroke="#000" stroke-width="1.11"/>
<text x="333.89" y="181.14" font-size="13.889" text-anchor="start">302.5</text>
<line x1="325.50" x2="330.28" y1="202.5" y2="202.5" stroke="#000" stroke-width="1.11"/>
<text x="333.89" y="208.14" font-size="13.889" text-anchor="start">300.0</text>
<line x1="325.50" x2="330.28" y1="228.5" y2="228.5" stroke="#000" stroke-width="1.11"/>
<text x="334.89" y="234.14" font-size="13.889" text-anchor="start">297.5</text>
<rect x="564.46" y="171.2" width="3.08" height="61.6" fill="url(#g1)"/>
<rect x="564.5" y="171.5" width="4" height="62" fill="none" stroke="#000" stroke-width="1.11"/>
<line x1="568.50" x2="572.90" y1="183.5" y2="183.5" stroke="#000" stroke-width="1.11"/>
<text x="577.51" y="188.14" font-size="13.889" text-anchor="start">0.25</text>
<line x1="568.50" x2="572.90" y1="202.5" y2="202.5" stroke="#000" stroke-width="1.11"/>
<text x="577.01" y="208.14" font-size="13.889" text-anchor="start">0.00</text>
<line x1="568.50" x2="572.90" y1="221.5" y2="221.5" stroke="#000" stroke-width="1.11"/>
<text x="576.76" y="227.14" font-size="13.889" text-anchor="start">−0.25</text>
<rect x="807.07" y="171.2" width="3.08" height="61.6" fill="url(#g2)"/>
<rect x="807.5" y="171.5" width="3" height="62" fill="none" stroke="#000" stroke-width="1.11"/>
<line x1="810.50" x2="815.51" y1="171.5" y2="171.5" stroke="#000" stroke-width="1.11"/>
<text x="820.62" y="177.14" font-size="13.889" text-anchor="start">0.2</text>
<line x1="810.50" x2="815.51" y1="202.5" y2="202.5" stroke="#000" stroke-width="1.11"/>
<text x="820.37" y="208.14" font-size="13.889" text-anchor="start">0.0</text>
<line x1="810.50" x2="815.51" y1="233.5" y2="233.5" stroke="#000" stroke-width="1.11"/>
<text x="818.87" y="238.14" font-size="13.889" text-anchor="start">−0.2</text>
<rect x="1049.68" y="171.2" width="3.08" height="61.6" fill="url(#g2)"/>
<rect x="1050.5" y="171.5" width="3" height="62" fill="none" stroke="#000" stroke-width="1.11"/>
<line x1="1053.50" x2="1058.12" y1="171.5" y2="171.5" stroke="#000" stroke-width="1.11"/>
<text x="1062.73" y="177.14" font-size="13.889" text-anchor="start">0.2</text>
<line x1="1053.50" x2="1058.12" y1="202.5" y2="202.5" stroke="#000" stroke-width="1.11"/>
<text x="1062.23" y="208.14" font-size="13.889" text-anchor="start">0.0</text>
<line x1="1053.50" x2="1058.12" y1="233.5" y2="233.5" stroke="#000" stroke-width="1.11"/>
<text x="1061.98" y="238.14" font-size="13.889" text-anchor="start">−0.2</text>
</svg>
</body></html>
